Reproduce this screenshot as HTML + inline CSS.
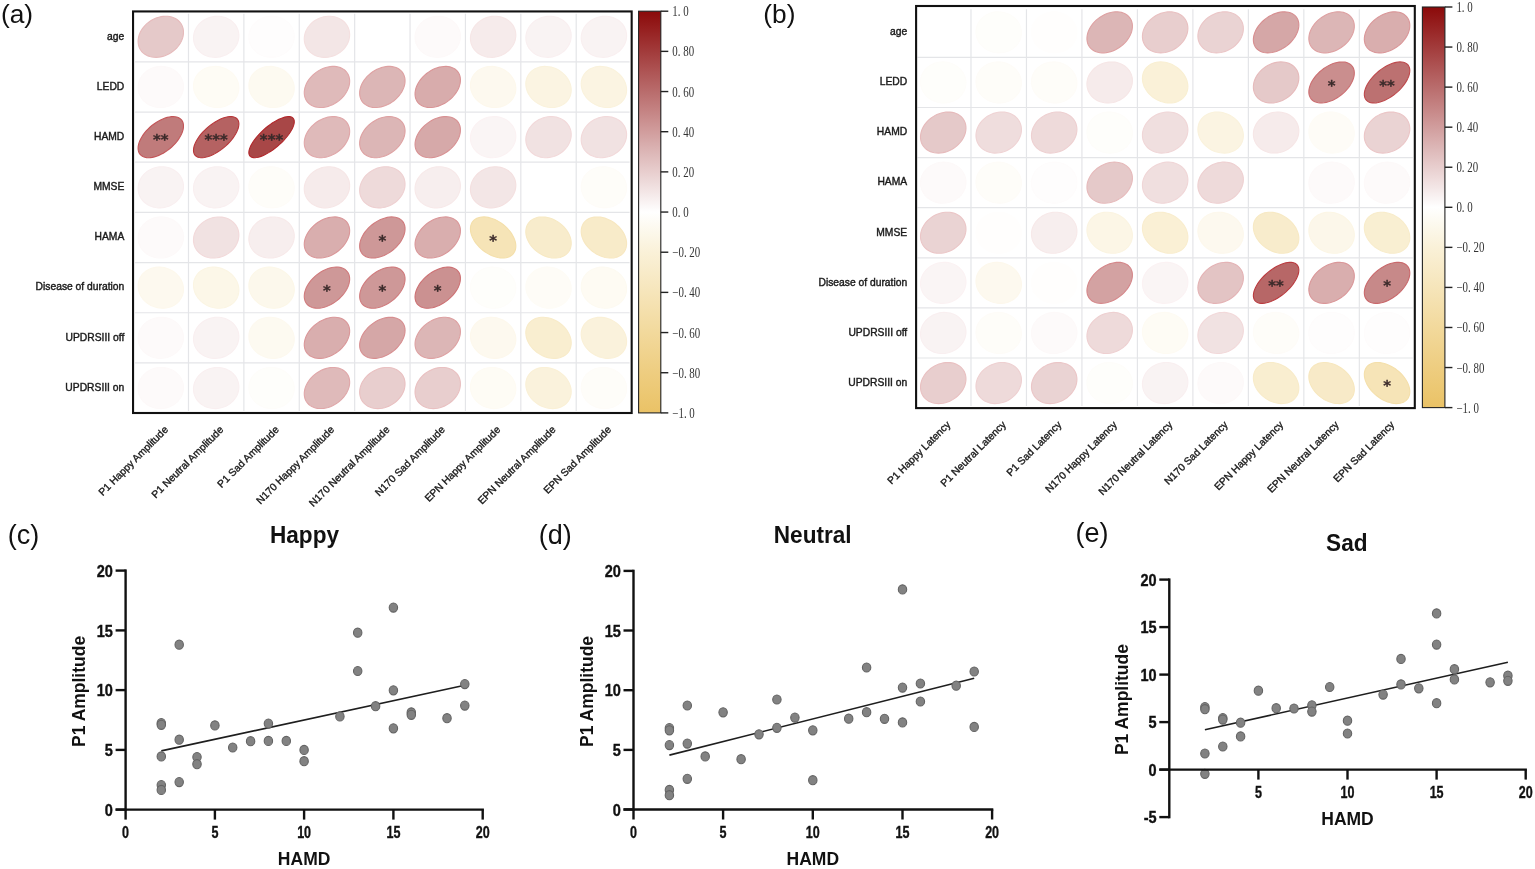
<!DOCTYPE html>
<html><head><meta charset="utf-8"><title>Figure</title>
<style>html,body{margin:0;padding:0;background:#fff;}body{width:1535px;height:869px;overflow:hidden;}svg{display:block;}</style>
</head><body>
<svg width="1535" height="869" viewBox="0 0 1535 869" font-family="'Liberation Sans', Arial, Helvetica, sans-serif">
<rect width="1535" height="869" fill="#fff"/>
<g stroke="#e4e5e8" stroke-width="1.2">
<line x1="188.49" y1="13.7" x2="188.49" y2="411.1"/>
<line x1="243.88" y1="13.7" x2="243.88" y2="411.1"/>
<line x1="299.27" y1="13.7" x2="299.27" y2="411.1"/>
<line x1="354.66" y1="13.7" x2="354.66" y2="411.1"/>
<line x1="410.04" y1="13.7" x2="410.04" y2="411.1"/>
<line x1="465.43" y1="13.7" x2="465.43" y2="411.1"/>
<line x1="520.82" y1="13.7" x2="520.82" y2="411.1"/>
<line x1="576.21" y1="13.7" x2="576.21" y2="411.1"/>
<line x1="135.1" y1="61.88" x2="629.6" y2="61.88"/>
<line x1="135.1" y1="112.05" x2="629.6" y2="112.05"/>
<line x1="135.1" y1="162.22" x2="629.6" y2="162.22"/>
<line x1="135.1" y1="212.40" x2="629.6" y2="212.40"/>
<line x1="135.1" y1="262.58" x2="629.6" y2="262.58"/>
<line x1="135.1" y1="312.75" x2="629.6" y2="312.75"/>
<line x1="135.1" y1="362.93" x2="629.6" y2="362.93"/>
</g>
<path d="M178.53,20.72 L177.06,19.54 L175.42,18.52 L173.65,17.68 L171.75,17.03 L169.75,16.56 L167.66,16.29 L165.51,16.22 L163.31,16.34 L161.08,16.66 L158.86,17.18 L156.65,17.88 L154.48,18.77 L152.37,19.83 L150.35,21.05 L148.42,22.43 L146.61,23.94 L144.94,25.58 L143.42,27.32 L142.07,29.16 L140.90,31.07 L139.93,33.03 L139.15,35.03 L138.58,37.05 L138.22,39.06 L138.09,41.06 L138.17,43.01 L138.47,44.90 L138.98,46.72 L139.70,48.43 L140.63,50.04 L141.75,51.52 L143.06,52.85 L144.53,54.04 L146.17,55.05 L147.94,55.89 L149.84,56.55 L151.84,57.01 L153.93,57.28 L156.08,57.36 L158.28,57.23 L160.51,56.91 L162.73,56.40 L164.94,55.69 L167.11,54.81 L169.22,53.75 L171.24,52.52 L173.17,51.15 L174.98,49.63 L176.65,48.00 L178.16,46.25 L179.51,44.42 L180.68,42.51 L181.66,40.54 L182.44,38.54 L183.01,36.53 L183.36,34.51 L183.50,32.52 L183.42,30.57 L183.12,28.67 L182.61,26.86 L181.88,25.14 L180.96,23.54 L179.84,22.06Z" fill="#e5c9c9" stroke="#e6babb" stroke-width="1.1"/>
<path d="M232.64,21.88 L231.02,20.56 L229.27,19.40 L227.39,18.41 L225.40,17.59 L223.32,16.96 L221.17,16.52 L218.97,16.27 L216.75,16.22 L214.52,16.37 L212.31,16.72 L210.14,17.26 L208.02,17.98 L205.98,18.89 L204.04,19.97 L202.22,21.22 L200.53,22.61 L198.99,24.14 L197.62,25.79 L196.43,27.55 L195.43,29.39 L194.62,31.31 L194.03,33.28 L193.65,35.28 L193.48,37.30 L193.53,39.32 L193.81,41.30 L194.29,43.25 L194.99,45.13 L195.89,46.94 L196.99,48.64 L198.27,50.23 L199.73,51.69 L201.34,53.01 L203.10,54.17 L204.98,55.17 L206.97,55.98 L209.05,56.62 L211.20,57.06 L213.39,57.30 L215.62,57.35 L217.84,57.20 L220.06,56.86 L222.23,56.32 L224.35,55.59 L226.38,54.68 L228.32,53.60 L230.15,52.36 L231.83,50.97 L233.37,49.44 L234.74,47.79 L235.94,46.03 L236.94,44.18 L237.74,42.26 L238.34,40.30 L238.72,38.29 L238.89,36.27 L238.83,34.26 L238.56,32.27 L238.07,30.33 L237.37,28.44 L236.47,26.64 L235.38,24.93 L234.09,23.34Z" fill="#f9f3f3" stroke="#f9eff0" stroke-width="1.1"/>
<path d="M287.71,22.17 L286.07,20.82 L284.28,19.63 L282.38,18.60 L280.37,17.74 L278.27,17.07 L276.11,16.59 L273.91,16.30 L271.69,16.22 L269.46,16.33 L267.25,16.63 L265.09,17.13 L262.99,17.82 L260.97,18.69 L259.05,19.74 L257.25,20.95 L255.59,22.31 L254.09,23.82 L252.75,25.44 L251.60,27.18 L250.64,29.01 L249.87,30.91 L249.32,32.88 L248.98,34.87 L248.86,36.89 L248.96,38.91 L249.28,40.90 L249.81,42.86 L250.55,44.75 L251.49,46.58 L252.63,48.30 L253.95,49.92 L255.43,51.41 L257.08,52.75 L258.86,53.95 L260.77,54.98 L262.78,55.83 L264.87,56.50 L267.03,56.98 L269.23,57.27 L271.46,57.36 L273.69,57.25 L275.89,56.94 L278.06,56.44 L280.16,55.75 L282.18,54.88 L284.09,53.83 L285.89,52.62 L287.55,51.26 L289.05,49.76 L290.39,48.13 L291.55,46.39 L292.51,44.56 L293.27,42.66 L293.82,40.70 L294.16,38.70 L294.28,36.68 L294.18,34.67 L293.87,32.67 L293.34,30.72 L292.60,28.82 L291.65,27.00 L290.52,25.27 L289.20,23.66Z" fill="#fefdfd" stroke="#fefcfc" stroke-width="1.1"/>
<path d="M343.80,21.53 L342.23,20.25 L340.51,19.13 L338.66,18.18 L336.69,17.41 L334.63,16.83 L332.50,16.44 L330.32,16.24 L328.10,16.24 L325.87,16.44 L323.65,16.84 L321.47,17.43 L319.33,18.20 L317.27,19.15 L315.31,20.28 L313.45,21.56 L311.73,22.99 L310.15,24.55 L308.73,26.23 L307.49,28.01 L306.44,29.88 L305.59,31.81 L304.94,33.79 L304.50,35.80 L304.28,37.82 L304.28,39.83 L304.49,41.81 L304.93,43.74 L305.57,45.60 L306.42,47.38 L307.47,49.06 L308.71,50.62 L310.12,52.04 L311.69,53.32 L313.41,54.44 L315.27,55.39 L317.23,56.16 L319.29,56.75 L321.42,57.14 L323.61,57.34 L325.82,57.33 L328.05,57.13 L330.27,56.74 L332.46,56.15 L334.59,55.38 L336.65,54.42 L338.62,53.30 L340.47,52.02 L342.20,50.59 L343.77,49.03 L345.19,47.35 L346.43,45.56 L347.48,43.70 L348.34,41.77 L348.98,39.79 L349.42,37.78 L349.64,35.76 L349.64,33.75 L349.43,31.77 L349.00,29.84 L348.35,27.97 L347.50,26.19 L346.45,24.52 L345.21,22.96Z" fill="#f3e6e6" stroke="#f4e0e0" stroke-width="1.1"/>
<path d="M453.96,22.10 L452.32,20.76 L450.54,19.57 L448.64,18.55 L446.64,17.70 L444.55,17.04 L442.39,16.57 L440.19,16.30 L437.97,16.22 L435.74,16.34 L433.53,16.65 L431.36,17.16 L429.26,17.86 L427.23,18.74 L425.31,19.80 L423.51,21.02 L421.84,22.39 L420.33,23.90 L418.98,25.53 L417.82,27.27 L416.85,29.11 L416.07,31.01 L415.51,32.98 L415.16,34.98 L415.03,36.99 L415.12,39.01 L415.42,41.00 L415.94,42.96 L416.67,44.85 L417.60,46.67 L418.73,48.39 L420.04,50.00 L421.52,51.48 L423.16,52.82 L424.93,54.01 L426.83,55.03 L428.84,55.87 L430.93,56.53 L433.09,57.00 L435.29,57.28 L437.51,57.36 L439.74,57.24 L441.95,56.92 L444.11,56.41 L446.22,55.71 L448.24,54.83 L450.17,53.78 L451.97,52.56 L453.64,51.19 L455.15,49.68 L456.49,48.04 L457.66,46.30 L458.63,44.47 L459.40,42.56 L459.97,40.60 L460.32,38.60 L460.45,36.58 L460.36,34.57 L460.06,32.57 L459.54,30.62 L458.81,28.73 L457.87,26.91 L456.75,25.19 L455.44,23.58Z" fill="#fdfafa" stroke="#fdf9f9" stroke-width="1.1"/>
<path d="M509.82,21.67 L508.23,20.38 L506.49,19.24 L504.63,18.27 L502.65,17.48 L500.58,16.88 L498.45,16.47 L496.26,16.25 L494.04,16.23 L491.81,16.41 L489.59,16.79 L487.41,17.36 L485.28,18.11 L483.23,19.05 L481.28,20.15 L479.44,21.42 L477.73,22.84 L476.16,24.38 L474.77,26.05 L473.54,27.82 L472.51,29.68 L471.68,31.61 L471.05,33.59 L470.63,35.59 L470.44,37.61 L470.46,39.62 L470.70,41.61 L471.15,43.54 L471.82,45.41 L472.69,47.20 L473.76,48.89 L475.01,50.46 L476.44,51.90 L478.03,53.20 L479.77,54.34 L481.63,55.30 L483.60,56.09 L485.67,56.70 L487.81,57.11 L490.00,57.32 L492.22,57.34 L494.45,57.16 L496.66,56.79 L498.84,56.22 L500.97,55.46 L503.02,54.53 L504.98,53.42 L506.82,52.15 L508.53,50.74 L510.09,49.19 L511.49,47.52 L512.71,45.75 L513.74,43.89 L514.58,41.97 L515.21,39.99 L515.62,37.98 L515.82,35.96 L515.80,33.95 L515.56,31.97 L515.11,30.03 L514.44,28.16 L513.57,26.37 L512.50,24.68 L511.25,23.11Z" fill="#f6ebeb" stroke="#f6e6e6" stroke-width="1.1"/>
<path d="M564.97,21.88 L563.36,20.56 L561.60,19.40 L559.72,18.41 L557.73,17.59 L555.65,16.96 L553.50,16.52 L551.31,16.27 L549.08,16.22 L546.86,16.37 L544.64,16.72 L542.47,17.26 L540.35,17.98 L538.32,18.89 L536.38,19.97 L534.55,21.22 L532.87,22.61 L531.33,24.14 L529.96,25.79 L528.76,27.55 L527.76,29.39 L526.96,31.31 L526.36,33.28 L525.98,35.28 L525.81,37.30 L525.87,39.32 L526.14,41.30 L526.63,43.25 L527.33,45.13 L528.23,46.94 L529.32,48.64 L530.61,50.23 L532.06,51.69 L533.68,53.01 L535.43,54.17 L537.31,55.17 L539.30,55.98 L541.38,56.62 L543.53,57.06 L545.73,57.30 L547.95,57.35 L550.18,57.20 L552.39,56.86 L554.56,56.32 L556.68,55.59 L558.72,54.68 L560.66,53.60 L562.48,52.36 L564.17,50.97 L565.71,49.44 L567.08,47.79 L568.27,46.03 L569.27,44.18 L570.08,42.26 L570.67,40.30 L571.05,38.29 L571.22,36.27 L571.17,34.26 L570.89,32.27 L570.41,30.33 L569.71,28.44 L568.81,26.64 L567.71,24.93 L566.43,23.34Z" fill="#f9f3f3" stroke="#f9eff0" stroke-width="1.1"/>
<path d="M620.36,21.88 L618.75,20.56 L616.99,19.40 L615.11,18.41 L613.12,17.59 L611.04,16.96 L608.89,16.52 L606.70,16.27 L604.47,16.22 L602.25,16.37 L600.03,16.72 L597.86,17.26 L595.74,17.98 L593.70,18.89 L591.77,19.97 L589.94,21.22 L588.25,22.61 L586.72,24.14 L585.34,25.79 L584.15,27.55 L583.15,29.39 L582.35,31.31 L581.75,33.28 L581.37,35.28 L581.20,37.30 L581.26,39.32 L581.53,41.30 L582.02,43.25 L582.71,45.13 L583.62,46.94 L584.71,48.64 L586.00,50.23 L587.45,51.69 L589.06,53.01 L590.82,54.17 L592.70,55.17 L594.69,55.98 L596.77,56.62 L598.92,57.06 L601.12,57.30 L603.34,57.35 L605.57,57.20 L607.78,56.86 L609.95,56.32 L612.07,55.59 L614.11,54.68 L616.05,53.60 L617.87,52.36 L619.56,50.97 L621.09,49.44 L622.47,47.79 L623.66,46.03 L624.66,44.18 L625.47,42.26 L626.06,40.30 L626.44,38.29 L626.61,36.27 L626.55,34.26 L626.28,32.27 L625.80,30.33 L625.10,28.44 L624.19,26.64 L623.10,24.93 L621.81,23.34Z" fill="#f9f3f3" stroke="#f9eff0" stroke-width="1.1"/>
<path d="M177.01,72.27 L175.38,70.93 L173.60,69.74 L171.70,68.72 L169.69,67.88 L167.60,67.22 L165.45,66.75 L163.25,66.47 L161.02,66.39 L158.79,66.51 L156.59,66.83 L154.42,67.34 L152.31,68.04 L150.29,68.92 L148.37,69.97 L146.56,71.19 L144.90,72.56 L143.38,74.07 L142.04,75.71 L140.87,77.45 L139.90,79.28 L139.13,81.19 L138.57,83.15 L138.22,85.15 L138.09,87.17 L138.17,89.18 L138.48,91.18 L139.00,93.13 L139.73,95.02 L140.66,96.84 L141.79,98.56 L143.10,100.17 L144.58,101.65 L146.21,102.99 L147.99,104.18 L149.89,105.20 L151.89,106.05 L153.99,106.71 L156.14,107.18 L158.34,107.45 L160.57,107.53 L162.79,107.41 L165.00,107.10 L167.17,106.59 L169.27,105.89 L171.30,105.01 L173.22,103.95 L175.02,102.73 L176.69,101.36 L178.20,99.85 L179.55,98.22 L180.71,96.48 L181.69,94.64 L182.46,92.74 L183.02,90.77 L183.37,88.77 L183.50,86.76 L183.42,84.74 L183.11,82.75 L182.59,80.79 L181.86,78.90 L180.93,77.08 L179.80,75.36 L178.49,73.75Z" fill="#fdfafa" stroke="#fdf9f9" stroke-width="1.1"/>
<path d="M231.83,72.78 L230.15,71.39 L228.32,70.15 L226.38,69.07 L224.35,68.16 L222.23,67.43 L220.06,66.89 L217.84,66.55 L215.62,66.40 L213.39,66.45 L211.20,66.69 L209.05,67.13 L206.97,67.77 L204.98,68.58 L203.10,69.58 L201.34,70.74 L199.73,72.06 L198.27,73.52 L196.99,75.11 L195.89,76.81 L194.99,78.62 L194.29,80.50 L193.81,82.45 L193.53,84.43 L193.48,86.45 L193.65,88.47 L194.03,90.47 L194.62,92.44 L195.43,94.36 L196.43,96.20 L197.62,97.96 L198.99,99.61 L200.53,101.14 L202.22,102.53 L204.04,103.78 L205.98,104.86 L208.02,105.77 L210.14,106.49 L212.31,107.03 L214.52,107.38 L216.75,107.53 L218.97,107.48 L221.17,107.23 L223.32,106.79 L225.40,106.16 L227.39,105.34 L229.27,104.35 L231.02,103.19 L232.64,101.87 L234.09,100.41 L235.38,98.82 L236.47,97.11 L237.37,95.31 L238.07,93.42 L238.56,91.48 L238.83,89.49 L238.89,87.48 L238.72,85.46 L238.34,83.45 L237.74,81.49 L236.94,79.57 L235.94,77.72 L234.74,75.96 L233.37,74.31Z" fill="#fefcf5" stroke="#fefbf3" stroke-width="1.1"/>
<path d="M287.06,72.93 L285.36,71.53 L283.52,70.27 L281.57,69.17 L279.52,68.24 L277.40,67.50 L275.22,66.94 L273.01,66.57 L270.78,66.40 L268.56,66.43 L266.36,66.66 L264.22,67.08 L262.15,67.69 L260.17,68.49 L258.30,69.47 L256.56,70.61 L254.96,71.92 L253.52,73.36 L252.26,74.94 L251.18,76.64 L250.30,78.43 L249.62,80.31 L249.16,82.25 L248.91,84.23 L248.88,86.24 L249.06,88.26 L249.47,90.27 L250.08,92.24 L250.91,94.16 L251.93,96.02 L253.14,97.79 L254.53,99.45 L256.09,100.99 L257.79,102.40 L259.62,103.66 L261.58,104.75 L263.62,105.68 L265.75,106.43 L267.92,106.99 L270.14,107.35 L272.37,107.52 L274.59,107.49 L276.78,107.27 L278.92,106.85 L280.99,106.23 L282.97,105.43 L284.84,104.46 L286.58,103.31 L288.18,102.01 L289.62,100.56 L290.88,98.98 L291.96,97.29 L292.84,95.50 L293.52,93.62 L293.99,91.68 L294.24,89.69 L294.27,87.68 L294.08,85.66 L293.68,83.66 L293.06,81.68 L292.24,79.76 L291.21,77.91 L290.00,76.14 L288.61,74.48Z" fill="#fdfaf1" stroke="#fdf9ef" stroke-width="1.1"/>
<path d="M345.13,70.51 L343.71,69.37 L342.12,68.41 L340.39,67.63 L338.53,67.03 L336.56,66.63 L334.50,66.42 L332.36,66.41 L330.17,66.60 L327.95,66.98 L325.73,67.56 L323.51,68.32 L321.33,69.26 L319.20,70.37 L317.14,71.65 L315.18,73.07 L313.34,74.62 L311.62,76.29 L310.05,78.07 L308.65,79.93 L307.42,81.86 L306.38,83.83 L305.54,85.84 L304.90,87.86 L304.48,89.87 L304.27,91.85 L304.29,93.79 L304.52,95.66 L304.96,97.44 L305.62,99.13 L306.48,100.70 L307.55,102.13 L308.79,103.42 L310.22,104.55 L311.80,105.51 L313.53,106.29 L315.39,106.89 L317.36,107.30 L319.43,107.50 L321.56,107.51 L323.75,107.33 L325.97,106.94 L328.20,106.37 L330.41,105.61 L332.60,104.66 L334.73,103.55 L336.78,102.28 L338.74,100.86 L340.59,99.31 L342.30,97.63 L343.87,95.86 L345.27,94.00 L346.50,92.07 L347.54,90.09 L348.38,88.08 L349.02,86.06 L349.44,84.05 L349.65,82.07 L349.64,80.14 L349.41,78.27 L348.96,76.48 L348.30,74.80 L347.44,73.23 L346.38,71.79Z" fill="#dfbaba" stroke="#e0a7a9" stroke-width="1.1"/>
<path d="M400.66,70.38 L399.25,69.26 L397.69,68.32 L395.97,67.56 L394.12,66.98 L392.16,66.60 L390.11,66.41 L387.98,66.42 L385.80,66.63 L383.58,67.03 L381.35,67.63 L379.13,68.41 L376.94,69.37 L374.81,70.50 L372.74,71.79 L370.77,73.23 L368.91,74.79 L367.19,76.48 L365.60,78.26 L364.18,80.13 L362.93,82.07 L361.87,84.05 L361.01,86.06 L360.35,88.08 L359.90,90.08 L359.67,92.06 L359.66,93.99 L359.87,95.85 L360.29,97.63 L360.93,99.30 L361.77,100.85 L362.81,102.28 L364.04,103.55 L365.45,104.66 L367.01,105.60 L368.73,106.37 L370.58,106.94 L372.54,107.33 L374.59,107.51 L376.72,107.50 L378.90,107.30 L381.12,106.89 L383.35,106.30 L385.57,105.51 L387.76,104.55 L389.89,103.42 L391.96,102.13 L393.93,100.70 L395.79,99.13 L397.51,97.45 L399.10,95.66 L400.52,93.79 L401.77,91.86 L402.83,89.88 L403.69,87.87 L404.35,85.85 L404.80,83.84 L405.03,81.86 L405.04,79.93 L404.83,78.07 L404.41,76.30 L403.77,74.62 L402.93,73.07 L401.89,71.65Z" fill="#dcb6b6" stroke="#dea1a2" stroke-width="1.1"/>
<path d="M456.33,70.12 L454.96,69.05 L453.43,68.14 L451.74,67.42 L449.92,66.88 L447.98,66.54 L445.95,66.40 L443.83,66.45 L441.66,66.70 L439.45,67.15 L437.22,67.78 L435.00,68.60 L432.80,69.60 L430.65,70.77 L428.57,72.09 L426.58,73.55 L424.69,75.14 L422.93,76.85 L421.32,78.66 L419.86,80.54 L418.57,82.49 L417.47,84.48 L416.56,86.49 L415.86,88.51 L415.37,90.51 L415.09,92.48 L415.04,94.40 L415.20,96.24 L415.57,98.00 L416.16,99.65 L416.96,101.17 L417.96,102.56 L419.15,103.80 L420.52,104.88 L422.05,105.78 L423.74,106.51 L425.56,107.04 L427.49,107.38 L429.53,107.53 L431.65,107.48 L433.82,107.23 L436.03,106.78 L438.26,106.14 L440.48,105.32 L442.68,104.32 L444.83,103.16 L446.91,101.84 L448.90,100.37 L450.78,98.78 L452.54,97.07 L454.16,95.27 L455.62,93.38 L456.90,91.44 L458.01,89.45 L458.91,87.43 L459.62,85.42 L460.11,83.41 L460.38,81.44 L460.44,79.53 L460.28,77.68 L459.90,75.93 L459.31,74.28 L458.52,72.75 L457.52,71.36Z" fill="#d8acac" stroke="#d99496" stroke-width="1.1"/>
<path d="M508.53,73.01 L506.82,71.60 L504.98,70.33 L503.02,69.22 L500.97,68.29 L498.84,67.53 L496.66,66.96 L494.45,66.59 L492.22,66.41 L490.00,66.43 L487.81,66.64 L485.67,67.05 L483.60,67.66 L481.63,68.45 L479.77,69.41 L478.03,70.55 L476.44,71.85 L475.01,73.29 L473.76,74.86 L472.69,76.55 L471.82,78.34 L471.15,80.21 L470.70,82.14 L470.46,84.13 L470.44,86.14 L470.63,88.16 L471.05,90.16 L471.68,92.14 L472.51,94.07 L473.54,95.93 L474.77,97.70 L476.16,99.37 L477.73,100.91 L479.44,102.33 L481.28,103.60 L483.23,104.70 L485.28,105.64 L487.41,106.39 L489.59,106.96 L491.81,107.34 L494.04,107.52 L496.26,107.50 L498.45,107.28 L500.58,106.87 L502.65,106.27 L504.63,105.48 L506.49,104.51 L508.23,103.37 L509.82,102.08 L511.25,100.64 L512.50,99.07 L513.57,97.38 L514.44,95.59 L515.11,93.72 L515.56,91.78 L515.80,89.80 L515.82,87.79 L515.62,85.77 L515.21,83.76 L514.58,81.78 L513.74,79.86 L512.71,78.00 L511.49,76.23 L510.09,74.56Z" fill="#fdf9ef" stroke="#fdf8ec" stroke-width="1.1"/>
<path d="M563.32,73.55 L561.56,72.09 L559.68,70.77 L557.69,69.60 L555.60,68.60 L553.46,67.78 L551.26,67.15 L549.04,66.70 L546.81,66.45 L544.60,66.40 L542.42,66.54 L540.31,66.88 L538.27,67.42 L536.34,68.14 L534.52,69.05 L532.83,70.12 L531.30,71.36 L529.93,72.75 L528.74,74.28 L527.74,75.93 L526.94,77.68 L526.35,79.53 L525.97,81.44 L525.81,83.41 L525.87,85.42 L526.15,87.43 L526.64,89.45 L527.34,91.44 L528.25,93.38 L529.35,95.27 L530.64,97.07 L532.10,98.78 L533.71,100.37 L535.47,101.84 L537.36,103.16 L539.35,104.32 L541.43,105.32 L543.58,106.14 L545.77,106.78 L548.00,107.23 L550.22,107.48 L552.44,107.53 L554.61,107.38 L556.72,107.04 L558.76,106.51 L560.70,105.78 L562.52,104.88 L564.20,103.80 L565.74,102.56 L567.11,101.17 L568.29,99.65 L569.29,98.00 L570.09,96.24 L570.68,94.40 L571.06,92.48 L571.22,90.51 L571.16,88.51 L570.89,86.49 L570.39,84.48 L569.69,82.49 L568.78,80.54 L567.68,78.66 L566.40,76.85 L564.94,75.14Z" fill="#fbf4e2" stroke="#faf2dc" stroke-width="1.1"/>
<path d="M618.71,73.55 L616.95,72.09 L615.07,70.77 L613.07,69.60 L610.99,68.60 L608.84,67.78 L606.65,67.15 L604.43,66.70 L602.20,66.45 L599.99,66.40 L597.81,66.54 L595.70,66.88 L593.66,67.42 L591.72,68.14 L589.90,69.05 L588.22,70.12 L586.69,71.36 L585.32,72.75 L584.13,74.28 L583.13,75.93 L582.33,77.68 L581.74,79.53 L581.36,81.44 L581.20,83.41 L581.26,85.42 L581.54,87.43 L582.03,89.45 L582.73,91.44 L583.64,93.38 L584.74,95.27 L586.03,97.07 L587.48,98.78 L589.10,100.37 L590.86,101.84 L592.74,103.16 L594.74,104.32 L596.82,105.32 L598.97,106.14 L601.16,106.78 L603.39,107.23 L605.61,107.48 L607.82,107.53 L610.00,107.38 L612.11,107.04 L614.15,106.51 L616.09,105.78 L617.91,104.88 L619.59,103.80 L621.13,102.56 L622.49,101.17 L623.68,99.65 L624.68,98.00 L625.48,96.24 L626.07,94.40 L626.45,92.48 L626.61,90.51 L626.55,88.51 L626.27,86.49 L625.78,84.48 L625.08,82.49 L624.17,80.54 L623.07,78.66 L621.79,76.85 L620.33,75.14Z" fill="#fbf4e2" stroke="#faf2dc" stroke-width="1.1"/>
<path d="M180.72,119.09 L179.56,118.21 L178.21,117.51 L176.70,117.00 L175.04,116.68 L173.23,116.57 L171.31,116.65 L169.29,116.92 L167.18,117.40 L165.02,118.06 L162.81,118.91 L160.58,119.93 L158.36,121.11 L156.16,122.46 L154.00,123.94 L151.91,125.55 L149.90,127.27 L148.00,129.09 L146.22,130.98 L144.59,132.94 L143.11,134.93 L141.80,136.95 L140.67,138.96 L139.73,140.96 L139.00,142.93 L138.48,144.83 L138.17,146.67 L138.09,148.41 L138.22,150.04 L138.56,151.55 L139.13,152.92 L139.90,154.14 L140.87,155.19 L142.03,156.07 L143.37,156.77 L144.89,157.28 L146.55,157.59 L148.35,157.71 L150.28,157.63 L152.30,157.35 L154.40,156.88 L156.57,156.22 L158.78,155.37 L161.01,154.35 L163.23,153.16 L165.43,151.82 L167.59,150.34 L169.68,148.73 L171.69,147.00 L173.59,145.19 L175.36,143.29 L177.00,141.34 L178.48,139.34 L179.79,137.33 L180.92,135.31 L181.86,133.31 L182.59,131.35 L183.11,129.44 L183.41,127.61 L183.50,125.87 L183.37,124.24 L183.03,122.73 L182.46,121.36 L181.69,120.14Z" fill="#c07b7b" stroke="#c35558" stroke-width="1.1"/>
<path d="M236.75,118.51 L235.70,117.74 L234.47,117.16 L233.07,116.78 L231.50,116.59 L229.78,116.59 L227.93,116.80 L225.97,117.20 L223.91,117.79 L221.78,118.57 L219.60,119.53 L217.38,120.66 L215.15,121.95 L212.93,123.38 L210.75,124.94 L208.61,126.63 L206.55,128.41 L204.58,130.28 L202.72,132.21 L200.99,134.19 L199.41,136.20 L197.99,138.22 L196.75,140.23 L195.69,142.21 L194.83,144.14 L194.17,146.00 L193.73,147.78 L193.51,149.45 L193.50,151.01 L193.71,152.43 L194.13,153.71 L194.77,154.82 L195.62,155.77 L196.66,156.53 L197.89,157.11 L199.30,157.50 L200.87,157.69 L202.59,157.68 L204.44,157.48 L206.40,157.07 L208.46,156.48 L210.59,155.70 L212.77,154.74 L214.99,153.62 L217.22,152.33 L219.43,150.90 L221.62,149.33 L223.76,147.65 L225.82,145.87 L227.79,144.00 L229.64,142.06 L231.37,140.08 L232.95,138.07 L234.37,136.05 L235.62,134.04 L236.68,132.07 L237.54,130.14 L238.19,128.27 L238.63,126.50 L238.86,124.82 L238.87,123.27 L238.66,121.84 L238.23,120.57 L237.59,119.45Z" fill="#b56262" stroke="#b83639" stroke-width="1.1"/>
<path d="M292.81,117.89 L291.93,117.27 L290.84,116.85 L289.57,116.61 L288.13,116.58 L286.52,116.74 L284.77,117.10 L282.90,117.65 L280.92,118.39 L278.84,119.31 L276.70,120.40 L274.51,121.65 L272.28,123.05 L270.06,124.59 L267.84,126.25 L265.66,128.01 L263.54,129.86 L261.50,131.79 L259.55,133.76 L257.72,135.76 L256.03,137.78 L254.48,139.79 L253.09,141.78 L251.89,143.72 L250.87,145.60 L250.06,147.40 L249.45,149.10 L249.05,150.68 L248.87,152.13 L248.91,153.44 L249.17,154.59 L249.64,155.58 L250.33,156.38 L251.22,157.00 L252.30,157.43 L253.57,157.66 L255.02,157.70 L256.62,157.54 L258.37,157.18 L260.24,156.63 L262.23,155.89 L264.30,154.97 L266.45,153.88 L268.64,152.62 L270.86,151.22 L273.09,149.68 L275.30,148.03 L277.48,146.26 L279.60,144.41 L281.64,142.49 L283.59,140.52 L285.42,138.51 L287.12,136.49 L288.67,134.48 L290.05,132.49 L291.25,130.55 L292.27,128.67 L293.09,126.88 L293.70,125.18 L294.09,123.60 L294.27,122.14 L294.23,120.83 L293.97,119.68 L293.50,118.70Z" fill="#a84747" stroke="#b2262a" stroke-width="1.1"/>
<path d="M345.13,120.68 L343.71,119.55 L342.12,118.59 L340.39,117.81 L338.53,117.21 L336.56,116.80 L334.50,116.60 L332.36,116.59 L330.17,116.77 L327.95,117.16 L325.73,117.73 L323.51,118.49 L321.33,119.44 L319.20,120.55 L317.14,121.82 L315.18,123.24 L313.34,124.79 L311.62,126.47 L310.05,128.24 L308.65,130.10 L307.42,132.03 L306.38,134.01 L305.54,136.02 L304.90,138.04 L304.48,140.05 L304.27,142.03 L304.29,143.96 L304.52,145.83 L304.96,147.62 L305.62,149.30 L306.48,150.87 L307.55,152.31 L308.79,153.59 L310.22,154.73 L311.80,155.69 L313.53,156.47 L315.39,157.07 L317.36,157.47 L319.43,157.68 L321.56,157.69 L323.75,157.50 L325.97,157.12 L328.20,156.54 L330.41,155.78 L332.60,154.84 L334.73,153.73 L336.78,152.45 L338.74,151.03 L340.59,149.48 L342.30,147.81 L343.87,146.03 L345.27,144.17 L346.50,142.24 L347.54,140.27 L348.38,138.26 L349.02,136.24 L349.44,134.23 L349.65,132.25 L349.64,130.31 L349.41,128.44 L348.96,126.66 L348.30,124.97 L347.44,123.40 L346.38,121.97Z" fill="#dfbaba" stroke="#e0a7a9" stroke-width="1.1"/>
<path d="M400.66,120.55 L399.25,119.44 L397.69,118.50 L395.97,117.73 L394.12,117.16 L392.16,116.77 L390.11,116.59 L387.98,116.60 L385.80,116.80 L383.58,117.21 L381.35,117.80 L379.13,118.59 L376.94,119.55 L374.81,120.68 L372.74,121.97 L370.77,123.40 L368.91,124.97 L367.19,126.65 L365.60,128.44 L364.18,130.31 L362.93,132.24 L361.87,134.22 L361.01,136.23 L360.35,138.25 L359.90,140.26 L359.67,142.24 L359.66,144.17 L359.87,146.03 L360.29,147.80 L360.93,149.48 L361.77,151.03 L362.81,152.45 L364.04,153.72 L365.45,154.84 L367.01,155.78 L368.73,156.54 L370.58,157.12 L372.54,157.50 L374.59,157.69 L376.72,157.68 L378.90,157.47 L381.12,157.07 L383.35,156.47 L385.57,155.69 L387.76,154.73 L389.89,153.60 L391.96,152.31 L393.93,150.87 L395.79,149.31 L397.51,147.62 L399.10,145.84 L400.52,143.97 L401.77,142.03 L402.83,140.05 L403.69,138.04 L404.35,136.02 L404.80,134.02 L405.03,132.04 L405.04,130.11 L404.83,128.25 L404.41,126.47 L403.77,124.80 L402.93,123.25 L401.89,121.82Z" fill="#dcb6b6" stroke="#dea1a2" stroke-width="1.1"/>
<path d="M456.40,120.24 L455.04,119.17 L453.51,118.27 L451.84,117.56 L450.02,117.03 L448.09,116.70 L446.06,116.57 L443.95,116.63 L441.78,116.89 L439.57,117.35 L437.34,118.00 L435.12,118.83 L432.92,119.83 L430.77,121.01 L428.68,122.34 L426.68,123.81 L424.79,125.41 L423.03,127.12 L421.40,128.93 L419.93,130.82 L418.64,132.77 L417.53,134.76 L416.61,136.78 L415.89,138.79 L415.39,140.80 L415.10,142.76 L415.03,144.67 L415.18,146.51 L415.55,148.26 L416.13,149.91 L416.91,151.43 L417.90,152.81 L419.08,154.04 L420.44,155.11 L421.97,156.00 L423.64,156.72 L425.46,157.24 L427.39,157.57 L429.42,157.71 L431.53,157.64 L433.70,157.38 L435.91,156.93 L438.14,156.28 L440.36,155.45 L442.56,154.44 L444.71,153.27 L446.80,151.94 L448.79,150.47 L450.69,148.87 L452.45,147.15 L454.08,145.34 L455.54,143.45 L456.84,141.50 L457.95,139.51 L458.87,137.50 L459.58,135.48 L460.09,133.48 L460.37,131.51 L460.44,129.60 L460.30,127.76 L459.93,126.01 L459.35,124.37 L458.56,122.85 L457.58,121.47Z" fill="#d6a9a9" stroke="#d89193" stroke-width="1.1"/>
<path d="M509.50,122.30 L507.88,120.98 L506.12,119.81 L504.23,118.80 L502.24,117.98 L500.15,117.34 L498.00,116.88 L495.81,116.63 L493.58,116.57 L491.35,116.71 L489.14,117.05 L486.97,117.57 L484.86,118.29 L482.83,119.19 L480.89,120.26 L479.08,121.50 L477.39,122.88 L475.86,124.41 L474.50,126.05 L473.32,127.80 L472.33,129.65 L471.53,131.56 L470.95,133.53 L470.58,135.53 L470.42,137.55 L470.49,139.56 L470.77,141.55 L471.27,143.50 L471.98,145.39 L472.89,147.20 L474.00,148.91 L475.29,150.50 L476.75,151.97 L478.37,153.30 L480.14,154.47 L482.02,155.47 L484.02,156.30 L486.10,156.94 L488.25,157.39 L490.45,157.65 L492.67,157.71 L494.90,157.57 L497.11,157.23 L499.28,156.70 L501.40,155.98 L503.43,155.08 L505.36,154.01 L507.18,152.78 L508.86,151.39 L510.39,149.87 L511.75,148.22 L512.94,146.47 L513.93,144.63 L514.72,142.71 L515.31,140.75 L515.68,138.74 L515.83,136.73 L515.77,134.71 L515.49,132.72 L514.99,130.77 L514.28,128.89 L513.37,127.08 L512.26,125.37 L510.97,123.77Z" fill="#faf5f5" stroke="#fbf2f3" stroke-width="1.1"/>
<path d="M565.51,121.74 L563.95,120.48 L562.25,119.38 L560.41,118.44 L558.45,117.69 L556.40,117.13 L554.28,116.76 L552.10,116.58 L549.88,116.60 L547.65,116.82 L545.43,117.24 L543.24,117.85 L541.10,118.64 L539.03,119.61 L537.06,120.75 L535.19,122.05 L533.45,123.49 L531.86,125.07 L530.43,126.76 L529.17,128.55 L528.10,130.42 L527.22,132.36 L526.55,134.34 L526.09,136.36 L525.85,138.37 L525.82,140.38 L526.02,142.36 L526.43,144.28 L527.05,146.14 L527.88,147.91 L528.91,149.57 L530.13,151.12 L531.52,152.53 L533.08,153.80 L534.79,154.90 L536.63,155.83 L538.58,156.58 L540.63,157.15 L542.76,157.52 L544.94,157.69 L547.15,157.67 L549.38,157.45 L551.60,157.04 L553.79,156.43 L555.93,155.64 L558.00,154.66 L559.98,153.52 L561.84,152.23 L563.58,150.78 L565.17,149.21 L566.61,147.52 L567.86,145.73 L568.94,143.85 L569.81,141.92 L570.48,139.93 L570.94,137.92 L571.19,135.90 L571.21,133.89 L571.02,131.92 L570.61,129.99 L569.98,128.14 L569.15,126.37 L568.12,124.70 L566.91,123.15Z" fill="#f1e2e2" stroke="#f2d9da" stroke-width="1.1"/>
<path d="M620.90,121.74 L619.34,120.48 L617.63,119.38 L615.80,118.44 L613.84,117.69 L611.79,117.13 L609.67,116.76 L607.49,116.58 L605.27,116.60 L603.04,116.82 L600.82,117.24 L598.63,117.85 L596.49,118.64 L594.42,119.61 L592.45,120.75 L590.58,122.05 L588.84,123.49 L587.25,125.07 L585.82,126.76 L584.56,128.55 L583.49,130.42 L582.61,132.36 L581.94,134.34 L581.48,136.36 L581.24,138.37 L581.21,140.38 L581.41,142.36 L581.82,144.28 L582.44,146.14 L583.27,147.91 L584.30,149.57 L585.52,151.12 L586.91,152.53 L588.47,153.80 L590.18,154.90 L592.02,155.83 L593.97,156.58 L596.02,157.15 L598.14,157.52 L600.33,157.69 L602.54,157.67 L604.77,157.45 L606.99,157.04 L609.18,156.43 L611.32,155.64 L613.39,154.66 L615.36,153.52 L617.23,152.23 L618.97,150.78 L620.56,149.21 L622.00,147.52 L623.25,145.73 L624.33,143.85 L625.20,141.92 L625.87,139.93 L626.33,137.92 L626.57,135.90 L626.60,133.89 L626.40,131.92 L625.99,129.99 L625.37,128.14 L624.54,126.37 L623.51,124.70 L622.29,123.15Z" fill="#f1e2e2" stroke="#f2d9da" stroke-width="1.1"/>
<path d="M177.25,172.41 L175.64,171.09 L173.88,169.93 L172.00,168.93 L170.01,168.12 L167.93,167.48 L165.78,167.04 L163.58,166.80 L161.36,166.75 L159.13,166.90 L156.92,167.24 L154.75,167.78 L152.63,168.51 L150.59,169.42 L148.65,170.50 L146.83,171.74 L145.14,173.13 L143.61,174.66 L142.23,176.31 L141.04,178.07 L140.04,179.92 L139.23,181.84 L138.64,183.80 L138.26,185.81 L138.09,187.83 L138.15,189.84 L138.42,191.83 L138.90,193.77 L139.60,195.66 L140.51,197.46 L141.60,199.17 L142.89,200.76 L144.34,202.22 L145.95,203.54 L147.71,204.70 L149.59,205.69 L151.58,206.51 L153.66,207.14 L155.81,207.58 L158.00,207.83 L160.23,207.88 L162.45,207.73 L164.67,207.38 L166.84,206.84 L168.96,206.12 L171.00,205.21 L172.93,204.13 L174.76,202.88 L176.45,201.49 L177.98,199.96 L179.36,198.31 L180.55,196.55 L181.55,194.71 L182.35,192.79 L182.95,190.82 L183.33,188.82 L183.50,186.80 L183.44,184.78 L183.17,182.80 L182.68,180.85 L181.99,178.97 L181.08,177.16 L179.99,175.46 L178.70,173.87Z" fill="#f9f3f3" stroke="#f9eff0" stroke-width="1.1"/>
<path d="M232.64,172.41 L231.02,171.09 L229.27,169.93 L227.39,168.93 L225.40,168.12 L223.32,167.48 L221.17,167.04 L218.97,166.80 L216.75,166.75 L214.52,166.90 L212.31,167.24 L210.14,167.78 L208.02,168.51 L205.98,169.42 L204.04,170.50 L202.22,171.74 L200.53,173.13 L198.99,174.66 L197.62,176.31 L196.43,178.07 L195.43,179.92 L194.62,181.84 L194.03,183.80 L193.65,185.81 L193.48,187.83 L193.53,189.84 L193.81,191.83 L194.29,193.77 L194.99,195.66 L195.89,197.46 L196.99,199.17 L198.27,200.76 L199.73,202.22 L201.34,203.54 L203.10,204.70 L204.98,205.69 L206.97,206.51 L209.05,207.14 L211.20,207.58 L213.39,207.83 L215.62,207.88 L217.84,207.73 L220.06,207.38 L222.23,206.84 L224.35,206.12 L226.38,205.21 L228.32,204.13 L230.15,202.88 L231.83,201.49 L233.37,199.96 L234.74,198.31 L235.94,196.55 L236.94,194.71 L237.74,192.79 L238.34,190.82 L238.72,188.82 L238.89,186.80 L238.83,184.78 L238.56,182.80 L238.07,180.85 L237.37,178.97 L236.47,177.16 L235.38,175.46 L234.09,173.87Z" fill="#f9f3f3" stroke="#f9eff0" stroke-width="1.1"/>
<path d="M287.39,172.99 L285.71,171.61 L283.90,170.38 L281.98,169.32 L279.95,168.43 L277.84,167.72 L275.67,167.20 L273.46,166.87 L271.23,166.74 L269.01,166.81 L266.81,167.08 L264.65,167.54 L262.57,168.19 L260.57,169.03 L258.67,170.04 L256.90,171.22 L255.28,172.55 L253.80,174.02 L252.50,175.63 L251.39,177.34 L250.46,179.16 L249.74,181.05 L249.24,183.00 L248.94,184.99 L248.87,187.00 L249.01,189.02 L249.37,191.02 L249.94,192.99 L250.72,194.90 L251.71,196.74 L252.88,198.48 L254.24,200.12 L255.76,201.64 L257.43,203.02 L259.24,204.24 L261.17,205.31 L263.20,206.20 L265.31,206.91 L267.48,207.43 L269.69,207.75 L271.91,207.88 L274.14,207.81 L276.34,207.55 L278.49,207.09 L280.58,206.43 L282.58,205.60 L284.47,204.59 L286.24,203.41 L287.87,202.08 L289.34,200.60 L290.64,199.00 L291.76,197.28 L292.68,195.47 L293.40,193.58 L293.91,191.63 L294.20,189.64 L294.28,187.62 L294.14,185.60 L293.78,183.60 L293.20,181.64 L292.42,179.73 L291.44,177.89 L290.26,176.14 L288.91,174.50Z" fill="#fefdf9" stroke="#fefcf8" stroke-width="1.1"/>
<path d="M343.65,172.20 L342.06,170.90 L340.32,169.76 L338.46,168.80 L336.48,168.01 L334.42,167.40 L332.28,166.99 L330.09,166.78 L327.87,166.76 L325.64,166.94 L323.43,167.31 L321.24,167.88 L319.12,168.64 L317.07,169.57 L315.11,170.68 L313.27,171.95 L311.56,173.36 L310.00,174.91 L308.60,176.58 L307.38,178.35 L306.35,180.21 L305.51,182.13 L304.88,184.11 L304.47,186.12 L304.27,188.14 L304.29,190.15 L304.53,192.13 L304.98,194.07 L305.65,195.94 L306.52,197.73 L307.59,199.42 L308.84,200.99 L310.27,202.43 L311.86,203.72 L313.60,204.86 L315.46,205.83 L317.44,206.62 L319.50,207.22 L321.64,207.63 L323.83,207.85 L326.05,207.87 L328.28,207.69 L330.50,207.31 L332.68,206.74 L334.80,205.99 L336.86,205.05 L338.81,203.95 L340.65,202.68 L342.36,201.26 L343.92,199.72 L345.32,198.05 L346.54,196.28 L347.58,194.42 L348.41,192.49 L349.04,190.51 L349.45,188.51 L349.65,186.49 L349.63,184.48 L349.39,182.49 L348.94,180.56 L348.27,178.69 L347.40,176.90 L346.33,175.21 L345.08,173.64Z" fill="#f6ebeb" stroke="#f6e6e6" stroke-width="1.1"/>
<path d="M399.57,171.71 L398.04,170.47 L396.35,169.40 L394.53,168.49 L392.59,167.77 L390.56,167.23 L388.44,166.89 L386.27,166.75 L384.06,166.80 L381.83,167.05 L379.61,167.50 L377.41,168.13 L375.26,168.95 L373.18,169.95 L371.19,171.12 L369.30,172.44 L367.55,173.90 L365.93,175.49 L364.47,177.20 L363.18,179.01 L362.08,180.89 L361.18,182.84 L360.47,184.83 L359.98,186.84 L359.70,188.86 L359.65,190.86 L359.81,192.83 L360.18,194.75 L360.77,196.59 L361.57,198.35 L362.57,200.00 L363.76,201.52 L365.13,202.91 L366.66,204.15 L368.35,205.23 L370.17,206.13 L372.11,206.86 L374.14,207.39 L376.26,207.73 L378.43,207.88 L380.64,207.83 L382.87,207.58 L385.09,207.13 L387.29,206.49 L389.44,205.67 L391.52,204.67 L393.51,203.51 L395.40,202.19 L397.15,200.72 L398.77,199.13 L400.23,197.42 L401.52,195.62 L402.62,193.73 L403.52,191.79 L404.23,189.80 L404.72,187.78 L405.00,185.77 L405.05,183.76 L404.89,181.79 L404.52,179.88 L403.93,178.03 L403.13,176.28 L402.13,174.63 L400.94,173.10Z" fill="#eedada" stroke="#eed0d1" stroke-width="1.1"/>
<path d="M454.35,172.27 L452.75,170.96 L451.01,169.82 L449.14,168.84 L447.16,168.04 L445.09,167.43 L442.95,167.01 L440.75,166.78 L438.53,166.75 L436.31,166.92 L434.09,167.29 L431.91,167.85 L429.79,168.59 L427.74,169.52 L425.79,170.62 L423.96,171.88 L422.25,173.28 L420.70,174.83 L419.31,176.49 L418.10,178.26 L417.08,180.11 L416.25,182.03 L415.63,184.01 L415.23,186.01 L415.04,188.03 L415.07,190.04 L415.32,192.03 L415.79,193.97 L416.47,195.85 L417.35,197.64 L418.43,199.33 L419.69,200.91 L421.13,202.36 L422.73,203.66 L424.47,204.81 L426.34,205.78 L428.32,206.58 L430.39,207.20 L432.53,207.62 L434.72,207.84 L436.94,207.87 L439.17,207.70 L441.39,207.34 L443.57,206.78 L445.69,206.03 L447.74,205.10 L449.69,204.01 L451.52,202.75 L453.22,201.34 L454.78,199.80 L456.17,198.14 L457.38,196.37 L458.40,194.51 L459.23,192.59 L459.84,190.62 L460.25,188.61 L460.43,186.59 L460.40,184.58 L460.15,182.60 L459.69,180.66 L459.01,178.78 L458.13,176.99 L457.05,175.29 L455.79,173.71Z" fill="#f7eeee" stroke="#f7e9e9" stroke-width="1.1"/>
<path d="M509.97,172.06 L508.40,170.78 L506.67,169.66 L504.82,168.71 L502.86,167.94 L500.80,167.35 L498.67,166.96 L496.48,166.76 L494.26,166.77 L492.04,166.97 L489.82,167.36 L487.63,167.95 L485.50,168.72 L483.44,169.68 L481.47,170.80 L479.62,172.08 L477.89,173.51 L476.32,175.07 L474.90,176.75 L473.66,178.54 L472.61,180.40 L471.75,182.33 L471.10,184.31 L470.67,186.32 L470.45,188.34 L470.44,190.35 L470.66,192.33 L471.09,194.26 L471.74,196.13 L472.59,197.91 L473.64,199.58 L474.87,201.14 L476.29,202.57 L477.86,203.85 L479.58,204.97 L481.43,205.92 L483.40,206.69 L485.46,207.27 L487.59,207.66 L489.77,207.86 L491.99,207.86 L494.22,207.66 L496.44,207.26 L498.62,206.67 L500.76,205.90 L502.82,204.95 L504.78,203.82 L506.64,202.54 L508.36,201.11 L509.94,199.55 L511.35,197.87 L512.59,196.09 L513.65,194.22 L514.50,192.29 L515.15,190.31 L515.59,188.30 L515.81,186.28 L515.81,184.27 L515.59,182.29 L515.16,180.36 L514.52,178.50 L513.67,176.72 L512.62,175.04 L511.38,173.48Z" fill="#f3e6e6" stroke="#f4e0e0" stroke-width="1.1"/>
<path d="M619.72,172.99 L618.05,171.61 L616.24,170.38 L614.31,169.32 L612.28,168.43 L610.17,167.72 L608.00,167.20 L605.79,166.87 L603.56,166.74 L601.34,166.81 L599.14,167.08 L596.99,167.54 L594.90,168.19 L592.90,169.03 L591.01,170.04 L589.24,171.22 L587.61,172.55 L586.14,174.02 L584.84,175.63 L583.72,177.34 L582.80,179.16 L582.08,181.05 L581.57,183.00 L581.27,184.99 L581.20,187.00 L581.34,189.02 L581.70,191.02 L582.28,192.99 L583.06,194.90 L584.04,196.74 L585.21,198.48 L586.57,200.12 L588.09,201.64 L589.76,203.02 L591.57,204.24 L593.50,205.31 L595.53,206.20 L597.64,206.91 L599.81,207.43 L602.02,207.75 L604.25,207.88 L606.47,207.81 L608.67,207.55 L610.82,207.09 L612.91,206.43 L614.91,205.60 L616.80,204.59 L618.57,203.41 L620.20,202.08 L621.67,200.60 L622.97,199.00 L624.09,197.28 L625.01,195.47 L625.73,193.58 L626.24,191.63 L626.54,189.64 L626.61,187.62 L626.47,185.60 L626.11,183.60 L625.54,181.64 L624.75,179.73 L623.77,177.89 L622.60,176.14 L621.24,174.50Z" fill="#fefdf9" stroke="#fefcf8" stroke-width="1.1"/>
<path d="M177.01,222.80 L175.38,221.46 L173.60,220.27 L171.70,219.25 L169.69,218.40 L167.60,217.74 L165.45,217.27 L163.25,217.00 L161.02,216.92 L158.79,217.04 L156.59,217.35 L154.42,217.86 L152.31,218.56 L150.29,219.44 L148.37,220.50 L146.56,221.72 L144.90,223.09 L143.38,224.60 L142.04,226.23 L140.87,227.97 L139.90,229.81 L139.13,231.71 L138.57,233.68 L138.22,235.68 L138.09,237.69 L138.17,239.71 L138.48,241.70 L139.00,243.66 L139.73,245.55 L140.66,247.37 L141.79,249.09 L143.10,250.70 L144.58,252.18 L146.21,253.52 L147.99,254.71 L149.89,255.73 L151.89,256.57 L153.99,257.23 L156.14,257.70 L158.34,257.98 L160.57,258.06 L162.79,257.94 L165.00,257.62 L167.17,257.11 L169.27,256.41 L171.30,255.53 L173.22,254.48 L175.02,253.26 L176.69,251.89 L178.20,250.38 L179.55,248.74 L180.71,247.00 L181.69,245.17 L182.46,243.26 L183.02,241.30 L183.37,239.30 L183.50,237.28 L183.42,235.27 L183.11,233.27 L182.59,231.32 L181.86,229.43 L180.93,227.61 L179.80,225.89 L178.49,224.28Z" fill="#fdfafa" stroke="#fdf9f9" stroke-width="1.1"/>
<path d="M233.18,222.09 L231.62,220.83 L229.91,219.73 L228.07,218.79 L226.12,218.04 L224.07,217.48 L221.94,217.11 L219.76,216.93 L217.55,216.95 L215.32,217.17 L213.10,217.59 L210.91,218.20 L208.77,218.99 L206.70,219.96 L204.72,221.10 L202.86,222.40 L201.12,223.84 L199.53,225.42 L198.09,227.11 L196.84,228.90 L195.76,230.77 L194.89,232.71 L194.22,234.69 L193.76,236.71 L193.51,238.72 L193.49,240.73 L193.68,242.71 L194.09,244.63 L194.72,246.49 L195.55,248.26 L196.58,249.92 L197.79,251.47 L199.19,252.88 L200.75,254.15 L202.45,255.25 L204.29,256.18 L206.25,256.93 L208.30,257.50 L210.42,257.87 L212.60,258.04 L214.82,258.02 L217.05,257.80 L219.27,257.39 L221.46,256.78 L223.60,255.99 L225.67,255.01 L227.64,253.87 L229.51,252.58 L231.25,251.13 L232.84,249.56 L234.27,247.87 L235.53,246.08 L236.60,244.20 L237.48,242.27 L238.15,240.28 L238.61,238.27 L238.85,236.25 L238.88,234.24 L238.68,232.27 L238.27,230.34 L237.65,228.49 L236.82,226.72 L235.79,225.05 L234.57,223.50Z" fill="#f1e2e2" stroke="#f2d9da" stroke-width="1.1"/>
<path d="M288.18,222.44 L286.58,221.14 L284.84,219.99 L282.97,219.02 L280.99,218.22 L278.92,217.60 L276.78,217.18 L274.59,216.96 L272.37,216.93 L270.14,217.10 L267.92,217.46 L265.75,218.02 L263.62,218.77 L261.58,219.70 L259.62,220.79 L257.79,222.05 L256.09,223.46 L254.53,225.00 L253.14,226.66 L251.93,228.43 L250.91,230.29 L250.08,232.21 L249.47,234.18 L249.06,236.19 L248.88,238.21 L248.91,240.22 L249.16,242.20 L249.62,244.14 L250.30,246.02 L251.18,247.81 L252.26,249.51 L253.52,251.09 L254.96,252.53 L256.56,253.84 L258.30,254.98 L260.17,255.96 L262.15,256.76 L264.22,257.37 L266.36,257.79 L268.56,258.02 L270.78,258.05 L273.01,257.88 L275.22,257.51 L277.40,256.95 L279.52,256.21 L281.57,255.28 L283.52,254.18 L285.36,252.92 L287.06,251.52 L288.61,249.97 L290.00,248.31 L291.21,246.54 L292.24,244.69 L293.06,242.77 L293.68,240.79 L294.08,238.79 L294.27,236.77 L294.24,234.76 L293.99,232.77 L293.52,230.83 L292.84,228.95 L291.96,227.16 L290.88,225.47 L289.62,223.89Z" fill="#f7eeee" stroke="#f7e9e9" stroke-width="1.1"/>
<path d="M345.48,220.71 L344.10,219.63 L342.56,218.71 L340.87,217.98 L339.04,217.43 L337.10,217.08 L335.06,216.92 L332.94,216.97 L330.76,217.21 L328.55,217.64 L326.32,218.27 L324.10,219.08 L321.90,220.07 L319.76,221.22 L317.68,222.54 L315.70,223.99 L313.82,225.58 L312.07,227.28 L310.46,229.08 L309.01,230.96 L307.73,232.91 L306.64,234.89 L305.74,236.91 L305.05,238.93 L304.57,240.93 L304.31,242.90 L304.26,244.82 L304.43,246.67 L304.82,248.43 L305.42,250.08 L306.23,251.62 L307.24,253.02 L308.44,254.26 L309.82,255.35 L311.36,256.26 L313.06,257.00 L314.88,257.54 L316.82,257.90 L318.87,258.05 L320.98,258.01 L323.16,257.77 L325.37,257.33 L327.60,256.71 L329.82,255.90 L332.02,254.91 L334.16,253.75 L336.24,252.44 L338.23,250.98 L340.11,249.39 L341.86,247.69 L343.47,245.89 L344.91,244.01 L346.19,242.07 L347.28,240.08 L348.18,238.07 L348.87,236.05 L349.35,234.04 L349.61,232.07 L349.66,230.15 L349.49,228.31 L349.10,226.55 L348.50,224.89 L347.69,223.36 L346.68,221.96Z" fill="#d9aeae" stroke="#da9799" stroke-width="1.1"/>
<path d="M401.49,220.15 L400.19,219.15 L398.73,218.33 L397.11,217.68 L395.35,217.23 L393.46,216.98 L391.47,216.92 L389.38,217.06 L387.23,217.40 L385.04,217.93 L382.81,218.65 L380.58,219.55 L378.37,220.62 L376.20,221.85 L374.09,223.24 L372.06,224.76 L370.12,226.41 L368.30,228.16 L366.62,230.00 L365.09,231.92 L363.73,233.89 L362.54,235.89 L361.55,237.91 L360.76,239.92 L360.17,241.91 L359.80,243.86 L359.65,245.75 L359.71,247.55 L359.99,249.26 L360.49,250.86 L361.20,252.33 L362.11,253.65 L363.21,254.82 L364.51,255.82 L365.97,256.65 L367.59,257.29 L369.35,257.74 L371.24,258.00 L373.23,258.05 L375.32,257.91 L377.47,257.58 L379.66,257.05 L381.89,256.33 L384.12,255.43 L386.33,254.36 L388.50,253.12 L390.61,251.73 L392.64,250.21 L394.58,248.57 L396.40,246.81 L398.08,244.97 L399.61,243.06 L400.97,241.09 L402.16,239.09 L403.15,237.07 L403.94,235.05 L404.53,233.06 L404.90,231.12 L405.05,229.23 L404.99,227.42 L404.71,225.71 L404.21,224.12 L403.50,222.65 L402.59,221.32Z" fill="#ce9898" stroke="#d07b7d" stroke-width="1.1"/>
<path d="M456.26,220.71 L454.88,219.63 L453.34,218.71 L451.64,217.98 L449.82,217.43 L447.88,217.08 L445.83,216.92 L443.72,216.97 L441.54,217.21 L439.33,217.64 L437.10,218.27 L434.88,219.08 L432.68,220.07 L430.54,221.22 L428.46,222.54 L426.47,223.99 L424.59,225.58 L422.84,227.28 L421.23,229.08 L419.79,230.96 L418.51,232.91 L417.42,234.89 L416.52,236.91 L415.83,238.93 L415.35,240.93 L415.09,242.90 L415.04,244.82 L415.21,246.67 L415.60,248.43 L416.20,250.08 L417.01,251.62 L418.02,253.02 L419.22,254.26 L420.60,255.35 L422.14,256.26 L423.83,257.00 L425.66,257.54 L427.60,257.90 L429.64,258.05 L431.76,258.01 L433.94,257.77 L436.15,257.33 L438.38,256.71 L440.60,255.90 L442.80,254.91 L444.94,253.75 L447.02,252.44 L449.00,250.98 L450.88,249.39 L452.63,247.69 L454.24,245.89 L455.69,244.01 L456.97,242.07 L458.06,240.08 L458.96,238.07 L459.65,236.05 L460.13,234.04 L460.39,232.07 L460.44,230.15 L460.27,228.31 L459.88,226.55 L459.28,224.89 L458.47,223.36 L457.46,221.96Z" fill="#d9aeae" stroke="#da9799" stroke-width="1.1"/>
<path d="M505.36,226.41 L503.42,224.76 L501.39,223.24 L499.28,221.85 L497.10,220.62 L494.89,219.55 L492.67,218.65 L490.44,217.93 L488.24,217.40 L486.09,217.06 L484.01,216.92 L482.02,216.98 L480.13,217.23 L478.37,217.68 L476.75,218.33 L475.28,219.15 L473.99,220.15 L472.89,221.32 L471.97,222.65 L471.27,224.12 L470.77,225.71 L470.49,227.42 L470.42,229.23 L470.58,231.12 L470.95,233.06 L471.53,235.05 L472.33,237.07 L473.32,239.09 L474.51,241.09 L475.87,243.06 L477.40,244.97 L479.08,246.81 L480.90,248.57 L482.83,250.21 L484.87,251.73 L486.98,253.12 L489.15,254.36 L491.36,255.43 L493.59,256.33 L495.81,257.05 L498.01,257.58 L500.16,257.91 L502.24,258.05 L504.24,258.00 L506.13,257.74 L507.89,257.29 L509.51,256.65 L510.97,255.82 L512.26,254.82 L513.37,253.65 L514.28,252.33 L514.99,250.86 L515.49,249.26 L515.77,247.55 L515.83,245.75 L515.68,243.86 L515.31,241.91 L514.72,239.92 L513.93,237.91 L512.93,235.89 L511.75,233.89 L510.39,231.92 L508.86,230.00 L507.17,228.16Z" fill="#f6e4b7" stroke="#f4dfaa" stroke-width="1.1"/>
<path d="M562.14,225.14 L560.30,223.59 L558.34,222.17 L556.28,220.90 L554.15,219.79 L551.97,218.84 L549.75,218.08 L547.52,217.51 L545.31,217.12 L543.12,216.94 L540.98,216.95 L538.92,217.15 L536.95,217.56 L535.09,218.16 L533.36,218.94 L531.77,219.90 L530.35,221.03 L529.10,222.32 L528.04,223.75 L527.18,225.32 L526.52,227.01 L526.07,228.79 L525.84,230.66 L525.83,232.60 L526.04,234.58 L526.46,236.59 L527.09,238.61 L527.94,240.62 L528.98,242.59 L530.20,244.52 L531.61,246.38 L533.18,248.16 L534.89,249.83 L536.74,251.38 L538.70,252.80 L540.75,254.08 L542.88,255.19 L545.06,256.13 L547.28,256.89 L549.51,257.47 L551.73,257.85 L553.92,258.04 L556.05,258.03 L558.12,257.82 L560.09,257.42 L561.95,256.82 L563.68,256.04 L565.26,255.08 L566.68,253.94 L567.93,252.66 L568.99,251.22 L569.86,249.65 L570.52,247.97 L570.96,246.18 L571.19,244.31 L571.20,242.38 L571.00,240.40 L570.57,238.39 L569.94,236.37 L569.10,234.36 L568.06,232.38 L566.83,230.45 L565.42,228.59 L563.86,226.82Z" fill="#f8eccc" stroke="#f7e9c4" stroke-width="1.1"/>
<path d="M617.34,225.32 L615.48,223.75 L613.51,222.32 L611.45,221.03 L609.31,219.90 L607.12,218.94 L604.90,218.15 L602.68,217.56 L600.46,217.15 L598.28,216.95 L596.15,216.94 L594.09,217.12 L592.13,217.51 L590.28,218.08 L588.57,218.85 L587.00,219.79 L585.60,220.90 L584.37,222.17 L583.33,223.60 L582.48,225.15 L581.85,226.82 L581.43,228.60 L581.22,230.46 L581.23,232.39 L581.46,234.37 L581.91,236.37 L582.56,238.39 L583.43,240.40 L584.49,242.38 L585.73,244.32 L587.16,246.19 L588.74,247.97 L590.47,249.66 L592.33,251.22 L594.30,252.66 L596.36,253.95 L598.50,255.08 L600.69,256.04 L602.91,256.82 L605.14,257.42 L607.35,257.82 L609.54,258.03 L611.66,258.04 L613.72,257.85 L615.68,257.47 L617.53,256.89 L619.24,256.13 L620.81,255.19 L622.21,254.07 L623.44,252.80 L624.48,251.38 L625.33,249.83 L625.96,248.15 L626.39,246.38 L626.59,244.52 L626.58,242.59 L626.35,240.61 L625.91,238.60 L625.25,236.58 L624.39,234.57 L623.32,232.59 L622.08,230.66 L620.65,228.79 L619.07,227.00Z" fill="#f8ebc9" stroke="#f7e7c0" stroke-width="1.1"/>
<path d="M176.20,273.71 L174.49,272.30 L172.65,271.03 L170.69,269.92 L168.64,268.99 L166.51,268.23 L164.33,267.66 L162.11,267.29 L159.89,267.11 L157.67,267.13 L155.48,267.34 L153.34,267.75 L151.27,268.36 L149.30,269.15 L147.43,270.11 L145.70,271.25 L144.11,272.55 L142.68,273.99 L141.42,275.56 L140.35,277.25 L139.48,279.04 L138.82,280.91 L138.36,282.84 L138.12,284.83 L138.10,286.84 L138.30,288.86 L138.72,290.86 L139.34,292.84 L140.18,294.77 L141.21,296.63 L142.43,298.40 L143.83,300.07 L145.39,301.61 L147.10,303.03 L148.94,304.30 L150.90,305.40 L152.95,306.34 L155.08,307.09 L157.26,307.66 L159.48,308.04 L161.70,308.22 L163.92,308.20 L166.11,307.98 L168.25,307.57 L170.32,306.97 L172.29,306.18 L174.16,305.21 L175.89,304.07 L177.48,302.78 L178.91,301.34 L180.17,299.77 L181.23,298.08 L182.11,296.29 L182.77,294.42 L183.23,292.48 L183.47,290.50 L183.49,288.49 L183.29,286.47 L182.87,284.46 L182.24,282.48 L181.41,280.56 L180.38,278.70 L179.16,276.93 L177.76,275.26Z" fill="#fdf9ef" stroke="#fdf8ec" stroke-width="1.1"/>
<path d="M231.25,274.02 L229.51,272.57 L227.64,271.28 L225.67,270.14 L223.60,269.16 L221.46,268.37 L219.27,267.76 L217.05,267.35 L214.82,267.13 L212.60,267.11 L210.42,267.28 L208.30,267.65 L206.25,268.22 L204.29,268.97 L202.45,269.90 L200.75,271.00 L199.19,272.27 L197.79,273.68 L196.58,275.23 L195.55,276.89 L194.72,278.66 L194.09,280.52 L193.68,282.44 L193.49,284.42 L193.51,286.43 L193.76,288.44 L194.22,290.46 L194.89,292.44 L195.76,294.38 L196.84,296.25 L198.09,298.04 L199.53,299.73 L201.12,301.31 L202.86,302.75 L204.72,304.05 L206.70,305.19 L208.77,306.16 L210.91,306.95 L213.10,307.56 L215.32,307.98 L217.55,308.20 L219.76,308.22 L221.94,308.04 L224.07,307.67 L226.12,307.11 L228.07,306.36 L229.91,305.42 L231.62,304.32 L233.18,303.06 L234.57,301.65 L235.79,300.10 L236.82,298.43 L237.65,296.66 L238.27,294.81 L238.68,292.88 L238.88,290.91 L238.85,288.90 L238.61,286.88 L238.15,284.87 L237.48,282.88 L236.60,280.95 L235.53,279.07 L234.27,277.28 L232.84,275.59Z" fill="#fcf7e8" stroke="#fbf5e3" stroke-width="1.1"/>
<path d="M286.81,273.86 L285.08,272.43 L283.23,271.15 L281.26,270.03 L279.20,269.07 L277.07,268.30 L274.88,267.71 L272.66,267.32 L270.44,267.12 L268.22,267.11 L266.03,267.31 L263.90,267.70 L261.84,268.29 L259.88,269.06 L258.03,270.01 L256.30,271.13 L254.73,272.41 L253.32,273.83 L252.08,275.39 L251.03,277.07 L250.18,278.85 L249.54,280.71 L249.11,282.64 L248.89,284.62 L248.89,286.63 L249.11,288.65 L249.55,290.66 L250.20,292.64 L251.05,294.57 L252.11,296.44 L253.35,298.22 L254.76,299.90 L256.34,301.46 L258.06,302.89 L259.92,304.17 L261.88,305.30 L263.94,306.25 L266.08,307.02 L268.26,307.61 L270.48,308.01 L272.71,308.21 L274.93,308.21 L277.11,308.01 L279.24,307.62 L281.30,307.04 L283.27,306.27 L285.12,305.32 L286.84,304.20 L288.41,302.92 L289.83,301.49 L291.06,299.93 L292.11,298.26 L292.96,296.48 L293.61,294.61 L294.04,292.68 L294.26,290.70 L294.25,288.69 L294.03,286.67 L293.60,284.66 L292.95,282.68 L292.09,280.75 L291.04,278.89 L289.80,277.10 L288.38,275.42Z" fill="#fcf8ec" stroke="#fcf7e8" stroke-width="1.1"/>
<path d="M346.10,270.33 L344.81,269.33 L343.34,268.50 L341.72,267.86 L339.96,267.41 L338.07,267.15 L336.08,267.10 L333.99,267.24 L331.84,267.57 L329.65,268.10 L327.42,268.82 L325.20,269.72 L322.99,270.79 L320.81,272.03 L318.70,273.42 L316.67,274.94 L314.73,276.58 L312.91,278.34 L311.23,280.18 L309.70,282.09 L308.34,284.06 L307.16,286.06 L306.16,288.08 L305.37,290.10 L304.78,292.09 L304.41,294.03 L304.26,295.92 L304.32,297.73 L304.60,299.44 L305.10,301.03 L305.81,302.50 L306.72,303.83 L307.83,305.00 L309.12,306.00 L310.58,306.82 L312.20,307.47 L313.96,307.92 L315.85,308.17 L317.84,308.23 L319.93,308.09 L322.08,307.75 L324.28,307.22 L326.50,306.50 L328.73,305.60 L330.94,304.53 L333.11,303.30 L335.22,301.91 L337.26,300.39 L339.19,298.74 L341.01,296.99 L342.69,295.15 L344.22,293.23 L345.58,291.26 L346.77,289.26 L347.76,287.24 L348.55,285.23 L349.14,283.24 L349.51,281.29 L349.67,279.40 L349.60,277.60 L349.32,275.89 L348.82,274.29 L348.11,272.82 L347.20,271.50Z" fill="#ce9898" stroke="#d07b7d" stroke-width="1.1"/>
<path d="M401.49,270.33 L400.19,269.33 L398.73,268.50 L397.11,267.86 L395.35,267.41 L393.46,267.15 L391.47,267.10 L389.38,267.24 L387.23,267.57 L385.04,268.10 L382.81,268.82 L380.58,269.72 L378.37,270.79 L376.20,272.03 L374.09,273.42 L372.06,274.94 L370.12,276.58 L368.30,278.34 L366.62,280.18 L365.09,282.09 L363.73,284.06 L362.54,286.06 L361.55,288.08 L360.76,290.10 L360.17,292.09 L359.80,294.03 L359.65,295.92 L359.71,297.73 L359.99,299.44 L360.49,301.03 L361.20,302.50 L362.11,303.83 L363.21,305.00 L364.51,306.00 L365.97,306.82 L367.59,307.47 L369.35,307.92 L371.24,308.17 L373.23,308.23 L375.32,308.09 L377.47,307.75 L379.66,307.22 L381.89,306.50 L384.12,305.60 L386.33,304.53 L388.50,303.30 L390.61,301.91 L392.64,300.39 L394.58,298.74 L396.40,296.99 L398.08,295.15 L399.61,293.23 L400.97,291.26 L402.16,289.26 L403.15,287.24 L403.94,285.23 L404.53,283.24 L404.90,281.29 L405.05,279.40 L404.99,277.60 L404.71,275.89 L404.21,274.29 L403.50,272.82 L402.59,271.50Z" fill="#ce9898" stroke="#d07b7d" stroke-width="1.1"/>
<path d="M457.08,270.15 L455.81,269.17 L454.38,268.38 L452.79,267.77 L451.05,267.35 L449.18,267.13 L447.20,267.10 L445.13,267.28 L442.99,267.65 L440.80,268.21 L438.58,268.96 L436.35,269.89 L434.14,270.99 L431.96,272.25 L429.83,273.66 L427.78,275.21 L425.83,276.87 L423.99,278.64 L422.29,280.50 L420.73,282.42 L419.34,284.40 L418.12,286.41 L417.09,288.42 L416.27,290.44 L415.65,292.42 L415.24,294.36 L415.05,296.23 L415.07,298.03 L415.32,299.72 L415.78,301.29 L416.45,302.74 L417.33,304.04 L418.40,305.18 L419.66,306.15 L421.10,306.95 L422.69,307.56 L424.43,307.97 L426.30,308.20 L428.28,308.22 L430.35,308.05 L432.49,307.68 L434.68,307.11 L436.90,306.36 L439.13,305.43 L441.34,304.33 L443.52,303.07 L445.65,301.66 L447.70,300.12 L449.65,298.45 L451.49,296.68 L453.19,294.83 L454.75,292.90 L456.14,290.93 L457.36,288.92 L458.38,286.90 L459.21,284.89 L459.83,282.90 L460.24,280.97 L460.43,279.09 L460.41,277.30 L460.16,275.61 L459.70,274.03 L459.03,272.59 L458.15,271.29Z" fill="#cb9191" stroke="#cd7174" stroke-width="1.1"/>
<path d="M509.02,273.26 L507.36,271.89 L505.56,270.67 L503.63,269.62 L501.61,268.74 L499.50,268.04 L497.34,267.53 L495.13,267.21 L492.90,267.09 L490.68,267.17 L488.47,267.45 L486.32,267.92 L484.23,268.58 L482.22,269.42 L480.32,270.44 L478.55,271.63 L476.91,272.97 L475.43,274.45 L474.12,276.06 L472.99,277.78 L472.06,279.60 L471.33,281.49 L470.81,283.45 L470.51,285.44 L470.42,287.46 L470.55,289.47 L470.90,291.47 L471.46,293.44 L472.23,295.34 L473.21,297.18 L474.37,298.92 L475.72,300.55 L477.23,302.06 L478.90,303.43 L480.70,304.65 L482.62,305.71 L484.65,306.59 L486.75,307.29 L488.92,307.80 L491.13,308.11 L493.35,308.23 L495.58,308.15 L497.78,307.88 L499.94,307.41 L502.03,306.75 L504.03,305.90 L505.93,304.88 L507.71,303.69 L509.35,302.35 L510.83,300.87 L512.14,299.26 L513.26,297.54 L514.19,295.72 L514.92,293.83 L515.44,291.88 L515.75,289.88 L515.84,287.87 L515.70,285.85 L515.36,283.85 L514.79,281.89 L514.02,279.98 L513.05,278.15 L511.88,276.41 L510.54,274.77Z" fill="#fefefb" stroke="#fefdfa" stroke-width="1.1"/>
<path d="M564.25,273.41 L562.57,272.02 L560.75,270.79 L558.82,269.72 L556.79,268.82 L554.67,268.10 L552.50,267.57 L550.29,267.23 L548.06,267.09 L545.84,267.15 L543.64,267.41 L541.49,267.86 L539.41,268.50 L537.41,269.33 L535.52,270.33 L533.76,271.50 L532.14,272.83 L530.68,274.30 L529.39,275.89 L528.28,277.60 L527.37,279.41 L526.66,281.30 L526.16,283.25 L525.88,285.24 L525.81,287.25 L525.97,289.27 L526.34,291.27 L526.92,293.24 L527.71,295.15 L528.71,297.00 L529.89,298.75 L531.25,300.39 L532.78,301.92 L534.46,303.30 L536.28,304.54 L538.21,305.61 L540.25,306.51 L542.36,307.23 L544.53,307.75 L546.74,308.09 L548.97,308.23 L551.19,308.17 L553.39,307.92 L555.54,307.46 L557.63,306.82 L559.62,306.00 L561.51,304.99 L563.27,303.82 L564.89,302.50 L566.36,301.03 L567.65,299.43 L568.75,297.72 L569.67,295.91 L570.38,294.03 L570.87,292.08 L571.16,290.09 L571.22,288.07 L571.07,286.06 L570.70,284.05 L570.11,282.09 L569.32,280.17 L568.33,278.33 L567.14,276.58 L565.78,274.93Z" fill="#fefcf7" stroke="#fefcf6" stroke-width="1.1"/>
<path d="M619.47,273.56 L617.78,272.16 L615.95,270.91 L614.00,269.82 L611.96,268.90 L609.84,268.16 L607.67,267.62 L605.45,267.26 L603.22,267.10 L601.00,267.14 L598.81,267.37 L596.66,267.81 L594.59,268.43 L592.60,269.24 L590.73,270.22 L588.98,271.38 L587.37,272.69 L585.93,274.14 L584.65,275.73 L583.57,277.42 L582.67,279.22 L581.99,281.10 L581.51,283.05 L581.25,285.03 L581.21,287.05 L581.38,289.06 L581.78,291.07 L582.38,293.04 L583.20,294.96 L584.21,296.81 L585.41,298.57 L586.79,300.23 L588.34,301.77 L590.03,303.17 L591.86,304.42 L593.81,305.51 L595.85,306.42 L597.97,307.16 L600.15,307.71 L602.36,308.07 L604.59,308.22 L606.81,308.19 L609.00,307.95 L611.15,307.52 L613.22,306.90 L615.21,306.09 L617.08,305.10 L618.83,303.95 L620.44,302.64 L621.88,301.18 L623.16,299.60 L624.25,297.90 L625.14,296.10 L625.83,294.22 L626.30,292.28 L626.56,290.29 L626.60,288.28 L626.43,286.26 L626.04,284.26 L625.43,282.28 L624.62,280.36 L623.60,278.51 L622.40,276.75 L621.02,275.10Z" fill="#fefbf3" stroke="#fdfaf1" stroke-width="1.1"/>
<path d="M177.01,323.15 L175.38,321.81 L173.60,320.62 L171.70,319.60 L169.69,318.75 L167.60,318.09 L165.45,317.62 L163.25,317.35 L161.02,317.27 L158.79,317.39 L156.59,317.70 L154.42,318.21 L152.31,318.91 L150.29,319.79 L148.37,320.85 L146.56,322.07 L144.90,323.44 L143.38,324.95 L142.04,326.58 L140.87,328.32 L139.90,330.16 L139.13,332.06 L138.57,334.03 L138.22,336.03 L138.09,338.04 L138.17,340.06 L138.48,342.05 L139.00,344.01 L139.73,345.90 L140.66,347.72 L141.79,349.44 L143.10,351.05 L144.58,352.53 L146.21,353.87 L147.99,355.06 L149.89,356.08 L151.89,356.92 L153.99,357.58 L156.14,358.05 L158.34,358.33 L160.57,358.41 L162.79,358.29 L165.00,357.97 L167.17,357.46 L169.27,356.76 L171.30,355.88 L173.22,354.83 L175.02,353.61 L176.69,352.24 L178.20,350.73 L179.55,349.09 L180.71,347.35 L181.69,345.52 L182.46,343.61 L183.02,341.65 L183.37,339.65 L183.50,337.63 L183.42,335.62 L183.11,333.62 L182.59,331.67 L181.86,329.78 L180.93,327.96 L179.80,326.24 L178.49,324.63Z" fill="#fdfafa" stroke="#fdf9f9" stroke-width="1.1"/>
<path d="M232.64,322.93 L231.02,321.61 L229.27,320.45 L227.39,319.46 L225.40,318.64 L223.32,318.01 L221.17,317.57 L218.97,317.32 L216.75,317.27 L214.52,317.42 L212.31,317.77 L210.14,318.31 L208.02,319.03 L205.98,319.94 L204.04,321.02 L202.22,322.27 L200.53,323.66 L198.99,325.19 L197.62,326.84 L196.43,328.60 L195.43,330.44 L194.62,332.36 L194.03,334.33 L193.65,336.33 L193.48,338.35 L193.53,340.37 L193.81,342.35 L194.29,344.30 L194.99,346.18 L195.89,347.99 L196.99,349.69 L198.27,351.28 L199.73,352.74 L201.34,354.06 L203.10,355.22 L204.98,356.22 L206.97,357.03 L209.05,357.67 L211.20,358.11 L213.39,358.35 L215.62,358.40 L217.84,358.25 L220.06,357.91 L222.23,357.37 L224.35,356.64 L226.38,355.73 L228.32,354.65 L230.15,353.41 L231.83,352.02 L233.37,350.49 L234.74,348.84 L235.94,347.08 L236.94,345.23 L237.74,343.31 L238.34,341.35 L238.72,339.34 L238.89,337.32 L238.83,335.31 L238.56,333.32 L238.07,331.38 L237.37,329.49 L236.47,327.69 L235.38,325.98 L234.09,324.39Z" fill="#f9f3f3" stroke="#f9eff0" stroke-width="1.1"/>
<path d="M287.06,323.81 L285.36,322.40 L283.52,321.14 L281.57,320.05 L279.52,319.12 L277.40,318.37 L275.22,317.81 L273.01,317.45 L270.78,317.28 L268.56,317.31 L266.36,317.53 L264.22,317.95 L262.15,318.57 L260.17,319.37 L258.30,320.34 L256.56,321.49 L254.96,322.79 L253.52,324.24 L252.26,325.82 L251.18,327.51 L250.30,329.30 L249.62,331.18 L249.16,333.12 L248.91,335.11 L248.88,337.12 L249.06,339.14 L249.47,341.14 L250.08,343.12 L250.91,345.04 L251.93,346.89 L253.14,348.66 L254.53,350.32 L256.09,351.87 L257.79,353.27 L259.62,354.53 L261.58,355.63 L263.62,356.56 L265.75,357.30 L267.92,357.86 L270.14,358.23 L272.37,358.40 L274.59,358.37 L276.78,358.14 L278.92,357.72 L280.99,357.11 L282.97,356.31 L284.84,355.33 L286.58,354.19 L288.18,352.88 L289.62,351.44 L290.88,349.86 L291.96,348.16 L292.84,346.37 L293.52,344.49 L293.99,342.55 L294.24,340.57 L294.27,338.56 L294.08,336.54 L293.68,334.53 L293.06,332.56 L292.24,330.64 L291.21,328.78 L290.00,327.01 L288.61,325.35Z" fill="#fdfaf1" stroke="#fdf9ef" stroke-width="1.1"/>
<path d="M345.48,321.06 L344.10,319.98 L342.56,319.06 L340.87,318.33 L339.04,317.78 L337.10,317.43 L335.06,317.27 L332.94,317.32 L330.76,317.56 L328.55,317.99 L326.32,318.62 L324.10,319.43 L321.90,320.42 L319.76,321.57 L317.68,322.89 L315.70,324.34 L313.82,325.93 L312.07,327.63 L310.46,329.43 L309.01,331.31 L307.73,333.26 L306.64,335.24 L305.74,337.26 L305.05,339.28 L304.57,341.28 L304.31,343.25 L304.26,345.17 L304.43,347.02 L304.82,348.78 L305.42,350.43 L306.23,351.97 L307.24,353.37 L308.44,354.61 L309.82,355.70 L311.36,356.61 L313.06,357.35 L314.88,357.89 L316.82,358.25 L318.87,358.40 L320.98,358.36 L323.16,358.12 L325.37,357.68 L327.60,357.06 L329.82,356.25 L332.02,355.26 L334.16,354.10 L336.24,352.79 L338.23,351.33 L340.11,349.74 L341.86,348.04 L343.47,346.24 L344.91,344.36 L346.19,342.42 L347.28,340.43 L348.18,338.42 L348.87,336.40 L349.35,334.39 L349.61,332.42 L349.66,330.50 L349.49,328.66 L349.10,326.90 L348.50,325.24 L347.69,323.71 L346.68,322.31Z" fill="#d9aeae" stroke="#da9799" stroke-width="1.1"/>
<path d="M401.08,320.87 L399.73,319.81 L398.21,318.93 L396.54,318.23 L394.74,317.71 L392.81,317.39 L390.78,317.27 L388.68,317.34 L386.51,317.61 L384.30,318.08 L382.07,318.74 L379.85,319.58 L377.65,320.59 L375.49,321.78 L373.40,323.11 L371.40,324.59 L369.50,326.20 L367.73,327.92 L366.10,329.73 L364.62,331.63 L363.32,333.58 L362.19,335.57 L361.26,337.59 L360.54,339.60 L360.02,341.60 L359.72,343.57 L359.64,345.48 L359.78,347.31 L360.13,349.06 L360.70,350.69 L361.48,352.21 L362.45,353.58 L363.62,354.80 L364.97,355.86 L366.49,356.75 L368.16,357.45 L369.96,357.96 L371.89,358.28 L373.92,358.41 L376.02,358.33 L378.19,358.06 L380.40,357.59 L382.63,356.94 L384.85,356.10 L387.05,355.08 L389.21,353.90 L391.30,352.56 L393.30,351.08 L395.20,349.47 L396.97,347.76 L398.60,345.94 L400.08,344.05 L401.38,342.10 L402.51,340.10 L403.44,338.09 L404.16,336.07 L404.68,334.07 L404.98,332.11 L405.06,330.20 L404.92,328.36 L404.57,326.62 L404.00,324.98 L403.22,323.47 L402.25,322.10Z" fill="#d5a7a7" stroke="#d78e90" stroke-width="1.1"/>
<path d="M456.05,321.25 L454.64,320.14 L453.07,319.20 L451.36,318.43 L449.51,317.86 L447.55,317.47 L445.50,317.29 L443.37,317.30 L441.19,317.50 L438.97,317.91 L436.74,318.50 L434.52,319.29 L432.33,320.25 L430.20,321.38 L428.13,322.67 L426.16,324.10 L424.30,325.67 L422.57,327.35 L420.99,329.14 L419.57,331.01 L418.32,332.94 L417.26,334.92 L416.40,336.93 L415.74,338.95 L415.29,340.96 L415.06,342.94 L415.05,344.87 L415.26,346.73 L415.68,348.50 L416.32,350.18 L417.16,351.73 L418.20,353.15 L419.43,354.42 L420.83,355.54 L422.40,356.48 L424.12,357.24 L425.97,357.82 L427.93,358.20 L429.98,358.39 L432.11,358.38 L434.29,358.17 L436.51,357.77 L438.74,357.17 L440.96,356.39 L443.14,355.43 L445.28,354.30 L447.34,353.01 L449.31,351.57 L451.17,350.01 L452.90,348.32 L454.49,346.54 L455.91,344.67 L457.16,342.73 L458.22,340.75 L459.08,338.74 L459.74,336.72 L460.19,334.72 L460.42,332.74 L460.43,330.81 L460.22,328.95 L459.80,327.17 L459.16,325.50 L458.32,323.95 L457.28,322.52Z" fill="#dcb6b6" stroke="#dea1a2" stroke-width="1.1"/>
<path d="M508.53,323.89 L506.82,322.47 L504.98,321.20 L503.02,320.10 L500.97,319.16 L498.84,318.41 L496.66,317.84 L494.45,317.46 L492.22,317.28 L490.00,317.30 L487.81,317.52 L485.67,317.93 L483.60,318.53 L481.63,319.32 L479.77,320.29 L478.03,321.43 L476.44,322.72 L475.01,324.16 L473.76,325.73 L472.69,327.42 L471.82,329.21 L471.15,331.08 L470.70,333.02 L470.46,335.00 L470.44,337.01 L470.63,339.03 L471.05,341.04 L471.68,343.02 L472.51,344.94 L473.54,346.80 L474.77,348.57 L476.16,350.24 L477.73,351.79 L479.44,353.20 L481.28,354.47 L483.23,355.58 L485.28,356.51 L487.41,357.27 L489.59,357.84 L491.81,358.21 L494.04,358.39 L496.26,358.37 L498.45,358.16 L500.58,357.75 L502.65,357.14 L504.63,356.35 L506.49,355.39 L508.23,354.25 L509.82,352.95 L511.25,351.51 L512.50,349.94 L513.57,348.25 L514.44,346.46 L515.11,344.59 L515.56,342.66 L515.80,340.67 L515.82,338.66 L515.62,336.64 L515.21,334.64 L514.58,332.66 L513.74,330.73 L512.71,328.87 L511.49,327.10 L510.09,325.43Z" fill="#fdf9ef" stroke="#fdf8ec" stroke-width="1.1"/>
<path d="M562.42,325.24 L560.60,323.71 L558.65,322.31 L556.61,321.06 L554.49,319.98 L552.32,319.06 L550.11,318.33 L547.88,317.78 L545.66,317.43 L543.46,317.27 L541.32,317.32 L539.24,317.56 L537.25,317.99 L535.37,318.62 L533.62,319.43 L532.01,320.42 L530.56,321.57 L529.29,322.89 L528.20,324.34 L527.30,325.93 L526.61,327.63 L526.13,329.43 L525.86,331.31 L525.82,333.26 L525.99,335.25 L526.38,337.26 L526.98,339.28 L527.79,341.28 L528.80,343.25 L530.00,345.17 L531.37,347.02 L532.92,348.78 L534.61,350.44 L536.44,351.97 L538.38,353.37 L540.42,354.61 L542.54,355.70 L544.72,356.61 L546.93,357.35 L549.16,357.89 L551.38,358.25 L553.57,358.40 L555.72,358.36 L557.79,358.12 L559.78,357.68 L561.66,357.06 L563.41,356.25 L565.02,355.26 L566.47,354.10 L567.75,352.79 L568.84,351.33 L569.73,349.74 L570.43,348.04 L570.91,346.24 L571.17,344.36 L571.22,342.42 L571.05,340.43 L570.66,338.42 L570.05,336.40 L569.24,334.39 L568.24,332.42 L567.04,330.50 L565.66,328.65 L564.12,326.89Z" fill="#f9eed0" stroke="#f8ebc9" stroke-width="1.1"/>
<path d="M618.45,324.67 L616.67,323.18 L614.76,321.84 L612.76,320.65 L610.66,319.62 L608.51,318.77 L606.31,318.11 L604.08,317.63 L601.85,317.35 L599.65,317.27 L597.48,317.38 L595.38,317.69 L593.35,318.20 L591.43,318.89 L589.63,319.77 L587.97,320.82 L586.46,322.04 L585.12,323.40 L583.96,324.91 L582.99,326.54 L582.23,328.28 L581.67,330.11 L581.32,332.02 L581.20,333.98 L581.29,335.98 L581.60,338.00 L582.12,340.01 L582.86,342.01 L583.80,343.96 L584.93,345.86 L586.24,347.67 L587.72,349.40 L589.36,351.01 L591.14,352.50 L593.05,353.84 L595.05,355.03 L597.15,356.05 L599.30,356.90 L601.51,357.57 L603.73,358.04 L605.96,358.33 L608.16,358.41 L610.33,358.29 L612.43,357.98 L614.46,357.48 L616.38,356.78 L618.18,355.91 L619.84,354.85 L621.35,353.64 L622.69,352.27 L623.85,350.77 L624.82,349.13 L625.59,347.40 L626.14,345.56 L626.49,343.66 L626.61,341.70 L626.52,339.70 L626.21,337.68 L625.69,335.66 L624.95,333.67 L624.02,331.71 L622.88,329.82 L621.57,328.00 L620.09,326.28Z" fill="#faf2dc" stroke="#faf0d6" stroke-width="1.1"/>
<path d="M177.01,373.32 L175.38,371.98 L173.60,370.79 L171.70,369.77 L169.69,368.93 L167.60,368.27 L165.45,367.80 L163.25,367.52 L161.02,367.44 L158.79,367.56 L156.59,367.88 L154.42,368.39 L152.31,369.09 L150.29,369.97 L148.37,371.02 L146.56,372.24 L144.90,373.61 L143.38,375.12 L142.04,376.76 L140.87,378.50 L139.90,380.33 L139.13,382.24 L138.57,384.20 L138.22,386.20 L138.09,388.22 L138.17,390.23 L138.48,392.23 L139.00,394.18 L139.73,396.07 L140.66,397.89 L141.79,399.61 L143.10,401.22 L144.58,402.70 L146.21,404.04 L147.99,405.23 L149.89,406.25 L151.89,407.10 L153.99,407.76 L156.14,408.23 L158.34,408.50 L160.57,408.58 L162.79,408.46 L165.00,408.15 L167.17,407.64 L169.27,406.94 L171.30,406.06 L173.22,405.00 L175.02,403.78 L176.69,402.41 L178.20,400.90 L179.55,399.27 L180.71,397.53 L181.69,395.69 L182.46,393.79 L183.02,391.82 L183.37,389.82 L183.50,387.81 L183.42,385.79 L183.11,383.80 L182.59,381.84 L181.86,379.95 L180.93,378.13 L179.80,376.41 L178.49,374.80Z" fill="#fdfafa" stroke="#fdf9f9" stroke-width="1.1"/>
<path d="M232.64,373.11 L231.02,371.79 L229.27,370.63 L227.39,369.63 L225.40,368.82 L223.32,368.18 L221.17,367.74 L218.97,367.50 L216.75,367.45 L214.52,367.60 L212.31,367.94 L210.14,368.48 L208.02,369.21 L205.98,370.12 L204.04,371.20 L202.22,372.44 L200.53,373.83 L198.99,375.36 L197.62,377.01 L196.43,378.77 L195.43,380.62 L194.62,382.54 L194.03,384.50 L193.65,386.51 L193.48,388.53 L193.53,390.54 L193.81,392.53 L194.29,394.47 L194.99,396.36 L195.89,398.16 L196.99,399.87 L198.27,401.46 L199.73,402.92 L201.34,404.24 L203.10,405.40 L204.98,406.39 L206.97,407.21 L209.05,407.84 L211.20,408.28 L213.39,408.53 L215.62,408.58 L217.84,408.43 L220.06,408.08 L222.23,407.54 L224.35,406.82 L226.38,405.91 L228.32,404.83 L230.15,403.58 L231.83,402.19 L233.37,400.66 L234.74,399.01 L235.94,397.25 L236.94,395.41 L237.74,393.49 L238.34,391.52 L238.72,389.52 L238.89,387.50 L238.83,385.48 L238.56,383.50 L238.07,381.55 L237.37,379.67 L236.47,377.86 L235.38,376.16 L234.09,374.57Z" fill="#f9f3f3" stroke="#f9eff0" stroke-width="1.1"/>
<path d="M287.47,373.61 L285.80,372.24 L284.00,371.02 L282.08,369.97 L280.05,369.09 L277.95,368.39 L275.78,367.88 L273.57,367.56 L271.35,367.44 L269.12,367.52 L266.92,367.80 L264.76,368.27 L262.67,368.93 L260.67,369.77 L258.77,370.79 L256.99,371.98 L255.35,373.32 L253.87,374.80 L252.56,376.41 L251.44,378.13 L250.51,379.95 L249.78,381.84 L249.26,383.80 L248.95,385.79 L248.86,387.81 L249.00,389.82 L249.34,391.82 L249.91,393.79 L250.68,395.69 L251.65,397.53 L252.82,399.27 L254.16,400.90 L255.68,402.41 L257.34,403.78 L259.14,405.00 L261.07,406.06 L263.09,406.94 L265.20,407.64 L267.36,408.15 L269.57,408.46 L271.80,408.58 L274.02,408.50 L276.23,408.23 L278.38,407.76 L280.47,407.10 L282.48,406.25 L284.38,405.23 L286.15,404.04 L287.79,402.70 L289.27,401.22 L290.58,399.61 L291.71,397.89 L292.64,396.07 L293.37,394.18 L293.89,392.23 L294.19,390.23 L294.28,388.22 L294.15,386.20 L293.80,384.20 L293.24,382.24 L292.47,380.33 L291.49,378.50 L290.33,376.76 L288.98,375.12Z" fill="#fefefb" stroke="#fefdfa" stroke-width="1.1"/>
<path d="M345.13,371.56 L343.71,370.42 L342.12,369.46 L340.39,368.68 L338.53,368.08 L336.56,367.68 L334.50,367.47 L332.36,367.46 L330.17,367.65 L327.95,368.03 L325.73,368.61 L323.51,369.37 L321.33,370.31 L319.20,371.42 L317.14,372.70 L315.18,374.12 L313.34,375.67 L311.62,377.34 L310.05,379.12 L308.65,380.98 L307.42,382.91 L306.38,384.88 L305.54,386.89 L304.90,388.91 L304.48,390.92 L304.27,392.90 L304.29,394.84 L304.52,396.71 L304.96,398.49 L305.62,400.18 L306.48,401.75 L307.55,403.18 L308.79,404.47 L310.22,405.60 L311.80,406.56 L313.53,407.34 L315.39,407.94 L317.36,408.35 L319.43,408.55 L321.56,408.56 L323.75,408.38 L325.97,407.99 L328.20,407.42 L330.41,406.66 L332.60,405.71 L334.73,404.60 L336.78,403.33 L338.74,401.91 L340.59,400.36 L342.30,398.68 L343.87,396.91 L345.27,395.05 L346.50,393.12 L347.54,391.14 L348.38,389.13 L349.02,387.11 L349.44,385.10 L349.65,383.12 L349.64,381.19 L349.41,379.32 L348.96,377.53 L348.30,375.85 L347.44,374.28 L346.38,372.84Z" fill="#dfbaba" stroke="#e0a7a9" stroke-width="1.1"/>
<path d="M399.94,372.08 L398.45,370.88 L396.80,369.85 L395.01,368.99 L393.11,368.31 L391.09,367.83 L389.00,367.53 L386.84,367.44 L384.63,367.54 L382.41,367.85 L380.18,368.34 L377.98,369.03 L375.81,369.89 L373.71,370.94 L371.70,372.14 L369.78,373.50 L367.99,375.00 L366.33,376.63 L364.83,378.36 L363.50,380.19 L362.35,382.09 L361.39,384.05 L360.63,386.05 L360.09,388.06 L359.76,390.08 L359.64,392.08 L359.74,394.03 L360.07,395.93 L360.60,397.76 L361.35,399.48 L362.30,401.10 L363.44,402.60 L364.76,403.95 L366.25,405.15 L367.90,406.18 L369.69,407.04 L371.59,407.71 L373.61,408.20 L375.70,408.49 L377.86,408.58 L380.07,408.48 L382.29,408.18 L384.52,407.68 L386.72,407.00 L388.89,406.13 L390.99,405.09 L393.00,403.88 L394.92,402.52 L396.71,401.02 L398.37,399.40 L399.87,397.66 L401.20,395.84 L402.35,393.93 L403.31,391.98 L404.07,389.98 L404.61,387.96 L404.94,385.94 L405.06,383.95 L404.96,381.99 L404.63,380.09 L404.10,378.27 L403.35,376.54 L402.40,374.92 L401.26,373.43Z" fill="#e8cece" stroke="#e9c0c1" stroke-width="1.1"/>
<path d="M455.33,372.08 L453.84,370.88 L452.19,369.85 L450.40,368.99 L448.49,368.31 L446.48,367.83 L444.39,367.53 L442.23,367.44 L440.02,367.54 L437.80,367.85 L435.57,368.34 L433.36,369.03 L431.20,369.89 L429.10,370.94 L427.08,372.14 L425.17,373.50 L423.38,375.00 L421.72,376.63 L420.22,378.36 L418.89,380.19 L417.74,382.09 L416.78,384.05 L416.02,386.05 L415.48,388.06 L415.14,390.08 L415.03,392.08 L415.13,394.03 L415.45,395.93 L415.99,397.76 L416.74,399.48 L417.68,401.10 L418.83,402.60 L420.15,403.95 L421.64,405.15 L423.29,406.18 L425.07,407.04 L426.98,407.71 L429.00,408.20 L431.09,408.49 L433.25,408.58 L435.46,408.48 L437.68,408.18 L439.91,407.68 L442.11,407.00 L444.28,406.13 L446.38,405.09 L448.39,403.88 L450.31,402.52 L452.10,401.02 L453.76,399.40 L455.26,397.66 L456.59,395.84 L457.74,393.93 L458.70,391.98 L459.45,389.98 L460.00,387.96 L460.33,385.94 L460.45,383.95 L460.34,381.99 L460.02,380.09 L459.49,378.27 L458.74,376.54 L457.79,374.92 L456.65,373.43Z" fill="#e8cece" stroke="#e9c0c1" stroke-width="1.1"/>
<path d="M508.78,373.83 L507.09,372.44 L505.27,371.20 L503.33,370.12 L501.29,369.21 L499.17,368.48 L497.00,367.94 L494.79,367.60 L492.56,367.45 L490.34,367.50 L488.14,367.74 L485.99,368.18 L483.92,368.82 L481.93,369.63 L480.04,370.63 L478.29,371.79 L476.67,373.11 L475.22,374.57 L473.94,376.16 L472.84,377.86 L471.94,379.67 L471.24,381.55 L470.75,383.50 L470.48,385.48 L470.43,387.50 L470.59,389.52 L470.97,391.52 L471.57,393.49 L472.37,395.41 L473.37,397.25 L474.57,399.01 L475.94,400.66 L477.48,402.19 L479.16,403.58 L480.99,404.83 L482.93,405.91 L484.96,406.82 L487.08,407.54 L489.26,408.08 L491.47,408.43 L493.70,408.58 L495.92,408.53 L498.11,408.28 L500.26,407.84 L502.34,407.21 L504.33,406.39 L506.21,405.40 L507.97,404.24 L509.58,402.92 L511.04,401.46 L512.32,399.87 L513.42,398.16 L514.32,396.36 L515.02,394.47 L515.50,392.53 L515.78,390.54 L515.83,388.53 L515.67,386.51 L515.28,384.50 L514.69,382.54 L513.88,380.62 L512.88,378.77 L511.69,377.01 L510.32,375.36Z" fill="#fefcf5" stroke="#fefbf3" stroke-width="1.1"/>
<path d="M563.06,374.84 L561.28,373.35 L559.38,372.01 L557.37,370.82 L555.28,369.80 L553.12,368.95 L550.92,368.28 L548.69,367.81 L546.46,367.52 L544.26,367.44 L542.09,367.56 L539.99,367.87 L537.97,368.37 L536.05,369.07 L534.25,369.94 L532.58,371.00 L531.07,372.21 L529.73,373.58 L528.57,375.08 L527.60,376.72 L526.84,378.45 L526.28,380.29 L525.93,382.19 L525.81,384.15 L525.90,386.15 L526.21,388.17 L526.74,390.19 L527.47,392.18 L528.41,394.14 L529.54,396.03 L530.85,397.85 L532.34,399.57 L533.98,401.18 L535.76,402.67 L537.66,404.01 L539.67,405.20 L541.76,406.23 L543.92,407.08 L546.12,407.74 L548.34,408.22 L550.57,408.50 L552.78,408.58 L554.94,408.47 L557.05,408.16 L559.07,407.65 L560.99,406.96 L562.79,406.08 L564.45,405.03 L565.96,403.81 L567.30,402.45 L568.46,400.94 L569.43,399.31 L570.20,397.57 L570.76,395.74 L571.10,393.83 L571.23,391.87 L571.13,389.87 L570.82,387.85 L570.30,385.84 L569.56,383.84 L568.63,381.89 L567.50,379.99 L566.18,378.18 L564.70,376.45Z" fill="#faf2dc" stroke="#faf0d6" stroke-width="1.1"/>
<path d="M619.72,373.69 L618.05,372.31 L616.24,371.08 L614.31,370.02 L612.28,369.13 L610.17,368.42 L608.00,367.90 L605.79,367.57 L603.56,367.44 L601.34,367.51 L599.14,367.78 L596.99,368.24 L594.90,368.89 L592.90,369.73 L591.01,370.74 L589.24,371.92 L587.61,373.25 L586.14,374.72 L584.84,376.33 L583.72,378.04 L582.80,379.86 L582.08,381.75 L581.57,383.70 L581.27,385.69 L581.20,387.70 L581.34,389.72 L581.70,391.72 L582.28,393.69 L583.06,395.60 L584.04,397.44 L585.21,399.18 L586.57,400.82 L588.09,402.34 L589.76,403.72 L591.57,404.94 L593.50,406.01 L595.53,406.90 L597.64,407.61 L599.81,408.13 L602.02,408.45 L604.25,408.58 L606.47,408.51 L608.67,408.25 L610.82,407.79 L612.91,407.13 L614.91,406.30 L616.80,405.29 L618.57,404.11 L620.20,402.78 L621.67,401.30 L622.97,399.70 L624.09,397.98 L625.01,396.17 L625.73,394.28 L626.24,392.33 L626.54,390.34 L626.61,388.32 L626.47,386.30 L626.11,384.30 L625.54,382.34 L624.75,380.43 L623.77,378.59 L622.60,376.84 L621.24,375.20Z" fill="#fefdf9" stroke="#fefcf8" stroke-width="1.1"/>
<text x="160.8" y="144.3" text-anchor="middle" font-family="'DejaVu Sans', 'Liberation Sans', sans-serif" font-size="14.8" font-weight="bold" fill="#3b2a2a" stroke="#3b2a2a" stroke-width="0.35" letter-spacing="0.1">**</text>
<text x="216.2" y="144.3" text-anchor="middle" font-family="'DejaVu Sans', 'Liberation Sans', sans-serif" font-size="14.8" font-weight="bold" fill="#3b2a2a" stroke="#3b2a2a" stroke-width="0.35" letter-spacing="0.1">***</text>
<text x="271.6" y="144.3" text-anchor="middle" font-family="'DejaVu Sans', 'Liberation Sans', sans-serif" font-size="14.8" font-weight="bold" fill="#3b2a2a" stroke="#3b2a2a" stroke-width="0.35" letter-spacing="0.1">***</text>
<text x="382.4" y="244.7" text-anchor="middle" font-family="'DejaVu Sans', 'Liberation Sans', sans-serif" font-size="14.8" font-weight="bold" fill="#3b2a2a" stroke="#3b2a2a" stroke-width="0.35" letter-spacing="0.1">*</text>
<text x="493.1" y="244.7" text-anchor="middle" font-family="'DejaVu Sans', 'Liberation Sans', sans-serif" font-size="14.8" font-weight="bold" fill="#3b2a2a" stroke="#3b2a2a" stroke-width="0.35" letter-spacing="0.1">*</text>
<text x="327.0" y="294.9" text-anchor="middle" font-family="'DejaVu Sans', 'Liberation Sans', sans-serif" font-size="14.8" font-weight="bold" fill="#3b2a2a" stroke="#3b2a2a" stroke-width="0.35" letter-spacing="0.1">*</text>
<text x="382.4" y="294.9" text-anchor="middle" font-family="'DejaVu Sans', 'Liberation Sans', sans-serif" font-size="14.8" font-weight="bold" fill="#3b2a2a" stroke="#3b2a2a" stroke-width="0.35" letter-spacing="0.1">*</text>
<text x="437.7" y="294.9" text-anchor="middle" font-family="'DejaVu Sans', 'Liberation Sans', sans-serif" font-size="14.8" font-weight="bold" fill="#3b2a2a" stroke="#3b2a2a" stroke-width="0.35" letter-spacing="0.1">*</text>
<rect x="133.05" y="11.44" width="498.62" height="401.56" fill="none" stroke="#111" stroke-width="2.1"/>
<g font-size="10.3" fill="#1a1a1a" stroke="#1a1a1a" stroke-width="0.4" text-anchor="end">
<text x="124.3" y="39.5">age</text>
<text x="124.3" y="89.7">LEDD</text>
<text x="124.3" y="139.8">HAMD</text>
<text x="124.3" y="190.0">MMSE</text>
<text x="124.3" y="240.2">HAMA</text>
<text x="124.3" y="290.4">Disease of duration</text>
<text x="124.3" y="340.5">UPDRSIII off</text>
<text x="124.3" y="390.7">UPDRSIII on</text>
</g>
<g font-size="10.3" fill="#1a1a1a" stroke="#1a1a1a" stroke-width="0.35" text-anchor="end">
<text transform="translate(168.7,430.3) rotate(-45)">P1 Happy Amplitude</text>
<text transform="translate(224.1,430.3) rotate(-45)">P1 Neutral Amplitude</text>
<text transform="translate(279.5,430.3) rotate(-45)">P1 Sad Amplitude</text>
<text transform="translate(334.9,430.3) rotate(-45)">N170 Happy Amplitude</text>
<text transform="translate(390.2,430.3) rotate(-45)">N170 Neutral Amplitude</text>
<text transform="translate(445.6,430.3) rotate(-45)">N170 Sad Amplitude</text>
<text transform="translate(501.0,430.3) rotate(-45)">EPN Happy Amplitude</text>
<text transform="translate(556.4,430.3) rotate(-45)">EPN Neutral Amplitude</text>
<text transform="translate(611.8,430.3) rotate(-45)">EPN Sad Amplitude</text>
</g>
<defs><linearGradient id="cba" x1="0" y1="0" x2="0" y2="1">
<stop offset="0.000" stop-color="#8b0a0a"/>
<stop offset="0.050" stop-color="#972222"/>
<stop offset="0.100" stop-color="#a23b3b"/>
<stop offset="0.150" stop-color="#ae5454"/>
<stop offset="0.200" stop-color="#b96c6c"/>
<stop offset="0.250" stop-color="#c58484"/>
<stop offset="0.300" stop-color="#d19d9d"/>
<stop offset="0.350" stop-color="#dcb6b6"/>
<stop offset="0.400" stop-color="#e8cece"/>
<stop offset="0.450" stop-color="#f3e6e6"/>
<stop offset="0.500" stop-color="#ffffff"/>
<stop offset="0.550" stop-color="#fcf8eb"/>
<stop offset="0.600" stop-color="#faf1d8"/>
<stop offset="0.650" stop-color="#f8ebc9"/>
<stop offset="0.700" stop-color="#f6e5ba"/>
<stop offset="0.750" stop-color="#f4dfab"/>
<stop offset="0.800" stop-color="#f2d99c"/>
<stop offset="0.850" stop-color="#f0d38e"/>
<stop offset="0.900" stop-color="#eecd80"/>
<stop offset="0.950" stop-color="#ecc873"/>
<stop offset="1.000" stop-color="#eac266"/>
</linearGradient></defs>
<rect x="638.6" y="11.2" width="22.2" height="401.7" fill="url(#cba)" stroke="#222" stroke-width="1.1"/>
<line x1="660.8" y1="11.20" x2="668.3" y2="11.20" stroke="#222" stroke-width="1.4"/>
<text transform="translate(672.3,16.20) scale(0.95,1.18)" font-family="'Liberation Serif', 'Times New Roman', serif" font-size="11.5" fill="#333">1. 0</text>
<line x1="660.8" y1="51.37" x2="668.3" y2="51.37" stroke="#222" stroke-width="1.4"/>
<text transform="translate(672.3,56.37) scale(0.95,1.18)" font-family="'Liberation Serif', 'Times New Roman', serif" font-size="11.5" fill="#333">0. 80</text>
<line x1="660.8" y1="91.54" x2="668.3" y2="91.54" stroke="#222" stroke-width="1.4"/>
<text transform="translate(672.3,96.54) scale(0.95,1.18)" font-family="'Liberation Serif', 'Times New Roman', serif" font-size="11.5" fill="#333">0. 60</text>
<line x1="660.8" y1="131.71" x2="668.3" y2="131.71" stroke="#222" stroke-width="1.4"/>
<text transform="translate(672.3,136.71) scale(0.95,1.18)" font-family="'Liberation Serif', 'Times New Roman', serif" font-size="11.5" fill="#333">0. 40</text>
<line x1="660.8" y1="171.88" x2="668.3" y2="171.88" stroke="#222" stroke-width="1.4"/>
<text transform="translate(672.3,176.88) scale(0.95,1.18)" font-family="'Liberation Serif', 'Times New Roman', serif" font-size="11.5" fill="#333">0. 20</text>
<line x1="660.8" y1="212.05" x2="668.3" y2="212.05" stroke="#222" stroke-width="1.4"/>
<text transform="translate(672.3,217.05) scale(0.95,1.18)" font-family="'Liberation Serif', 'Times New Roman', serif" font-size="11.5" fill="#333">0. 0</text>
<line x1="660.8" y1="252.22" x2="668.3" y2="252.22" stroke="#222" stroke-width="1.4"/>
<text transform="translate(672.3,257.22) scale(0.95,1.18)" font-family="'Liberation Serif', 'Times New Roman', serif" font-size="11.5" fill="#333">−0. 20</text>
<line x1="660.8" y1="292.39" x2="668.3" y2="292.39" stroke="#222" stroke-width="1.4"/>
<text transform="translate(672.3,297.39) scale(0.95,1.18)" font-family="'Liberation Serif', 'Times New Roman', serif" font-size="11.5" fill="#333">−0. 40</text>
<line x1="660.8" y1="332.56" x2="668.3" y2="332.56" stroke="#222" stroke-width="1.4"/>
<text transform="translate(672.3,337.56) scale(0.95,1.18)" font-family="'Liberation Serif', 'Times New Roman', serif" font-size="11.5" fill="#333">−0. 60</text>
<line x1="660.8" y1="372.73" x2="668.3" y2="372.73" stroke="#222" stroke-width="1.4"/>
<text transform="translate(672.3,377.73) scale(0.95,1.18)" font-family="'Liberation Serif', 'Times New Roman', serif" font-size="11.5" fill="#333">−0. 80</text>
<line x1="660.8" y1="412.90" x2="668.3" y2="412.90" stroke="#222" stroke-width="1.4"/>
<text transform="translate(672.3,417.90) scale(0.95,1.18)" font-family="'Liberation Serif', 'Times New Roman', serif" font-size="11.5" fill="#333">−1. 0</text>
<text x="0.9" y="22.8" font-size="26.3" fill="#111">(a)</text>
<g stroke="#e4e5e8" stroke-width="1.2">
<line x1="970.98" y1="9.3" x2="970.98" y2="406.1"/>
<line x1="1026.46" y1="9.3" x2="1026.46" y2="406.1"/>
<line x1="1081.93" y1="9.3" x2="1081.93" y2="406.1"/>
<line x1="1137.41" y1="9.3" x2="1137.41" y2="406.1"/>
<line x1="1192.89" y1="9.3" x2="1192.89" y2="406.1"/>
<line x1="1248.37" y1="9.3" x2="1248.37" y2="406.1"/>
<line x1="1303.84" y1="9.3" x2="1303.84" y2="406.1"/>
<line x1="1359.32" y1="9.3" x2="1359.32" y2="406.1"/>
<line x1="917.5" y1="57.40" x2="1412.8" y2="57.40"/>
<line x1="917.5" y1="107.50" x2="1412.8" y2="107.50"/>
<line x1="917.5" y1="157.60" x2="1412.8" y2="157.60"/>
<line x1="917.5" y1="207.70" x2="1412.8" y2="207.70"/>
<line x1="917.5" y1="257.80" x2="1412.8" y2="257.80"/>
<line x1="917.5" y1="307.90" x2="1412.8" y2="307.90"/>
<line x1="917.5" y1="358.00" x2="1412.8" y2="358.00"/>
</g>
<path d="M1014.64,17.97 L1012.97,16.60 L1011.16,15.39 L1009.24,14.33 L1007.21,13.45 L1005.10,12.75 L1002.93,12.24 L1000.72,11.93 L998.49,11.81 L996.26,11.89 L994.06,12.16 L991.90,12.63 L989.80,13.29 L987.79,14.14 L985.89,15.16 L984.11,16.34 L982.47,17.68 L980.99,19.16 L979.68,20.77 L978.55,22.49 L977.62,24.30 L976.89,26.19 L976.36,28.14 L976.06,30.13 L975.97,32.14 L976.10,34.16 L976.45,36.16 L977.02,38.12 L977.79,40.02 L978.76,41.85 L979.93,43.59 L981.28,45.22 L982.79,46.73 L984.46,48.10 L986.27,49.31 L988.20,50.37 L990.22,51.25 L992.33,51.95 L994.50,52.46 L996.71,52.77 L998.94,52.89 L1001.17,52.81 L1003.38,52.54 L1005.54,52.07 L1007.63,51.41 L1009.64,50.56 L1011.54,49.54 L1013.32,48.36 L1014.96,47.02 L1016.44,45.54 L1017.75,43.93 L1018.88,42.21 L1019.82,40.40 L1020.55,38.51 L1021.07,36.56 L1021.37,34.57 L1021.46,32.56 L1021.33,30.54 L1020.98,28.54 L1020.42,26.58 L1019.64,24.68 L1018.67,22.85 L1017.50,21.11 L1016.15,19.48Z" fill="#fefefb" stroke="#fefdfa" stroke-width="1.1"/>
<path d="M1070.20,17.90 L1068.54,16.54 L1066.74,15.33 L1064.82,14.28 L1062.79,13.41 L1060.69,12.72 L1058.52,12.22 L1056.31,11.92 L1054.08,11.81 L1051.85,11.90 L1049.65,12.18 L1047.48,12.66 L1045.39,13.33 L1043.37,14.19 L1041.46,15.21 L1039.68,16.41 L1038.03,17.75 L1036.54,19.24 L1035.22,20.85 L1034.08,22.58 L1033.14,24.39 L1032.40,26.29 L1031.86,28.24 L1031.55,30.23 L1031.45,32.25 L1031.57,34.26 L1031.91,36.26 L1032.46,38.21 L1033.22,40.12 L1034.19,41.94 L1035.35,43.68 L1036.68,45.30 L1038.19,46.80 L1039.85,48.16 L1041.65,49.37 L1043.57,50.42 L1045.60,51.29 L1047.70,51.98 L1049.87,52.48 L1052.08,52.78 L1054.31,52.89 L1056.54,52.80 L1058.74,52.52 L1060.91,52.04 L1063.00,51.37 L1065.02,50.51 L1066.93,49.49 L1068.71,48.29 L1070.36,46.95 L1071.85,45.46 L1073.17,43.85 L1074.31,42.12 L1075.25,40.31 L1075.99,38.41 L1076.53,36.46 L1076.84,34.47 L1076.94,32.45 L1076.82,30.44 L1076.48,28.44 L1075.93,26.49 L1075.17,24.58 L1074.20,22.76 L1073.04,21.02 L1071.70,19.40Z" fill="#fffefd" stroke="#fffefd" stroke-width="1.1"/>
<path d="M1128.01,15.79 L1126.60,14.68 L1125.03,13.74 L1123.31,12.97 L1121.46,12.40 L1119.50,12.02 L1117.44,11.83 L1115.31,11.84 L1113.12,12.05 L1110.90,12.45 L1108.67,13.05 L1106.45,13.83 L1104.26,14.79 L1102.12,15.91 L1100.05,17.20 L1098.08,18.63 L1096.22,20.20 L1094.48,21.88 L1092.90,23.66 L1091.47,25.53 L1090.22,27.46 L1089.16,29.44 L1088.30,31.45 L1087.64,33.46 L1087.19,35.47 L1086.96,37.44 L1086.95,39.37 L1087.16,41.23 L1087.58,43.00 L1088.22,44.67 L1089.06,46.22 L1090.10,47.64 L1091.33,48.91 L1092.74,50.02 L1094.31,50.96 L1096.03,51.73 L1097.88,52.30 L1099.84,52.68 L1101.90,52.87 L1104.03,52.86 L1106.22,52.65 L1108.44,52.25 L1110.67,51.65 L1112.90,50.87 L1115.09,49.91 L1117.23,48.79 L1119.29,47.50 L1121.27,46.07 L1123.13,44.50 L1124.86,42.82 L1126.45,41.04 L1127.87,39.17 L1129.12,37.24 L1130.18,35.26 L1131.05,33.25 L1131.71,31.24 L1132.15,29.23 L1132.38,27.26 L1132.40,25.33 L1132.19,23.47 L1131.76,21.70 L1131.13,20.03 L1130.28,18.48 L1129.24,17.06Z" fill="#dcb6b6" stroke="#dea1a2" stroke-width="1.1"/>
<path d="M1182.77,16.44 L1181.27,15.24 L1179.62,14.21 L1177.83,13.35 L1175.92,12.68 L1173.91,12.19 L1171.81,11.90 L1169.64,11.81 L1167.44,11.91 L1165.21,12.21 L1162.98,12.71 L1160.77,13.39 L1158.60,14.26 L1156.50,15.30 L1154.48,16.50 L1152.56,17.86 L1150.76,19.36 L1149.11,20.98 L1147.60,22.71 L1146.27,24.54 L1145.12,26.44 L1144.16,28.39 L1143.40,30.39 L1142.85,32.40 L1142.52,34.41 L1142.40,36.41 L1142.51,38.36 L1142.83,40.26 L1143.37,42.08 L1144.11,43.80 L1145.06,45.42 L1146.21,46.91 L1147.53,48.26 L1149.03,49.46 L1150.68,50.49 L1152.47,51.35 L1154.38,52.02 L1156.39,52.51 L1158.49,52.80 L1160.66,52.89 L1162.86,52.79 L1165.09,52.49 L1167.32,51.99 L1169.53,51.31 L1171.70,50.44 L1173.80,49.40 L1175.82,48.20 L1177.74,46.84 L1179.54,45.34 L1181.19,43.72 L1182.70,41.99 L1184.03,40.16 L1185.18,38.26 L1186.14,36.31 L1186.90,34.31 L1187.45,32.30 L1187.78,30.29 L1187.90,28.29 L1187.79,26.34 L1187.47,24.44 L1186.93,22.62 L1186.19,20.90 L1185.24,19.28 L1184.09,17.79Z" fill="#e8cece" stroke="#e9c0c1" stroke-width="1.1"/>
<path d="M1238.10,16.57 L1236.59,15.36 L1234.92,14.31 L1233.12,13.43 L1231.20,12.74 L1229.17,12.24 L1227.06,11.92 L1224.89,11.81 L1222.68,11.89 L1220.45,12.17 L1218.22,12.65 L1216.02,13.31 L1213.86,14.16 L1211.76,15.18 L1209.75,16.37 L1207.85,17.71 L1206.06,19.20 L1204.42,20.81 L1202.93,22.53 L1201.62,24.34 L1200.49,26.24 L1199.55,28.19 L1198.81,30.18 L1198.29,32.19 L1197.97,34.21 L1197.88,36.20 L1198.01,38.16 L1198.35,40.06 L1198.91,41.89 L1199.68,43.63 L1200.65,45.26 L1201.81,46.76 L1203.16,48.13 L1204.67,49.34 L1206.33,50.39 L1208.14,51.27 L1210.06,51.96 L1212.08,52.46 L1214.19,52.78 L1216.36,52.89 L1218.57,52.81 L1220.80,52.53 L1223.03,52.05 L1225.24,51.39 L1227.40,50.54 L1229.49,49.52 L1231.50,48.33 L1233.41,46.99 L1235.19,45.50 L1236.83,43.89 L1238.32,42.17 L1239.64,40.36 L1240.77,38.46 L1241.71,36.51 L1242.44,34.52 L1242.97,32.51 L1243.28,30.49 L1243.37,28.50 L1243.25,26.54 L1242.90,24.64 L1242.34,22.81 L1241.57,21.07 L1240.60,19.44 L1239.44,17.94Z" fill="#ead3d3" stroke="#ebc6c7" stroke-width="1.1"/>
<path d="M1294.86,15.41 L1293.51,14.35 L1291.99,13.47 L1290.32,12.77 L1288.51,12.25 L1286.58,11.93 L1284.55,11.81 L1282.44,11.88 L1280.27,12.16 L1278.06,12.62 L1275.83,13.28 L1273.60,14.12 L1271.40,15.13 L1269.24,16.31 L1267.15,17.65 L1265.14,19.13 L1263.24,20.73 L1261.46,22.45 L1259.83,24.26 L1258.35,26.15 L1257.04,28.10 L1255.92,30.09 L1254.99,32.10 L1254.26,34.11 L1253.74,36.11 L1253.44,38.07 L1253.36,39.98 L1253.50,41.81 L1253.85,43.55 L1254.42,45.19 L1255.20,46.70 L1256.18,48.07 L1257.35,49.29 L1258.70,50.35 L1260.22,51.23 L1261.89,51.93 L1263.70,52.45 L1265.63,52.77 L1267.66,52.89 L1269.77,52.82 L1271.94,52.54 L1274.15,52.08 L1276.38,51.42 L1278.61,50.58 L1280.82,49.57 L1282.97,48.39 L1285.07,47.05 L1287.07,45.57 L1288.97,43.97 L1290.75,42.25 L1292.38,40.44 L1293.86,38.55 L1295.17,36.60 L1296.30,34.61 L1297.22,32.60 L1297.95,30.59 L1298.47,28.59 L1298.77,26.63 L1298.85,24.72 L1298.71,22.89 L1298.36,21.15 L1297.79,19.51 L1297.01,18.00 L1296.03,16.63Z" fill="#d5a7a7" stroke="#d78e90" stroke-width="1.1"/>
<path d="M1349.92,15.79 L1348.51,14.68 L1346.94,13.74 L1345.23,12.97 L1343.38,12.40 L1341.41,12.02 L1339.35,11.83 L1337.22,11.84 L1335.04,12.05 L1332.81,12.45 L1330.58,13.05 L1328.36,13.83 L1326.17,14.79 L1324.03,15.91 L1321.96,17.20 L1319.99,18.63 L1318.13,20.20 L1316.39,21.88 L1314.81,23.66 L1313.38,25.53 L1312.13,27.46 L1311.07,29.44 L1310.21,31.45 L1309.55,33.46 L1309.10,35.47 L1308.87,37.44 L1308.86,39.37 L1309.07,41.23 L1309.49,43.00 L1310.13,44.67 L1310.97,46.22 L1312.01,47.64 L1313.25,48.91 L1314.65,50.02 L1316.22,50.96 L1317.94,51.73 L1319.79,52.30 L1321.75,52.68 L1323.81,52.87 L1325.94,52.86 L1328.13,52.65 L1330.35,52.25 L1332.58,51.65 L1334.81,50.87 L1337.00,49.91 L1339.14,48.79 L1341.20,47.50 L1343.18,46.07 L1345.04,44.50 L1346.77,42.82 L1348.36,41.04 L1349.78,39.17 L1351.03,37.24 L1352.10,35.26 L1352.96,33.25 L1353.62,31.24 L1354.07,29.23 L1354.30,27.26 L1354.31,25.33 L1354.10,23.47 L1353.68,21.70 L1353.04,20.03 L1352.19,18.48 L1351.15,17.06Z" fill="#dcb6b6" stroke="#dea1a2" stroke-width="1.1"/>
<path d="M1405.61,15.60 L1404.23,14.51 L1402.69,13.60 L1400.99,12.87 L1399.16,12.32 L1397.21,11.97 L1395.17,11.82 L1393.05,11.86 L1390.87,12.10 L1388.65,12.53 L1386.42,13.16 L1384.19,13.97 L1382.00,14.96 L1379.85,16.11 L1377.77,17.42 L1375.78,18.88 L1373.90,20.46 L1372.14,22.16 L1370.53,23.96 L1369.08,25.84 L1367.80,27.78 L1366.71,29.76 L1365.81,31.77 L1365.12,33.79 L1364.64,35.79 L1364.37,37.76 L1364.32,39.67 L1364.50,41.52 L1364.89,43.28 L1365.49,44.93 L1366.30,46.46 L1367.31,47.85 L1368.51,49.10 L1369.89,50.19 L1371.44,51.10 L1373.13,51.83 L1374.96,52.38 L1376.91,52.73 L1378.95,52.88 L1381.07,52.84 L1383.25,52.60 L1385.47,52.17 L1387.70,51.54 L1389.93,50.73 L1392.13,49.74 L1394.27,48.59 L1396.35,47.28 L1398.34,45.82 L1400.23,44.24 L1401.98,42.54 L1403.59,40.74 L1405.04,38.86 L1406.32,36.92 L1407.42,34.94 L1408.31,32.93 L1409.01,30.91 L1409.49,28.91 L1409.75,26.94 L1409.80,25.03 L1409.63,23.18 L1409.24,21.42 L1408.63,19.77 L1407.82,18.24 L1406.81,16.85Z" fill="#d9aeae" stroke="#da9799" stroke-width="1.1"/>
<path d="M959.16,68.07 L957.49,66.70 L955.69,65.49 L953.76,64.43 L951.73,63.55 L949.62,62.85 L947.45,62.34 L945.24,62.03 L943.01,61.91 L940.78,61.99 L938.58,62.26 L936.42,62.73 L934.32,63.39 L932.32,64.24 L930.41,65.26 L928.63,66.44 L927.00,67.78 L925.51,69.26 L924.20,70.87 L923.07,72.59 L922.14,74.40 L921.41,76.29 L920.89,78.24 L920.58,80.23 L920.49,82.24 L920.63,84.26 L920.98,86.26 L921.54,88.22 L922.31,90.12 L923.29,91.95 L924.45,93.69 L925.80,95.32 L927.32,96.83 L928.99,98.20 L930.79,99.41 L932.72,100.47 L934.75,101.35 L936.85,102.05 L939.02,102.56 L941.24,102.87 L943.47,102.99 L945.69,102.91 L947.90,102.64 L950.06,102.17 L952.15,101.51 L954.16,100.66 L956.06,99.64 L957.84,98.46 L959.48,97.12 L960.97,95.64 L962.28,94.03 L963.41,92.31 L964.34,90.50 L965.07,88.61 L965.59,86.66 L965.90,84.67 L965.98,82.66 L965.85,80.64 L965.50,78.64 L964.94,76.68 L964.17,74.78 L963.19,72.95 L962.02,71.21 L960.68,69.58Z" fill="#fefefb" stroke="#fefdfa" stroke-width="1.1"/>
<path d="M1014.56,68.14 L1012.88,66.77 L1011.07,65.54 L1009.14,64.48 L1007.10,63.59 L1004.99,62.89 L1002.82,62.37 L1000.61,62.04 L998.38,61.91 L996.15,61.98 L993.94,62.25 L991.79,62.71 L989.70,63.36 L987.69,64.19 L985.80,65.20 L984.02,66.38 L982.39,67.71 L980.92,69.18 L979.62,70.78 L978.50,72.50 L977.57,74.31 L976.85,76.19 L976.34,78.14 L976.05,80.13 L975.97,82.14 L976.12,84.16 L976.48,86.15 L977.05,88.12 L977.84,90.03 L978.82,91.86 L980.00,93.60 L981.35,95.24 L982.88,96.76 L984.55,98.13 L986.36,99.36 L988.30,100.42 L990.33,101.31 L992.44,102.01 L994.61,102.53 L996.83,102.86 L999.06,102.99 L1001.29,102.92 L1003.49,102.65 L1005.65,102.19 L1007.74,101.54 L1009.74,100.71 L1011.64,99.70 L1013.41,98.52 L1015.04,97.19 L1016.51,95.72 L1017.82,94.12 L1018.94,92.40 L1019.86,90.59 L1020.58,88.71 L1021.09,86.76 L1021.38,84.77 L1021.46,82.76 L1021.32,80.74 L1020.96,78.75 L1020.38,76.78 L1019.60,74.87 L1018.61,73.04 L1017.44,71.30 L1016.08,69.66Z" fill="#fefdf9" stroke="#fefcf8" stroke-width="1.1"/>
<path d="M1070.04,68.14 L1068.36,66.77 L1066.55,65.54 L1064.61,64.48 L1062.58,63.59 L1060.47,62.89 L1058.30,62.37 L1056.08,62.04 L1053.85,61.91 L1051.63,61.98 L1049.42,62.25 L1047.27,62.71 L1045.18,63.36 L1043.17,64.19 L1041.28,65.20 L1039.50,66.38 L1037.87,67.71 L1036.40,69.18 L1035.09,70.78 L1033.98,72.50 L1033.05,74.31 L1032.33,76.19 L1031.82,78.14 L1031.53,80.13 L1031.45,82.14 L1031.59,84.16 L1031.95,86.15 L1032.53,88.12 L1033.31,90.03 L1034.30,91.86 L1035.47,93.60 L1036.83,95.24 L1038.35,96.76 L1040.03,98.13 L1041.84,99.36 L1043.77,100.42 L1045.81,101.31 L1047.92,102.01 L1050.09,102.53 L1052.30,102.86 L1054.54,102.99 L1056.76,102.92 L1058.97,102.65 L1061.12,102.19 L1063.21,101.54 L1065.22,100.71 L1067.11,99.70 L1068.89,98.52 L1070.52,97.19 L1071.99,95.72 L1073.29,94.12 L1074.41,92.40 L1075.34,90.59 L1076.06,88.71 L1076.57,86.76 L1076.86,84.77 L1076.94,82.76 L1076.79,80.74 L1076.43,78.75 L1075.86,76.78 L1075.08,74.87 L1074.09,73.04 L1072.92,71.30 L1071.56,69.66Z" fill="#fefdf9" stroke="#fefcf8" stroke-width="1.1"/>
<path d="M1126.39,67.36 L1124.79,66.06 L1123.06,64.93 L1121.19,63.96 L1119.21,63.17 L1117.14,62.57 L1115.00,62.16 L1112.81,61.94 L1110.58,61.93 L1108.35,62.10 L1106.13,62.48 L1103.95,63.05 L1101.82,63.80 L1099.76,64.74 L1097.80,65.84 L1095.96,67.11 L1094.25,68.52 L1092.68,70.07 L1091.28,71.73 L1090.06,73.50 L1089.02,75.36 L1088.19,77.28 L1087.56,79.25 L1087.14,81.26 L1086.94,83.27 L1086.96,85.28 L1087.20,87.26 L1087.66,89.19 L1088.33,91.06 L1089.20,92.85 L1090.27,94.54 L1091.53,96.11 L1092.96,97.54 L1094.55,98.84 L1096.29,99.97 L1098.16,100.94 L1100.13,101.73 L1102.20,102.33 L1104.35,102.74 L1106.54,102.96 L1108.76,102.97 L1110.99,102.80 L1113.21,102.42 L1115.40,101.85 L1117.53,101.10 L1119.58,100.16 L1121.54,99.06 L1123.39,97.79 L1125.10,96.38 L1126.66,94.83 L1128.06,93.17 L1129.29,91.40 L1130.32,89.54 L1131.16,87.62 L1131.79,85.65 L1132.20,83.64 L1132.40,81.63 L1132.38,79.62 L1132.14,77.64 L1131.69,75.71 L1131.02,73.84 L1130.15,72.05 L1129.08,70.36 L1127.82,68.79Z" fill="#f6ebeb" stroke="#f6e6e6" stroke-width="1.1"/>
<path d="M1179.54,69.46 L1177.74,67.96 L1175.82,66.60 L1173.80,65.40 L1171.70,64.36 L1169.53,63.49 L1167.32,62.81 L1165.09,62.31 L1162.86,62.01 L1160.66,61.91 L1158.49,62.00 L1156.39,62.29 L1154.38,62.78 L1152.47,63.45 L1150.68,64.31 L1149.03,65.34 L1147.53,66.54 L1146.21,67.89 L1145.06,69.38 L1144.11,71.00 L1143.37,72.72 L1142.83,74.54 L1142.51,76.44 L1142.40,78.39 L1142.52,80.39 L1142.85,82.40 L1143.40,84.41 L1144.16,86.41 L1145.12,88.36 L1146.27,90.26 L1147.60,92.09 L1149.11,93.82 L1150.76,95.44 L1152.56,96.94 L1154.48,98.30 L1156.50,99.50 L1158.60,100.54 L1160.77,101.41 L1162.98,102.09 L1165.21,102.59 L1167.44,102.89 L1169.64,102.99 L1171.81,102.90 L1173.91,102.61 L1175.92,102.12 L1177.83,101.45 L1179.62,100.59 L1181.27,99.56 L1182.77,98.36 L1184.09,97.01 L1185.24,95.52 L1186.19,93.90 L1186.93,92.18 L1187.47,90.36 L1187.79,88.46 L1187.90,86.51 L1187.78,84.51 L1187.45,82.50 L1186.90,80.49 L1186.14,78.49 L1185.18,76.54 L1184.03,74.64 L1182.70,72.81 L1181.19,71.08Z" fill="#faf1d8" stroke="#f9efd2" stroke-width="1.1"/>
<path d="M1293.87,66.41 L1292.39,65.23 L1290.76,64.21 L1288.98,63.37 L1287.08,62.72 L1285.08,62.25 L1282.98,61.98 L1280.83,61.91 L1278.62,62.04 L1276.40,62.36 L1274.16,62.87 L1271.95,63.57 L1269.78,64.46 L1267.67,65.52 L1265.64,66.74 L1263.71,68.11 L1261.90,69.62 L1260.23,71.26 L1258.71,73.00 L1257.36,74.83 L1256.18,76.74 L1255.20,78.70 L1254.42,80.70 L1253.86,82.71 L1253.50,84.72 L1253.36,86.71 L1253.44,88.66 L1253.74,90.55 L1254.26,92.36 L1254.98,94.08 L1255.91,95.68 L1257.03,97.16 L1258.34,98.49 L1259.82,99.67 L1261.45,100.69 L1263.23,101.53 L1265.13,102.18 L1267.13,102.65 L1269.23,102.92 L1271.38,102.99 L1273.59,102.86 L1275.82,102.54 L1278.05,102.03 L1280.26,101.33 L1282.43,100.44 L1284.54,99.38 L1286.57,98.16 L1288.50,96.79 L1290.31,95.28 L1291.98,93.64 L1293.50,91.90 L1294.86,90.07 L1296.03,88.16 L1297.01,86.20 L1297.79,84.20 L1298.36,82.19 L1298.71,80.18 L1298.85,78.19 L1298.77,76.24 L1298.47,74.35 L1297.95,72.54 L1297.23,70.82 L1296.30,69.22 L1295.18,67.74Z" fill="#e5c9c9" stroke="#e6babb" stroke-width="1.1"/>
<path d="M1351.02,64.90 L1349.77,63.94 L1348.34,63.15 L1346.75,62.56 L1345.02,62.15 L1343.15,61.94 L1341.18,61.93 L1339.11,62.11 L1336.97,62.49 L1334.78,63.07 L1332.55,63.82 L1330.32,64.76 L1328.10,65.87 L1325.91,67.14 L1323.78,68.56 L1321.73,70.11 L1319.76,71.78 L1317.92,73.55 L1316.20,75.41 L1314.63,77.33 L1313.23,79.31 L1312.00,81.31 L1310.96,83.33 L1310.12,85.33 L1309.48,87.31 L1309.06,89.25 L1308.86,91.11 L1308.87,92.90 L1309.11,94.58 L1309.56,96.15 L1310.22,97.58 L1311.08,98.87 L1312.15,100.00 L1313.40,100.96 L1314.83,101.75 L1316.42,102.34 L1318.15,102.75 L1320.02,102.96 L1321.99,102.97 L1324.06,102.79 L1326.20,102.41 L1328.39,101.83 L1330.61,101.08 L1332.85,100.14 L1335.07,99.03 L1337.25,97.76 L1339.38,96.34 L1341.44,94.79 L1343.40,93.12 L1345.25,91.35 L1346.97,89.49 L1348.53,87.57 L1349.94,85.59 L1351.17,83.59 L1352.21,81.57 L1353.05,79.57 L1353.68,77.59 L1354.10,75.65 L1354.31,73.79 L1354.29,72.00 L1354.06,70.32 L1353.61,68.75 L1352.95,67.32 L1352.08,66.03Z" fill="#ca8e8e" stroke="#cc6e71" stroke-width="1.1"/>
<path d="M1407.28,64.19 L1406.16,63.36 L1404.86,62.71 L1403.38,62.25 L1401.75,61.98 L1399.98,61.91 L1398.08,62.04 L1396.08,62.37 L1393.99,62.88 L1391.83,63.59 L1389.63,64.48 L1387.40,65.54 L1385.17,66.77 L1382.96,68.14 L1380.78,69.66 L1378.67,71.29 L1376.64,73.04 L1374.71,74.87 L1372.89,76.78 L1371.22,78.74 L1369.69,80.74 L1368.34,82.75 L1367.16,84.77 L1366.18,86.76 L1365.40,88.70 L1364.82,90.59 L1364.46,92.40 L1364.32,94.11 L1364.39,95.72 L1364.69,97.19 L1365.20,98.52 L1365.92,99.70 L1366.84,100.71 L1367.96,101.54 L1369.27,102.19 L1370.74,102.65 L1372.37,102.92 L1374.14,102.99 L1376.04,102.86 L1378.05,102.53 L1380.14,102.02 L1382.29,101.31 L1384.50,100.42 L1386.72,99.36 L1388.95,98.13 L1391.17,96.76 L1393.34,95.24 L1395.45,93.61 L1397.48,91.86 L1399.42,90.03 L1401.23,88.12 L1402.90,86.16 L1404.43,84.16 L1405.78,82.15 L1406.96,80.13 L1407.94,78.14 L1408.73,76.20 L1409.30,74.31 L1409.66,72.50 L1409.80,70.79 L1409.73,69.18 L1409.43,67.71 L1408.92,66.38 L1408.20,65.20Z" fill="#bc7171" stroke="#be494c" stroke-width="1.1"/>
<path d="M961.00,116.51 L959.53,115.33 L957.89,114.31 L956.12,113.47 L954.22,112.82 L952.21,112.35 L950.12,112.08 L947.96,112.01 L945.76,112.14 L943.53,112.46 L941.30,112.97 L939.09,113.67 L936.91,114.56 L934.80,115.62 L932.77,116.84 L930.84,118.21 L929.03,119.72 L927.36,121.36 L925.84,123.10 L924.49,124.93 L923.32,126.84 L922.34,128.80 L921.56,130.80 L920.99,132.81 L920.63,134.82 L920.49,136.81 L920.58,138.76 L920.88,140.65 L921.39,142.46 L922.12,144.18 L923.04,145.78 L924.17,147.26 L925.47,148.59 L926.95,149.77 L928.59,150.79 L930.36,151.63 L932.26,152.28 L934.27,152.75 L936.36,153.02 L938.52,153.09 L940.72,152.96 L942.95,152.64 L945.18,152.13 L947.39,151.43 L949.56,150.54 L951.68,149.48 L953.70,148.26 L955.63,146.89 L957.44,145.38 L959.12,143.74 L960.64,142.00 L961.99,140.17 L963.16,138.26 L964.14,136.30 L964.92,134.30 L965.49,132.29 L965.85,130.28 L965.98,128.29 L965.90,126.34 L965.60,124.45 L965.09,122.64 L964.36,120.92 L963.43,119.32 L962.31,117.84Z" fill="#e5c9c9" stroke="#e6babb" stroke-width="1.1"/>
<path d="M1015.89,117.04 L1014.34,115.80 L1012.65,114.71 L1010.82,113.80 L1008.87,113.07 L1006.83,112.52 L1004.71,112.17 L1002.53,112.02 L1000.31,112.06 L998.08,112.30 L995.86,112.73 L993.66,113.36 L991.51,114.17 L989.43,115.16 L987.44,116.31 L985.56,117.63 L983.80,119.08 L982.19,120.67 L980.74,122.36 L979.46,124.16 L978.36,126.04 L977.47,127.98 L976.77,129.97 L976.29,131.98 L976.03,133.99 L975.98,135.99 L976.15,137.96 L976.54,139.88 L977.14,141.72 L977.95,143.48 L978.96,145.13 L980.16,146.66 L981.54,148.06 L983.09,149.30 L984.78,150.39 L986.61,151.30 L988.56,152.03 L990.60,152.58 L992.72,152.93 L994.90,153.08 L997.12,153.04 L999.35,152.80 L1001.58,152.37 L1003.78,151.74 L1005.93,150.93 L1008.00,149.94 L1010.00,148.79 L1011.88,147.47 L1013.63,146.02 L1015.24,144.43 L1016.70,142.74 L1017.97,140.94 L1019.07,139.06 L1019.97,137.12 L1020.66,135.13 L1021.14,133.12 L1021.41,131.11 L1021.45,129.11 L1021.28,127.14 L1020.89,125.22 L1020.29,123.38 L1019.48,121.62 L1018.47,119.97 L1017.27,118.44Z" fill="#efdddd" stroke="#efd3d4" stroke-width="1.1"/>
<path d="M1071.44,116.97 L1069.91,115.74 L1068.22,114.66 L1066.40,113.76 L1064.45,113.04 L1062.42,112.50 L1060.30,112.16 L1058.12,112.01 L1055.91,112.07 L1053.67,112.32 L1051.45,112.76 L1049.25,113.40 L1047.10,114.22 L1045.01,115.21 L1043.02,116.38 L1041.13,117.70 L1039.37,119.16 L1037.75,120.75 L1036.29,122.45 L1035.00,124.26 L1033.89,126.14 L1032.99,128.08 L1032.28,130.07 L1031.79,132.08 L1031.51,134.09 L1031.45,136.10 L1031.62,138.06 L1031.99,139.97 L1032.58,141.82 L1033.38,143.57 L1034.39,145.21 L1035.58,146.74 L1036.95,148.13 L1038.48,149.36 L1040.17,150.44 L1041.99,151.34 L1043.93,152.06 L1045.97,152.60 L1048.09,152.94 L1050.27,153.09 L1052.48,153.03 L1054.72,152.78 L1056.94,152.34 L1059.14,151.70 L1061.29,150.88 L1063.38,149.89 L1065.37,148.72 L1067.26,147.40 L1069.02,145.94 L1070.64,144.35 L1072.10,142.65 L1073.39,140.84 L1074.49,138.96 L1075.40,137.02 L1076.11,135.03 L1076.60,133.02 L1076.88,131.01 L1076.93,129.00 L1076.77,127.04 L1076.40,125.13 L1075.80,123.28 L1075.00,121.53 L1074.00,119.89 L1072.81,118.36Z" fill="#eedada" stroke="#eed0d1" stroke-width="1.1"/>
<path d="M1125.59,118.17 L1123.93,116.80 L1122.12,115.59 L1120.19,114.53 L1118.17,113.65 L1116.06,112.95 L1113.89,112.44 L1111.68,112.13 L1109.44,112.01 L1107.22,112.09 L1105.01,112.36 L1102.85,112.83 L1100.76,113.49 L1098.75,114.34 L1096.85,115.36 L1095.07,116.54 L1093.43,117.88 L1091.95,119.36 L1090.63,120.97 L1089.51,122.69 L1088.57,124.50 L1087.84,126.39 L1087.32,128.34 L1087.01,130.33 L1086.93,132.34 L1087.06,134.36 L1087.41,136.36 L1087.97,138.32 L1088.75,140.22 L1089.72,142.05 L1090.89,143.79 L1092.23,145.42 L1093.75,146.93 L1095.42,148.30 L1097.23,149.51 L1099.15,150.57 L1101.18,151.45 L1103.29,152.15 L1105.46,152.66 L1107.67,152.97 L1109.90,153.09 L1112.13,153.01 L1114.33,152.74 L1116.49,152.27 L1118.59,151.61 L1120.59,150.76 L1122.50,149.74 L1124.28,148.56 L1125.92,147.22 L1127.40,145.74 L1128.71,144.13 L1129.84,142.41 L1130.77,140.60 L1131.50,138.71 L1132.02,136.76 L1132.33,134.77 L1132.42,132.76 L1132.29,130.74 L1131.94,128.74 L1131.37,126.78 L1130.60,124.88 L1129.62,123.05 L1128.46,121.31 L1127.11,119.68Z" fill="#fefefb" stroke="#fefdfa" stroke-width="1.1"/>
<path d="M1182.25,117.11 L1180.69,115.86 L1178.99,114.76 L1177.16,113.84 L1175.20,113.10 L1173.16,112.55 L1171.03,112.19 L1168.85,112.02 L1166.63,112.05 L1164.40,112.28 L1162.18,112.71 L1159.98,113.32 L1157.83,114.12 L1155.76,115.10 L1153.77,116.25 L1151.90,117.55 L1150.15,119.00 L1148.54,120.58 L1147.10,122.27 L1145.83,124.07 L1144.75,125.94 L1143.86,127.88 L1143.18,129.86 L1142.71,131.87 L1142.45,133.89 L1142.42,135.89 L1142.60,137.86 L1143.00,139.78 L1143.61,141.63 L1144.43,143.39 L1145.45,145.05 L1146.66,146.59 L1148.05,147.99 L1149.61,149.24 L1151.31,150.34 L1153.14,151.26 L1155.10,152.00 L1157.14,152.55 L1159.27,152.91 L1161.45,153.08 L1163.67,153.05 L1165.90,152.82 L1168.12,152.39 L1170.32,151.78 L1172.47,150.98 L1174.54,150.00 L1176.53,148.85 L1178.40,147.55 L1180.15,146.10 L1181.76,144.52 L1183.20,142.83 L1184.47,141.03 L1185.55,139.16 L1186.44,137.22 L1187.12,135.24 L1187.59,133.23 L1187.85,131.21 L1187.88,129.21 L1187.70,127.24 L1187.30,125.32 L1186.69,123.47 L1185.87,121.71 L1184.85,120.05 L1183.64,118.51Z" fill="#f0dfdf" stroke="#f0d6d7" stroke-width="1.1"/>
<path d="M1235.46,119.16 L1233.69,117.70 L1231.81,116.38 L1229.81,115.21 L1227.73,114.22 L1225.57,113.40 L1223.37,112.76 L1221.15,112.32 L1218.92,112.07 L1216.70,112.01 L1214.52,112.16 L1212.41,112.50 L1210.37,113.04 L1208.43,113.76 L1206.60,114.66 L1204.92,115.74 L1203.38,116.97 L1202.01,118.36 L1200.82,119.89 L1199.82,121.53 L1199.02,123.28 L1198.43,125.13 L1198.05,127.04 L1197.89,129.00 L1197.95,131.01 L1198.22,133.02 L1198.72,135.03 L1199.42,137.02 L1200.33,138.96 L1201.43,140.84 L1202.72,142.65 L1204.18,144.35 L1205.80,145.94 L1207.56,147.40 L1209.45,148.72 L1211.44,149.89 L1213.53,150.88 L1215.68,151.70 L1217.88,152.34 L1220.11,152.78 L1222.34,153.03 L1224.55,153.09 L1226.73,152.94 L1228.85,152.60 L1230.89,152.06 L1232.83,151.34 L1234.65,150.44 L1236.34,149.36 L1237.88,148.13 L1239.25,146.74 L1240.44,145.21 L1241.44,143.57 L1242.24,141.82 L1242.83,139.97 L1243.21,138.06 L1243.37,136.10 L1243.31,134.09 L1243.03,132.08 L1242.54,130.07 L1241.84,128.08 L1240.93,126.14 L1239.82,124.26 L1238.54,122.45 L1237.08,120.75Z" fill="#fbf4e2" stroke="#faf2dc" stroke-width="1.1"/>
<path d="M1292.82,117.46 L1291.23,116.16 L1289.49,115.03 L1287.62,114.06 L1285.64,113.27 L1283.57,112.67 L1281.43,112.26 L1279.24,112.04 L1277.02,112.03 L1274.78,112.20 L1272.56,112.58 L1270.38,113.15 L1268.25,113.90 L1266.19,114.84 L1264.24,115.94 L1262.39,117.21 L1260.68,118.62 L1259.11,120.17 L1257.71,121.83 L1256.49,123.60 L1255.46,125.46 L1254.62,127.38 L1253.99,129.35 L1253.58,131.36 L1253.38,133.37 L1253.40,135.38 L1253.64,137.36 L1254.09,139.29 L1254.76,141.16 L1255.63,142.95 L1256.70,144.64 L1257.96,146.21 L1259.39,147.64 L1260.98,148.94 L1262.72,150.07 L1264.59,151.04 L1266.57,151.83 L1268.64,152.43 L1270.78,152.84 L1272.97,153.06 L1275.19,153.07 L1277.43,152.90 L1279.65,152.52 L1281.83,151.95 L1283.96,151.20 L1286.02,150.26 L1287.98,149.16 L1289.82,147.89 L1291.53,146.48 L1293.10,144.93 L1294.50,143.27 L1295.72,141.50 L1296.75,139.64 L1297.59,137.72 L1298.22,135.75 L1298.63,133.74 L1298.83,131.73 L1298.81,129.72 L1298.57,127.74 L1298.12,125.81 L1297.45,123.94 L1296.58,122.15 L1295.51,120.46 L1294.25,118.89Z" fill="#f6ebeb" stroke="#f6e6e6" stroke-width="1.1"/>
<path d="M1347.34,118.32 L1345.66,116.94 L1343.84,115.70 L1341.90,114.63 L1339.87,113.73 L1337.75,113.02 L1335.57,112.49 L1333.36,112.15 L1331.13,112.01 L1328.90,112.07 L1326.70,112.33 L1324.55,112.78 L1322.46,113.42 L1320.46,114.24 L1318.57,115.25 L1316.80,116.41 L1315.18,117.74 L1313.72,119.20 L1312.42,120.80 L1311.31,122.51 L1310.40,124.31 L1309.69,126.20 L1309.19,128.14 L1308.91,130.13 L1308.84,132.14 L1309.00,134.15 L1309.37,136.15 L1309.95,138.12 L1310.75,140.03 L1311.74,141.87 L1312.93,143.62 L1314.29,145.26 L1315.82,146.78 L1317.51,148.16 L1319.33,149.40 L1321.26,150.47 L1323.30,151.37 L1325.42,152.08 L1327.59,152.61 L1329.81,152.95 L1332.04,153.09 L1334.27,153.03 L1336.47,152.77 L1338.62,152.32 L1340.71,151.68 L1342.70,150.86 L1344.60,149.85 L1346.36,148.69 L1347.99,147.36 L1349.45,145.90 L1350.74,144.30 L1351.85,142.59 L1352.77,140.79 L1353.48,138.90 L1353.98,136.96 L1354.26,134.97 L1354.32,132.96 L1354.17,130.95 L1353.80,128.95 L1353.21,126.98 L1352.42,125.07 L1351.42,123.23 L1350.24,121.48 L1348.87,119.84Z" fill="#fefcf7" stroke="#fefcf6" stroke-width="1.1"/>
<path d="M1404.53,116.77 L1403.02,115.56 L1401.36,114.51 L1399.55,113.63 L1397.63,112.94 L1395.60,112.44 L1393.50,112.12 L1391.33,112.01 L1389.12,112.09 L1386.89,112.37 L1384.66,112.85 L1382.45,113.51 L1380.29,114.36 L1378.20,115.38 L1376.18,116.57 L1374.28,117.91 L1372.50,119.40 L1370.85,121.01 L1369.37,122.73 L1368.05,124.54 L1366.92,126.44 L1365.98,128.39 L1365.24,130.38 L1364.72,132.39 L1364.41,134.41 L1364.32,136.40 L1364.44,138.36 L1364.79,140.26 L1365.35,142.09 L1366.11,143.83 L1367.08,145.46 L1368.25,146.96 L1369.59,148.33 L1371.10,149.54 L1372.77,150.59 L1374.57,151.47 L1376.49,152.16 L1378.52,152.66 L1380.63,152.98 L1382.80,153.09 L1385.01,153.01 L1387.24,152.73 L1389.46,152.25 L1391.67,151.59 L1393.83,150.74 L1395.93,149.72 L1397.94,148.53 L1399.84,147.19 L1401.63,145.70 L1403.27,144.09 L1404.75,142.37 L1406.07,140.56 L1407.20,138.66 L1408.14,136.71 L1408.88,134.72 L1409.40,132.71 L1409.71,130.69 L1409.81,128.70 L1409.68,126.74 L1409.34,124.84 L1408.78,123.01 L1408.01,121.27 L1407.04,119.64 L1405.88,118.14Z" fill="#ead3d3" stroke="#ebc6c7" stroke-width="1.1"/>
<path d="M959.48,167.98 L957.84,166.64 L956.06,165.46 L954.16,164.44 L952.15,163.59 L950.06,162.93 L947.90,162.46 L945.69,162.19 L943.47,162.11 L941.24,162.23 L939.02,162.54 L936.85,163.05 L934.75,163.75 L932.72,164.63 L930.79,165.69 L928.99,166.90 L927.32,168.27 L925.80,169.78 L924.45,171.41 L923.29,173.15 L922.31,174.98 L921.54,176.88 L920.98,178.84 L920.63,180.84 L920.49,182.86 L920.58,184.87 L920.89,186.86 L921.41,188.81 L922.14,190.70 L923.07,192.51 L924.20,194.23 L925.51,195.84 L927.00,197.32 L928.63,198.66 L930.41,199.84 L932.32,200.86 L934.32,201.71 L936.42,202.37 L938.58,202.84 L940.78,203.11 L943.01,203.19 L945.24,203.07 L947.45,202.76 L949.62,202.25 L951.73,201.55 L953.76,200.67 L955.69,199.61 L957.49,198.40 L959.16,197.03 L960.68,195.52 L962.02,193.89 L963.19,192.15 L964.17,190.32 L964.94,188.42 L965.50,186.46 L965.85,184.46 L965.98,182.44 L965.90,180.43 L965.59,178.44 L965.07,176.49 L964.34,174.60 L963.41,172.79 L962.28,171.07 L960.97,169.46Z" fill="#fdfafa" stroke="#fdf9f9" stroke-width="1.1"/>
<path d="M1014.56,168.34 L1012.88,166.97 L1011.07,165.74 L1009.14,164.68 L1007.10,163.79 L1004.99,163.09 L1002.82,162.57 L1000.61,162.24 L998.38,162.11 L996.15,162.18 L993.94,162.45 L991.79,162.91 L989.70,163.56 L987.69,164.39 L985.80,165.40 L984.02,166.58 L982.39,167.91 L980.92,169.38 L979.62,170.98 L978.50,172.70 L977.57,174.51 L976.85,176.39 L976.34,178.34 L976.05,180.33 L975.97,182.34 L976.12,184.36 L976.48,186.35 L977.05,188.32 L977.84,190.23 L978.82,192.06 L980.00,193.80 L981.35,195.44 L982.88,196.96 L984.55,198.33 L986.36,199.56 L988.30,200.62 L990.33,201.51 L992.44,202.21 L994.61,202.73 L996.83,203.06 L999.06,203.19 L1001.29,203.12 L1003.49,202.85 L1005.65,202.39 L1007.74,201.74 L1009.74,200.91 L1011.64,199.90 L1013.41,198.72 L1015.04,197.39 L1016.51,195.92 L1017.82,194.32 L1018.94,192.60 L1019.86,190.79 L1020.58,188.91 L1021.09,186.96 L1021.38,184.97 L1021.46,182.96 L1021.32,180.94 L1020.96,178.95 L1020.38,176.98 L1019.60,175.07 L1018.61,173.24 L1017.44,171.50 L1016.08,169.86Z" fill="#fefdf9" stroke="#fefcf8" stroke-width="1.1"/>
<path d="M1070.36,168.05 L1068.71,166.71 L1066.93,165.51 L1065.02,164.49 L1063.00,163.63 L1060.91,162.96 L1058.74,162.48 L1056.54,162.20 L1054.31,162.11 L1052.08,162.22 L1049.87,162.52 L1047.70,163.02 L1045.60,163.71 L1043.57,164.58 L1041.65,165.63 L1039.85,166.84 L1038.19,168.20 L1036.68,169.70 L1035.35,171.32 L1034.19,173.06 L1033.22,174.88 L1032.46,176.79 L1031.91,178.74 L1031.57,180.74 L1031.45,182.75 L1031.55,184.77 L1031.86,186.76 L1032.40,188.71 L1033.14,190.61 L1034.08,192.42 L1035.22,194.15 L1036.54,195.76 L1038.03,197.25 L1039.68,198.59 L1041.46,199.79 L1043.37,200.81 L1045.39,201.67 L1047.48,202.34 L1049.65,202.82 L1051.85,203.10 L1054.08,203.19 L1056.31,203.08 L1058.52,202.78 L1060.69,202.28 L1062.79,201.59 L1064.82,200.72 L1066.74,199.67 L1068.54,198.46 L1070.20,197.10 L1071.70,195.60 L1073.04,193.98 L1074.20,192.24 L1075.17,190.42 L1075.93,188.51 L1076.48,186.56 L1076.82,184.56 L1076.94,182.55 L1076.84,180.53 L1076.53,178.54 L1075.99,176.59 L1075.25,174.69 L1074.31,172.88 L1073.17,171.15 L1071.85,169.54Z" fill="#fefdfd" stroke="#fefcfc" stroke-width="1.1"/>
<path d="M1127.44,166.61 L1125.96,165.43 L1124.32,164.41 L1122.55,163.57 L1120.65,162.92 L1118.64,162.45 L1116.55,162.18 L1114.39,162.11 L1112.19,162.24 L1109.96,162.56 L1107.73,163.07 L1105.52,163.77 L1103.35,164.66 L1101.24,165.72 L1099.21,166.94 L1097.28,168.31 L1095.47,169.82 L1093.79,171.46 L1092.27,173.20 L1090.92,175.03 L1089.75,176.94 L1088.77,178.90 L1087.99,180.90 L1087.42,182.91 L1087.07,184.92 L1086.93,186.91 L1087.01,188.86 L1087.31,190.75 L1087.82,192.56 L1088.55,194.28 L1089.48,195.88 L1090.60,197.36 L1091.91,198.69 L1093.38,199.87 L1095.02,200.89 L1096.80,201.73 L1098.70,202.38 L1100.70,202.85 L1102.79,203.12 L1104.95,203.19 L1107.15,203.06 L1109.38,202.74 L1111.61,202.23 L1113.83,201.53 L1116.00,200.64 L1118.11,199.58 L1120.14,198.36 L1122.07,196.99 L1123.88,195.48 L1125.55,193.84 L1127.07,192.10 L1128.42,190.27 L1129.59,188.36 L1130.57,186.40 L1131.35,184.40 L1131.92,182.39 L1132.28,180.38 L1132.42,178.39 L1132.34,176.44 L1132.04,174.55 L1131.52,172.74 L1130.80,171.02 L1129.87,169.42 L1128.74,167.94Z" fill="#e5c9c9" stroke="#e6babb" stroke-width="1.1"/>
<path d="M1182.25,167.21 L1180.69,165.96 L1178.99,164.86 L1177.16,163.94 L1175.20,163.20 L1173.16,162.65 L1171.03,162.29 L1168.85,162.12 L1166.63,162.15 L1164.40,162.38 L1162.18,162.81 L1159.98,163.42 L1157.83,164.22 L1155.76,165.20 L1153.77,166.35 L1151.90,167.65 L1150.15,169.10 L1148.54,170.68 L1147.10,172.37 L1145.83,174.17 L1144.75,176.04 L1143.86,177.98 L1143.18,179.96 L1142.71,181.97 L1142.45,183.99 L1142.42,185.99 L1142.60,187.96 L1143.00,189.88 L1143.61,191.73 L1144.43,193.49 L1145.45,195.15 L1146.66,196.69 L1148.05,198.09 L1149.61,199.34 L1151.31,200.44 L1153.14,201.36 L1155.10,202.10 L1157.14,202.65 L1159.27,203.01 L1161.45,203.18 L1163.67,203.15 L1165.90,202.92 L1168.12,202.49 L1170.32,201.88 L1172.47,201.08 L1174.54,200.10 L1176.53,198.95 L1178.40,197.65 L1180.15,196.20 L1181.76,194.62 L1183.20,192.93 L1184.47,191.13 L1185.55,189.26 L1186.44,187.32 L1187.12,185.34 L1187.59,183.33 L1187.85,181.31 L1187.88,179.31 L1187.70,177.34 L1187.30,175.42 L1186.69,173.57 L1185.87,171.81 L1184.85,170.15 L1183.64,168.61Z" fill="#f0dfdf" stroke="#f0d6d7" stroke-width="1.1"/>
<path d="M1237.88,167.07 L1236.34,165.84 L1234.65,164.76 L1232.83,163.86 L1230.89,163.14 L1228.85,162.60 L1226.73,162.26 L1224.55,162.11 L1222.34,162.17 L1220.11,162.42 L1217.88,162.86 L1215.68,163.50 L1213.53,164.32 L1211.44,165.31 L1209.45,166.48 L1207.56,167.80 L1205.80,169.26 L1204.18,170.85 L1202.72,172.55 L1201.43,174.36 L1200.33,176.24 L1199.42,178.18 L1198.72,180.17 L1198.22,182.18 L1197.95,184.19 L1197.89,186.20 L1198.05,188.16 L1198.43,190.07 L1199.02,191.92 L1199.82,193.67 L1200.82,195.31 L1202.01,196.84 L1203.38,198.23 L1204.92,199.46 L1206.60,200.54 L1208.43,201.44 L1210.37,202.16 L1212.41,202.70 L1214.52,203.04 L1216.70,203.19 L1218.92,203.13 L1221.15,202.88 L1223.37,202.44 L1225.57,201.80 L1227.73,200.98 L1229.81,199.99 L1231.81,198.82 L1233.69,197.50 L1235.46,196.04 L1237.08,194.45 L1238.54,192.75 L1239.82,190.94 L1240.93,189.06 L1241.84,187.12 L1242.54,185.13 L1243.03,183.12 L1243.31,181.11 L1243.37,179.10 L1243.21,177.14 L1242.83,175.23 L1242.24,173.38 L1241.44,171.63 L1240.44,169.99 L1239.25,168.46Z" fill="#eedada" stroke="#eed0d1" stroke-width="1.1"/>
<path d="M1347.83,167.98 L1346.19,166.64 L1344.41,165.46 L1342.51,164.44 L1340.50,163.59 L1338.40,162.93 L1336.24,162.46 L1334.04,162.19 L1331.81,162.11 L1329.58,162.23 L1327.37,162.54 L1325.20,163.05 L1323.09,163.75 L1321.06,164.63 L1319.14,165.69 L1317.33,166.90 L1315.66,168.27 L1314.15,169.78 L1312.80,171.41 L1311.63,173.15 L1310.66,174.98 L1309.88,176.88 L1309.32,178.84 L1308.97,180.84 L1308.84,182.86 L1308.93,184.87 L1309.23,186.86 L1309.75,188.81 L1310.48,190.70 L1311.42,192.51 L1312.55,194.23 L1313.86,195.84 L1315.34,197.32 L1316.98,198.66 L1318.76,199.84 L1320.66,200.86 L1322.67,201.71 L1324.76,202.37 L1326.92,202.84 L1329.13,203.11 L1331.36,203.19 L1333.59,203.07 L1335.80,202.76 L1337.97,202.25 L1340.08,201.55 L1342.10,200.67 L1344.03,199.61 L1345.84,198.40 L1347.51,197.03 L1349.02,195.52 L1350.37,193.89 L1351.54,192.15 L1352.51,190.32 L1353.28,188.42 L1353.85,186.46 L1354.20,184.46 L1354.33,182.44 L1354.24,180.43 L1353.94,178.44 L1353.41,176.49 L1352.68,174.60 L1351.75,172.79 L1350.62,171.07 L1349.31,169.46Z" fill="#fdfafa" stroke="#fdf9f9" stroke-width="1.1"/>
<path d="M1403.30,167.98 L1401.67,166.64 L1399.89,165.46 L1397.98,164.44 L1395.98,163.59 L1393.88,162.93 L1391.72,162.46 L1389.52,162.19 L1387.29,162.11 L1385.06,162.23 L1382.85,162.54 L1380.68,163.05 L1378.57,163.75 L1376.54,164.63 L1374.61,165.69 L1372.81,166.90 L1371.14,168.27 L1369.62,169.78 L1368.28,171.41 L1367.11,173.15 L1366.13,174.98 L1365.36,176.88 L1364.80,178.84 L1364.45,180.84 L1364.32,182.86 L1364.40,184.87 L1364.71,186.86 L1365.23,188.81 L1365.96,190.70 L1366.89,192.51 L1368.02,194.23 L1369.33,195.84 L1370.82,197.32 L1372.46,198.66 L1374.24,199.84 L1376.14,200.86 L1378.15,201.71 L1380.24,202.37 L1382.40,202.84 L1384.61,203.11 L1386.83,203.19 L1389.06,203.07 L1391.28,202.76 L1393.45,202.25 L1395.55,201.55 L1397.58,200.67 L1399.51,199.61 L1401.31,198.40 L1402.98,197.03 L1404.50,195.52 L1405.85,193.89 L1407.01,192.15 L1407.99,190.32 L1408.76,188.42 L1409.32,186.46 L1409.67,184.46 L1409.81,182.44 L1409.72,180.43 L1409.41,178.44 L1408.89,176.49 L1408.16,174.60 L1407.23,172.79 L1406.10,171.07 L1404.79,169.46Z" fill="#fdfafa" stroke="#fdf9f9" stroke-width="1.1"/>
<path d="M960.71,216.97 L959.20,215.76 L957.53,214.71 L955.73,213.83 L953.81,213.14 L951.78,212.64 L949.67,212.32 L947.50,212.21 L945.29,212.29 L943.06,212.57 L940.84,213.05 L938.63,213.71 L936.47,214.56 L934.37,215.58 L932.36,216.77 L930.46,218.11 L928.67,219.60 L927.03,221.21 L925.55,222.93 L924.23,224.74 L923.10,226.64 L922.16,228.59 L921.42,230.58 L920.90,232.59 L920.59,234.61 L920.49,236.60 L920.62,238.56 L920.96,240.46 L921.52,242.29 L922.29,244.03 L923.26,245.66 L924.42,247.16 L925.77,248.53 L927.28,249.74 L928.94,250.79 L930.75,251.67 L932.67,252.36 L934.70,252.86 L936.80,253.18 L938.97,253.29 L941.18,253.21 L943.41,252.93 L945.64,252.45 L947.85,251.79 L950.01,250.94 L952.10,249.92 L954.12,248.73 L956.02,247.39 L957.80,245.90 L959.45,244.29 L960.93,242.57 L962.25,240.76 L963.38,238.86 L964.32,236.91 L965.06,234.92 L965.58,232.91 L965.89,230.89 L965.98,228.90 L965.86,226.94 L965.51,225.04 L964.95,223.21 L964.19,221.47 L963.22,219.84 L962.05,218.34Z" fill="#ead3d3" stroke="#ebc6c7" stroke-width="1.1"/>
<path d="M1014.72,218.30 L1013.06,216.94 L1011.26,215.73 L1009.34,214.68 L1007.32,213.81 L1005.21,213.12 L1003.04,212.62 L1000.83,212.32 L998.60,212.21 L996.37,212.30 L994.17,212.58 L992.01,213.06 L989.91,213.73 L987.89,214.59 L985.99,215.61 L984.20,216.81 L982.55,218.15 L981.06,219.64 L979.74,221.25 L978.60,222.98 L977.66,224.79 L976.92,226.69 L976.39,228.64 L976.07,230.63 L975.97,232.65 L976.09,234.66 L976.43,236.66 L976.98,238.61 L977.75,240.52 L978.71,242.34 L979.87,244.08 L981.21,245.70 L982.71,247.20 L984.37,248.56 L986.17,249.77 L988.09,250.82 L990.12,251.69 L992.22,252.38 L994.39,252.88 L996.60,253.18 L998.83,253.29 L1001.06,253.20 L1003.27,252.92 L1005.43,252.44 L1007.53,251.77 L1009.54,250.91 L1011.45,249.89 L1013.23,248.69 L1014.88,247.35 L1016.37,245.86 L1017.69,244.25 L1018.83,242.52 L1019.77,240.71 L1020.52,238.81 L1021.05,236.86 L1021.36,234.87 L1021.46,232.85 L1021.34,230.84 L1021.00,228.84 L1020.45,226.89 L1019.69,224.98 L1018.72,223.16 L1017.57,221.42 L1016.23,219.80Z" fill="#fffefd" stroke="#fffefd" stroke-width="1.1"/>
<path d="M1070.83,217.73 L1069.23,216.42 L1067.49,215.28 L1065.61,214.31 L1063.63,213.51 L1061.56,212.90 L1059.41,212.48 L1057.22,212.25 L1054.99,212.22 L1052.76,212.39 L1050.54,212.76 L1048.36,213.31 L1046.23,214.06 L1044.18,214.98 L1042.23,216.08 L1040.39,217.34 L1038.68,218.74 L1037.13,220.28 L1035.74,221.94 L1034.52,223.71 L1033.50,225.56 L1032.67,227.48 L1032.05,229.45 L1031.65,231.45 L1031.46,233.47 L1031.49,235.48 L1031.74,237.46 L1032.21,239.40 L1032.89,241.27 L1033.77,243.06 L1034.85,244.75 L1036.12,246.33 L1037.56,247.77 L1039.16,249.08 L1040.90,250.22 L1042.78,251.19 L1044.76,251.99 L1046.83,252.60 L1048.98,253.02 L1051.17,253.25 L1053.40,253.28 L1055.63,253.11 L1057.85,252.74 L1060.03,252.19 L1062.16,251.44 L1064.21,250.52 L1066.16,249.42 L1068.00,248.16 L1069.71,246.76 L1071.26,245.22 L1072.65,243.56 L1073.87,241.79 L1074.89,239.94 L1075.72,238.02 L1076.33,236.05 L1076.74,234.05 L1076.93,232.03 L1076.89,230.02 L1076.65,228.04 L1076.18,226.10 L1075.50,224.23 L1074.62,222.44 L1073.54,220.75 L1072.27,219.17Z" fill="#f7eeee" stroke="#f7e9e9" stroke-width="1.1"/>
<path d="M1124.67,219.20 L1122.93,217.75 L1121.05,216.45 L1119.07,215.30 L1116.99,214.32 L1114.84,213.52 L1112.65,212.91 L1110.42,212.48 L1108.19,212.25 L1105.97,212.22 L1103.79,212.39 L1101.67,212.75 L1099.62,213.30 L1097.67,214.04 L1095.83,214.96 L1094.13,216.06 L1092.57,217.31 L1091.19,218.71 L1089.98,220.25 L1088.96,221.91 L1088.14,223.67 L1087.52,225.52 L1087.12,227.44 L1086.94,229.41 L1086.97,231.41 L1087.23,233.43 L1087.70,235.44 L1088.38,237.42 L1089.27,239.36 L1090.35,241.23 L1091.62,243.03 L1093.07,244.72 L1094.67,246.30 L1096.42,247.75 L1098.29,249.05 L1100.28,250.20 L1102.36,251.18 L1104.50,251.98 L1106.70,252.59 L1108.92,253.02 L1111.15,253.25 L1113.37,253.28 L1115.55,253.11 L1117.68,252.75 L1119.73,252.20 L1121.68,251.46 L1123.51,250.54 L1125.22,249.44 L1126.77,248.19 L1128.16,246.79 L1129.37,245.25 L1130.39,243.59 L1131.21,241.83 L1131.82,239.98 L1132.22,238.06 L1132.41,236.09 L1132.37,234.09 L1132.12,232.07 L1131.64,230.06 L1130.96,228.08 L1130.08,226.14 L1128.99,224.27 L1127.72,222.47 L1126.28,220.78Z" fill="#fcf6e6" stroke="#fbf4e1" stroke-width="1.1"/>
<path d="M1179.35,219.92 L1177.55,218.41 L1175.62,217.04 L1173.59,215.82 L1171.48,214.76 L1169.30,213.87 L1167.09,213.17 L1164.86,212.66 L1162.63,212.34 L1160.43,212.21 L1158.27,212.28 L1156.18,212.55 L1154.17,213.02 L1152.27,213.67 L1150.50,214.51 L1148.86,215.53 L1147.38,216.71 L1146.08,218.04 L1144.96,219.52 L1144.03,221.12 L1143.30,222.84 L1142.79,224.65 L1142.49,226.54 L1142.41,228.49 L1142.54,230.48 L1142.90,232.49 L1143.47,234.50 L1144.25,236.50 L1145.23,238.46 L1146.40,240.37 L1147.75,242.20 L1149.27,243.94 L1150.95,245.58 L1152.75,247.09 L1154.68,248.46 L1156.71,249.68 L1158.82,250.74 L1161.00,251.63 L1163.21,252.33 L1165.44,252.84 L1167.67,253.16 L1169.87,253.29 L1172.03,253.22 L1174.12,252.95 L1176.13,252.48 L1178.03,251.83 L1179.80,250.99 L1181.44,249.97 L1182.92,248.79 L1184.22,247.46 L1185.34,245.98 L1186.27,244.38 L1187.00,242.66 L1187.51,240.85 L1187.81,238.96 L1187.89,237.01 L1187.76,235.02 L1187.40,233.01 L1186.83,231.00 L1186.05,229.00 L1185.07,227.04 L1183.90,225.13 L1182.55,223.30 L1181.03,221.56Z" fill="#faf0d5" stroke="#f9edce" stroke-width="1.1"/>
<path d="M1236.05,218.82 L1234.34,217.41 L1232.50,216.14 L1230.54,215.04 L1228.48,214.10 L1226.35,213.35 L1224.17,212.78 L1221.95,212.40 L1219.72,212.23 L1217.49,212.24 L1215.30,212.46 L1213.16,212.87 L1211.09,213.47 L1209.11,214.26 L1207.24,215.23 L1205.51,216.36 L1203.91,217.66 L1202.48,219.09 L1201.22,220.66 L1200.15,222.35 L1199.28,224.14 L1198.61,226.01 L1198.16,227.94 L1197.92,229.92 L1197.90,231.93 L1198.10,233.94 L1198.51,235.95 L1199.14,237.92 L1199.98,239.84 L1201.01,241.70 L1202.24,243.47 L1203.64,245.13 L1205.20,246.68 L1206.91,248.09 L1208.76,249.36 L1210.72,250.46 L1212.77,251.40 L1214.90,252.15 L1217.09,252.72 L1219.31,253.10 L1221.54,253.27 L1223.76,253.26 L1225.95,253.04 L1228.10,252.63 L1230.17,252.03 L1232.14,251.24 L1234.01,250.27 L1235.75,249.14 L1237.34,247.84 L1238.77,246.41 L1240.03,244.84 L1241.10,243.15 L1241.97,241.36 L1242.64,239.49 L1243.10,237.56 L1243.34,235.58 L1243.36,233.57 L1243.16,231.56 L1242.74,229.55 L1242.11,227.58 L1241.28,225.66 L1240.24,223.80 L1239.02,222.03 L1237.62,220.37Z" fill="#fdf9ef" stroke="#fdf8ec" stroke-width="1.1"/>
<path d="M1289.75,220.43 L1287.90,218.87 L1285.94,217.46 L1283.88,216.19 L1281.75,215.07 L1279.56,214.13 L1277.34,213.37 L1275.11,212.80 L1272.89,212.42 L1270.70,212.23 L1268.56,212.24 L1266.49,212.45 L1264.52,212.85 L1262.65,213.45 L1260.92,214.23 L1259.33,215.19 L1257.91,216.32 L1256.66,217.60 L1255.60,219.04 L1254.73,220.60 L1254.07,222.28 L1253.62,224.07 L1253.39,225.93 L1253.38,227.87 L1253.59,229.85 L1254.01,231.85 L1254.65,233.87 L1255.49,235.87 L1256.53,237.85 L1257.76,239.77 L1259.17,241.63 L1260.74,243.40 L1262.46,245.07 L1264.31,246.63 L1266.27,248.04 L1268.33,249.31 L1270.46,250.43 L1272.65,251.37 L1274.87,252.13 L1277.10,252.70 L1279.32,253.08 L1281.51,253.27 L1283.65,253.26 L1285.72,253.05 L1287.69,252.65 L1289.56,252.05 L1291.29,251.27 L1292.88,250.31 L1294.30,249.18 L1295.55,247.90 L1296.62,246.46 L1297.48,244.90 L1298.14,243.22 L1298.59,241.43 L1298.82,239.57 L1298.83,237.63 L1298.62,235.65 L1298.20,233.65 L1297.56,231.63 L1296.72,229.63 L1295.68,227.65 L1294.45,225.73 L1293.04,223.87 L1291.47,222.10Z" fill="#f8eccc" stroke="#f7e9c4" stroke-width="1.1"/>
<path d="M1346.76,219.05 L1345.02,217.61 L1343.16,216.33 L1341.18,215.20 L1339.12,214.23 L1336.98,213.45 L1334.79,212.86 L1332.56,212.45 L1330.33,212.24 L1328.11,212.23 L1325.92,212.41 L1323.79,212.79 L1321.73,213.37 L1319.77,214.13 L1317.92,215.07 L1316.21,216.18 L1314.64,217.45 L1313.23,218.86 L1312.00,220.41 L1310.96,222.08 L1310.12,223.86 L1309.49,225.71 L1309.06,227.64 L1308.86,229.61 L1308.87,231.62 L1309.10,233.63 L1309.55,235.64 L1310.21,237.62 L1311.08,239.55 L1312.14,241.42 L1313.40,243.20 L1314.82,244.89 L1316.41,246.45 L1318.14,247.89 L1320.01,249.17 L1321.98,250.30 L1324.05,251.27 L1326.19,252.05 L1328.38,252.64 L1330.60,253.05 L1332.84,253.26 L1335.06,253.27 L1337.24,253.09 L1339.38,252.71 L1341.43,252.13 L1343.39,251.37 L1345.24,250.43 L1346.96,249.32 L1348.53,248.05 L1349.93,246.64 L1351.16,245.09 L1352.20,243.42 L1353.05,241.64 L1353.68,239.79 L1354.10,237.86 L1354.31,235.89 L1354.29,233.88 L1354.06,231.87 L1353.61,229.86 L1352.95,227.88 L1352.09,225.95 L1351.02,224.08 L1349.77,222.30 L1348.34,220.61Z" fill="#fcf7ea" stroke="#fcf6e5" stroke-width="1.1"/>
<path d="M1401.08,220.09 L1399.26,218.56 L1397.32,217.18 L1395.28,215.94 L1393.16,214.86 L1390.98,213.96 L1388.77,213.24 L1386.54,212.70 L1384.31,212.36 L1382.11,212.21 L1379.96,212.27 L1377.88,212.52 L1375.88,212.96 L1373.99,213.60 L1372.23,214.42 L1370.61,215.41 L1369.15,216.58 L1367.86,217.90 L1366.76,219.36 L1365.85,220.95 L1365.15,222.65 L1364.66,224.45 L1364.38,226.34 L1364.32,228.28 L1364.48,230.27 L1364.86,232.28 L1365.45,234.29 L1366.25,236.29 L1367.25,238.26 L1368.44,240.17 L1369.81,242.01 L1371.35,243.77 L1373.04,245.41 L1374.86,246.94 L1376.80,248.32 L1378.84,249.56 L1380.96,250.64 L1383.14,251.54 L1385.35,252.26 L1387.58,252.80 L1389.81,253.14 L1392.01,253.29 L1394.16,253.23 L1396.25,252.98 L1398.24,252.54 L1400.13,251.90 L1401.89,251.08 L1403.51,250.09 L1404.97,248.92 L1406.26,247.60 L1407.36,246.14 L1408.27,244.55 L1408.97,242.85 L1409.47,241.05 L1409.74,239.16 L1409.80,237.22 L1409.64,235.23 L1409.26,233.22 L1408.67,231.21 L1407.87,229.21 L1406.87,227.24 L1405.68,225.33 L1404.31,223.49 L1402.77,221.73Z" fill="#f9efd2" stroke="#f8eccb" stroke-width="1.1"/>
<path d="M959.64,268.04 L958.02,266.71 L956.25,265.55 L954.36,264.54 L952.36,263.72 L950.28,263.08 L948.12,262.63 L945.92,262.37 L943.69,262.31 L941.46,262.45 L939.25,262.79 L937.07,263.32 L934.96,264.03 L932.92,264.93 L930.98,266.00 L929.16,267.24 L927.48,268.62 L925.95,270.14 L924.58,271.78 L923.40,273.53 L922.40,275.37 L921.61,277.28 L921.02,279.25 L920.65,281.25 L920.50,283.26 L920.56,285.27 L920.85,287.26 L921.34,289.20 L922.05,291.09 L922.97,292.89 L924.08,294.60 L925.37,296.20 L926.84,297.66 L928.46,298.99 L930.23,300.15 L932.12,301.16 L934.12,301.98 L936.20,302.62 L938.36,303.07 L940.56,303.33 L942.78,303.39 L945.02,303.25 L947.23,302.91 L949.40,302.38 L951.52,301.67 L953.56,300.77 L955.49,299.70 L957.31,298.46 L959.00,297.08 L960.53,295.56 L961.89,293.92 L963.08,292.17 L964.08,290.33 L964.87,288.42 L965.45,286.45 L965.83,284.45 L965.98,282.44 L965.92,280.43 L965.63,278.44 L965.13,276.50 L964.42,274.61 L963.51,272.81 L962.40,271.10 L961.11,269.50Z" fill="#faf5f5" stroke="#fbf2f3" stroke-width="1.1"/>
<path d="M1014.14,268.92 L1012.43,267.51 L1010.59,266.24 L1008.63,265.14 L1006.57,264.20 L1004.44,263.45 L1002.26,262.88 L1000.04,262.50 L997.81,262.33 L995.58,262.34 L993.39,262.56 L991.25,262.97 L989.18,263.57 L987.20,264.36 L985.33,265.33 L983.59,266.46 L982.00,267.76 L980.57,269.19 L979.31,270.76 L978.24,272.45 L977.37,274.24 L976.70,276.11 L976.25,278.04 L976.01,280.02 L975.99,282.03 L976.19,284.04 L976.60,286.05 L977.23,288.02 L978.07,289.94 L979.10,291.80 L980.33,293.57 L981.73,295.23 L983.29,296.78 L985.00,298.19 L986.85,299.46 L988.81,300.56 L990.86,301.50 L992.99,302.25 L995.18,302.82 L997.40,303.20 L999.63,303.37 L1001.85,303.36 L1004.04,303.14 L1006.19,302.73 L1008.26,302.13 L1010.23,301.34 L1012.10,300.37 L1013.84,299.24 L1015.43,297.94 L1016.86,296.51 L1018.12,294.94 L1019.19,293.25 L1020.06,291.46 L1020.73,289.59 L1021.19,287.66 L1021.42,285.68 L1021.44,283.67 L1021.25,281.66 L1020.83,279.65 L1020.20,277.68 L1019.37,275.76 L1018.33,273.90 L1017.11,272.13 L1015.71,270.47Z" fill="#fdf9ef" stroke="#fdf8ec" stroke-width="1.1"/>
<path d="M1070.20,268.40 L1068.54,267.04 L1066.74,265.83 L1064.82,264.78 L1062.79,263.91 L1060.69,263.22 L1058.52,262.72 L1056.31,262.42 L1054.08,262.31 L1051.85,262.40 L1049.65,262.68 L1047.48,263.16 L1045.39,263.83 L1043.37,264.69 L1041.46,265.71 L1039.68,266.91 L1038.03,268.25 L1036.54,269.74 L1035.22,271.35 L1034.08,273.08 L1033.14,274.89 L1032.40,276.79 L1031.86,278.74 L1031.55,280.73 L1031.45,282.75 L1031.57,284.76 L1031.91,286.76 L1032.46,288.71 L1033.22,290.62 L1034.19,292.44 L1035.35,294.18 L1036.68,295.80 L1038.19,297.30 L1039.85,298.66 L1041.65,299.87 L1043.57,300.92 L1045.60,301.79 L1047.70,302.48 L1049.87,302.98 L1052.08,303.28 L1054.31,303.39 L1056.54,303.30 L1058.74,303.02 L1060.91,302.54 L1063.00,301.87 L1065.02,301.01 L1066.93,299.99 L1068.71,298.79 L1070.36,297.45 L1071.85,295.96 L1073.17,294.35 L1074.31,292.62 L1075.25,290.81 L1075.99,288.91 L1076.53,286.96 L1076.84,284.97 L1076.94,282.95 L1076.82,280.94 L1076.48,278.94 L1075.93,276.99 L1075.17,275.08 L1074.20,273.26 L1073.04,271.52 L1071.70,269.90Z" fill="#fffefd" stroke="#fffefd" stroke-width="1.1"/>
<path d="M1128.57,265.79 L1127.23,264.75 L1125.73,263.88 L1124.08,263.20 L1122.28,262.71 L1120.37,262.41 L1118.35,262.31 L1116.24,262.41 L1114.08,262.70 L1111.87,263.18 L1109.64,263.86 L1107.41,264.72 L1105.20,265.75 L1103.04,266.95 L1100.94,268.30 L1098.92,269.80 L1097.01,271.41 L1095.22,273.14 L1093.57,274.96 L1092.07,276.86 L1090.74,278.81 L1089.60,280.81 L1088.65,282.82 L1087.90,284.83 L1087.36,286.83 L1087.03,288.78 L1086.93,290.68 L1087.04,292.51 L1087.37,294.24 L1087.92,295.86 L1088.67,297.35 L1089.63,298.71 L1090.78,299.91 L1092.11,300.95 L1093.61,301.82 L1095.27,302.50 L1097.06,302.99 L1098.98,303.29 L1101.00,303.39 L1103.10,303.29 L1105.27,303.00 L1107.48,302.52 L1109.71,301.84 L1111.93,300.98 L1114.14,299.95 L1116.31,298.75 L1118.41,297.40 L1120.42,295.90 L1122.34,294.29 L1124.13,292.56 L1125.78,290.74 L1127.28,288.84 L1128.60,286.89 L1129.75,284.89 L1130.70,282.88 L1131.45,280.87 L1131.99,278.87 L1132.31,276.92 L1132.42,275.02 L1132.31,273.19 L1131.97,271.46 L1131.43,269.84 L1130.67,268.35 L1129.72,266.99Z" fill="#d3a2a2" stroke="#d5878a" stroke-width="1.1"/>
<path d="M1181.55,268.04 L1179.93,266.71 L1178.16,265.55 L1176.27,264.54 L1174.27,263.72 L1172.19,263.08 L1170.03,262.63 L1167.83,262.37 L1165.61,262.31 L1163.37,262.45 L1161.16,262.79 L1158.98,263.32 L1156.87,264.03 L1154.83,264.93 L1152.89,266.00 L1151.07,267.24 L1149.39,268.62 L1147.86,270.14 L1146.49,271.78 L1145.31,273.53 L1144.31,275.37 L1143.52,277.28 L1142.93,279.25 L1142.56,281.25 L1142.41,283.26 L1142.47,285.27 L1142.76,287.26 L1143.26,289.20 L1143.97,291.09 L1144.88,292.89 L1145.99,294.60 L1147.28,296.20 L1148.75,297.66 L1150.37,298.99 L1152.14,300.15 L1154.03,301.16 L1156.03,301.98 L1158.11,302.62 L1160.27,303.07 L1162.47,303.33 L1164.69,303.39 L1166.93,303.25 L1169.14,302.91 L1171.32,302.38 L1173.43,301.67 L1175.47,300.77 L1177.41,299.70 L1179.23,298.46 L1180.91,297.08 L1182.44,295.56 L1183.81,293.92 L1184.99,292.17 L1185.99,290.33 L1186.78,288.42 L1187.37,286.45 L1187.74,284.45 L1187.89,282.44 L1187.83,280.43 L1187.54,278.44 L1187.04,276.50 L1186.33,274.61 L1185.42,272.81 L1184.31,271.10 L1183.02,269.50Z" fill="#faf5f5" stroke="#fbf2f3" stroke-width="1.1"/>
<path d="M1238.54,266.68 L1237.08,265.51 L1235.46,264.52 L1233.70,263.70 L1231.81,263.06 L1229.81,262.62 L1227.73,262.37 L1225.58,262.31 L1223.38,262.46 L1221.15,262.80 L1218.92,263.34 L1216.70,264.06 L1214.53,264.96 L1212.41,266.04 L1210.37,267.28 L1208.43,268.66 L1206.61,270.19 L1204.92,271.83 L1203.38,273.59 L1202.01,275.43 L1200.82,277.34 L1199.82,279.31 L1199.02,281.31 L1198.43,283.32 L1198.05,285.33 L1197.89,287.32 L1197.95,289.26 L1198.22,291.15 L1198.72,292.95 L1199.42,294.65 L1200.33,296.24 L1201.43,297.70 L1202.72,299.02 L1204.18,300.19 L1205.80,301.18 L1207.56,302.00 L1209.45,302.64 L1211.44,303.08 L1213.53,303.33 L1215.68,303.39 L1217.88,303.24 L1220.10,302.90 L1222.34,302.36 L1224.55,301.64 L1226.73,300.74 L1228.85,299.66 L1230.89,298.42 L1232.83,297.04 L1234.65,295.51 L1236.34,293.87 L1237.87,292.11 L1239.24,290.27 L1240.44,288.36 L1241.44,286.39 L1242.24,284.39 L1242.83,282.38 L1243.21,280.37 L1243.37,278.38 L1243.31,276.44 L1243.03,274.55 L1242.54,272.75 L1241.84,271.05 L1240.93,269.46 L1239.83,268.00Z" fill="#e3c4c4" stroke="#e4b3b5" stroke-width="1.1"/>
<path d="M1296.58,264.36 L1295.51,263.57 L1294.25,262.97 L1292.82,262.56 L1291.22,262.34 L1289.49,262.33 L1287.62,262.50 L1285.64,262.88 L1283.57,263.45 L1281.43,264.20 L1279.24,265.13 L1277.01,266.24 L1274.78,267.50 L1272.56,268.92 L1270.38,270.46 L1268.25,272.13 L1266.19,273.90 L1264.23,275.75 L1262.39,277.68 L1260.68,279.65 L1259.11,281.65 L1257.71,283.67 L1256.49,285.68 L1255.45,287.66 L1254.62,289.59 L1253.99,291.46 L1253.58,293.25 L1253.38,294.93 L1253.40,296.50 L1253.64,297.94 L1254.09,299.23 L1254.76,300.37 L1255.63,301.34 L1256.70,302.13 L1257.96,302.73 L1259.39,303.14 L1260.99,303.36 L1262.73,303.37 L1264.59,303.20 L1266.57,302.82 L1268.64,302.25 L1270.78,301.50 L1272.98,300.57 L1275.20,299.46 L1277.43,298.20 L1279.65,296.78 L1281.84,295.24 L1283.97,293.57 L1286.02,291.80 L1287.98,289.95 L1289.82,288.02 L1291.54,286.05 L1293.10,284.05 L1294.50,282.03 L1295.72,280.02 L1296.76,278.04 L1297.59,276.11 L1298.22,274.24 L1298.64,272.45 L1298.83,270.77 L1298.81,269.20 L1298.57,267.76 L1298.12,266.47 L1297.45,265.33Z" fill="#b76767" stroke="#ba3c40" stroke-width="1.1"/>
<path d="M1350.13,266.10 L1348.75,265.01 L1347.21,264.10 L1345.51,263.37 L1343.68,262.82 L1341.74,262.47 L1339.69,262.32 L1337.57,262.36 L1335.39,262.60 L1333.17,263.03 L1330.94,263.66 L1328.72,264.47 L1326.52,265.46 L1324.37,266.61 L1322.29,267.92 L1320.30,269.38 L1318.42,270.96 L1316.66,272.66 L1315.05,274.46 L1313.60,276.34 L1312.32,278.28 L1311.23,280.26 L1310.33,282.27 L1309.64,284.29 L1309.16,286.29 L1308.89,288.26 L1308.85,290.17 L1309.02,292.02 L1309.41,293.78 L1310.01,295.43 L1310.82,296.96 L1311.83,298.35 L1313.03,299.60 L1314.41,300.69 L1315.96,301.60 L1317.65,302.33 L1319.48,302.88 L1321.43,303.23 L1323.47,303.38 L1325.60,303.34 L1327.78,303.10 L1329.99,302.67 L1332.22,302.04 L1334.45,301.23 L1336.65,300.24 L1338.80,299.09 L1340.88,297.78 L1342.87,296.32 L1344.75,294.74 L1346.50,293.04 L1348.11,291.24 L1349.57,289.36 L1350.84,287.42 L1351.94,285.44 L1352.83,283.43 L1353.53,281.41 L1354.01,279.41 L1354.27,277.44 L1354.32,275.53 L1354.15,273.68 L1353.76,271.92 L1353.15,270.27 L1352.34,268.74 L1351.33,267.35Z" fill="#d9aeae" stroke="#da9799" stroke-width="1.1"/>
<path d="M1406.63,265.18 L1405.40,264.24 L1403.99,263.48 L1402.42,262.90 L1400.70,262.52 L1398.85,262.33 L1396.89,262.34 L1394.83,262.55 L1392.70,262.95 L1390.51,263.54 L1388.29,264.32 L1386.06,265.28 L1383.83,266.41 L1381.64,267.70 L1379.50,269.13 L1377.44,270.69 L1375.46,272.38 L1373.60,274.16 L1371.87,276.02 L1370.28,277.96 L1368.86,279.94 L1367.61,281.94 L1366.55,283.96 L1365.68,285.96 L1365.02,287.94 L1364.58,289.86 L1364.35,291.72 L1364.34,293.50 L1364.55,295.17 L1364.97,296.72 L1365.61,298.14 L1366.45,299.41 L1367.49,300.52 L1368.73,301.46 L1370.13,302.22 L1371.70,302.80 L1373.42,303.18 L1375.27,303.37 L1377.24,303.36 L1379.29,303.15 L1381.43,302.75 L1383.61,302.16 L1385.83,301.38 L1388.07,300.42 L1390.29,299.29 L1392.48,298.00 L1394.62,296.57 L1396.69,295.01 L1398.66,293.32 L1400.52,291.54 L1402.25,289.68 L1403.84,287.74 L1405.26,285.76 L1406.51,283.76 L1407.58,281.74 L1408.44,279.74 L1409.10,277.76 L1409.54,275.84 L1409.77,273.98 L1409.78,272.20 L1409.58,270.53 L1409.15,268.98 L1408.51,267.56 L1407.67,266.29Z" fill="#c78989" stroke="#c9686b" stroke-width="1.1"/>
<path d="M959.72,318.07 L958.10,316.75 L956.34,315.59 L954.46,314.60 L952.47,313.78 L950.38,313.15 L948.23,312.71 L946.03,312.46 L943.81,312.42 L941.58,312.56 L939.36,312.91 L937.18,313.45 L935.06,314.18 L933.02,315.08 L931.08,316.16 L929.25,317.40 L927.56,318.79 L926.02,320.32 L924.65,321.97 L923.45,323.72 L922.45,325.57 L921.64,327.48 L921.05,329.45 L920.67,331.45 L920.50,333.46 L920.55,335.47 L920.83,337.46 L921.31,339.40 L922.01,341.28 L922.92,343.08 L924.02,344.79 L925.30,346.37 L926.76,347.83 L928.37,349.15 L930.13,350.31 L932.02,351.30 L934.01,352.12 L936.09,352.75 L938.24,353.19 L940.44,353.44 L942.67,353.48 L944.90,353.34 L947.12,352.99 L949.30,352.45 L951.42,351.72 L953.46,350.82 L955.40,349.74 L957.22,348.50 L958.92,347.11 L960.46,345.58 L961.83,343.93 L963.02,342.18 L964.03,340.33 L964.83,338.42 L965.43,336.45 L965.81,334.45 L965.98,332.44 L965.92,330.43 L965.65,328.44 L965.16,326.50 L964.46,324.62 L963.56,322.82 L962.46,321.11 L961.18,319.53Z" fill="#f9f3f3" stroke="#f9eff0" stroke-width="1.1"/>
<path d="M1014.56,318.64 L1012.88,317.27 L1011.07,316.04 L1009.14,314.98 L1007.10,314.09 L1004.99,313.39 L1002.82,312.87 L1000.61,312.54 L998.38,312.41 L996.15,312.48 L993.94,312.75 L991.79,313.21 L989.70,313.86 L987.69,314.69 L985.80,315.70 L984.02,316.88 L982.39,318.21 L980.92,319.68 L979.62,321.28 L978.50,323.00 L977.57,324.81 L976.85,326.69 L976.34,328.64 L976.05,330.63 L975.97,332.64 L976.12,334.66 L976.48,336.65 L977.05,338.62 L977.84,340.53 L978.82,342.36 L980.00,344.10 L981.35,345.74 L982.88,347.26 L984.55,348.63 L986.36,349.86 L988.30,350.92 L990.33,351.81 L992.44,352.51 L994.61,353.03 L996.83,353.36 L999.06,353.49 L1001.29,353.42 L1003.49,353.15 L1005.65,352.69 L1007.74,352.04 L1009.74,351.21 L1011.64,350.20 L1013.41,349.02 L1015.04,347.69 L1016.51,346.22 L1017.82,344.62 L1018.94,342.90 L1019.86,341.09 L1020.58,339.21 L1021.09,337.26 L1021.38,335.27 L1021.46,333.26 L1021.32,331.24 L1020.96,329.25 L1020.38,327.28 L1019.60,325.37 L1018.61,323.54 L1017.44,321.80 L1016.08,320.16Z" fill="#fefdf9" stroke="#fefcf8" stroke-width="1.1"/>
<path d="M1070.44,318.28 L1068.80,316.94 L1067.02,315.76 L1065.12,314.74 L1063.11,313.89 L1061.01,313.23 L1058.85,312.76 L1056.65,312.49 L1054.42,312.41 L1052.19,312.53 L1049.98,312.84 L1047.81,313.35 L1045.70,314.05 L1043.67,314.93 L1041.75,315.99 L1039.94,317.20 L1038.27,318.57 L1036.76,320.08 L1035.41,321.71 L1034.24,323.45 L1033.27,325.28 L1032.50,327.18 L1031.93,329.14 L1031.58,331.14 L1031.45,333.16 L1031.54,335.17 L1031.84,337.16 L1032.36,339.11 L1033.09,341.00 L1034.03,342.81 L1035.16,344.53 L1036.47,346.14 L1037.95,347.62 L1039.59,348.96 L1041.37,350.14 L1043.27,351.16 L1045.28,352.01 L1047.37,352.67 L1049.53,353.14 L1051.74,353.41 L1053.97,353.49 L1056.20,353.37 L1058.41,353.06 L1060.58,352.55 L1062.69,351.85 L1064.72,350.97 L1066.64,349.91 L1068.45,348.70 L1070.12,347.33 L1071.63,345.82 L1072.98,344.19 L1074.15,342.45 L1075.12,340.62 L1075.89,338.72 L1076.46,336.76 L1076.81,334.76 L1076.94,332.74 L1076.85,330.73 L1076.55,328.74 L1076.03,326.79 L1075.29,324.90 L1074.36,323.09 L1073.23,321.37 L1071.92,319.76Z" fill="#fdfafa" stroke="#fdf9f9" stroke-width="1.1"/>
<path d="M1126.92,317.37 L1125.38,316.14 L1123.70,315.06 L1121.87,314.16 L1119.93,313.44 L1117.89,312.90 L1115.78,312.56 L1113.60,312.41 L1111.38,312.47 L1109.15,312.72 L1106.93,313.16 L1104.73,313.80 L1102.57,314.62 L1100.49,315.61 L1098.49,316.78 L1096.61,318.10 L1094.84,319.56 L1093.22,321.15 L1091.76,322.85 L1090.48,324.66 L1089.37,326.54 L1088.46,328.48 L1087.76,330.47 L1087.27,332.48 L1086.99,334.49 L1086.93,336.50 L1087.09,338.46 L1087.47,340.37 L1088.06,342.22 L1088.86,343.97 L1089.86,345.61 L1091.05,347.14 L1092.42,348.53 L1093.96,349.76 L1095.65,350.84 L1097.47,351.74 L1099.41,352.46 L1101.45,353.00 L1103.57,353.34 L1105.75,353.49 L1107.96,353.43 L1110.19,353.18 L1112.42,352.74 L1114.62,352.10 L1116.77,351.28 L1118.86,350.29 L1120.85,349.12 L1122.74,347.80 L1124.50,346.34 L1126.12,344.75 L1127.58,343.05 L1128.87,341.24 L1129.97,339.36 L1130.88,337.42 L1131.58,335.43 L1132.08,333.42 L1132.35,331.41 L1132.41,329.40 L1132.25,327.44 L1131.87,325.53 L1131.28,323.68 L1130.48,321.93 L1129.48,320.29 L1128.29,318.76Z" fill="#eedada" stroke="#eed0d1" stroke-width="1.1"/>
<path d="M1180.83,318.79 L1179.14,317.40 L1177.31,316.16 L1175.37,315.08 L1173.33,314.18 L1171.21,313.45 L1169.03,312.91 L1166.81,312.56 L1164.58,312.42 L1162.36,312.46 L1160.16,312.71 L1158.00,313.15 L1155.92,313.78 L1153.93,314.60 L1152.04,315.59 L1150.28,316.75 L1148.67,318.07 L1147.21,319.53 L1145.93,321.11 L1144.83,322.82 L1143.92,324.62 L1143.23,326.50 L1142.74,328.44 L1142.46,330.43 L1142.41,332.44 L1142.58,334.45 L1142.96,336.45 L1143.56,338.42 L1144.36,340.33 L1145.36,342.18 L1146.56,343.93 L1147.93,345.58 L1149.47,347.11 L1151.16,348.50 L1152.99,349.74 L1154.93,350.82 L1156.97,351.72 L1159.09,352.45 L1161.27,352.99 L1163.49,353.34 L1165.72,353.48 L1167.94,353.44 L1170.14,353.19 L1172.30,352.75 L1174.38,352.12 L1176.37,351.30 L1178.26,350.31 L1180.02,349.15 L1181.63,347.83 L1183.09,346.37 L1184.37,344.79 L1185.47,343.08 L1186.38,341.28 L1187.07,339.40 L1187.56,337.46 L1187.84,335.47 L1187.89,333.46 L1187.72,331.45 L1187.34,329.45 L1186.74,327.48 L1185.94,325.57 L1184.94,323.72 L1183.74,321.97 L1182.37,320.32Z" fill="#fefcf5" stroke="#fefbf3" stroke-width="1.1"/>
<path d="M1237.65,317.58 L1236.09,316.32 L1234.38,315.22 L1232.54,314.29 L1230.58,313.53 L1228.53,312.97 L1226.40,312.60 L1224.21,312.42 L1222.00,312.45 L1219.76,312.67 L1217.54,313.08 L1215.35,313.69 L1213.20,314.48 L1211.13,315.45 L1209.15,316.59 L1207.28,317.88 L1205.54,319.32 L1203.94,320.90 L1202.51,322.59 L1201.25,324.37 L1200.17,326.24 L1199.30,328.18 L1198.63,330.16 L1198.17,332.17 L1197.92,334.18 L1197.90,336.19 L1198.09,338.16 L1198.50,340.08 L1199.13,341.94 L1199.96,343.70 L1200.99,345.37 L1202.21,346.91 L1203.61,348.32 L1205.17,349.58 L1206.88,350.68 L1208.72,351.61 L1210.68,352.37 L1212.73,352.93 L1214.86,353.30 L1217.04,353.48 L1219.26,353.45 L1221.49,353.23 L1223.72,352.82 L1225.91,352.21 L1228.05,351.42 L1230.12,350.45 L1232.11,349.31 L1233.97,348.02 L1235.72,346.58 L1237.31,345.00 L1238.75,343.31 L1240.01,341.53 L1241.08,339.66 L1241.96,337.72 L1242.63,335.74 L1243.09,333.73 L1243.33,331.72 L1243.36,329.71 L1243.16,327.74 L1242.75,325.82 L1242.13,323.96 L1241.30,322.20 L1240.27,320.53 L1239.05,318.99Z" fill="#f1e2e2" stroke="#f2d9da" stroke-width="1.1"/>
<path d="M1291.95,318.64 L1290.27,317.27 L1288.46,316.04 L1286.53,314.98 L1284.49,314.09 L1282.38,313.39 L1280.21,312.87 L1278.00,312.54 L1275.76,312.41 L1273.54,312.48 L1271.33,312.75 L1269.18,313.21 L1267.09,313.86 L1265.08,314.69 L1263.19,315.70 L1261.41,316.88 L1259.78,318.21 L1258.31,319.68 L1257.01,321.28 L1255.89,323.00 L1254.96,324.81 L1254.24,326.69 L1253.73,328.64 L1253.44,330.63 L1253.36,332.64 L1253.51,334.66 L1253.87,336.65 L1254.44,338.62 L1255.22,340.53 L1256.21,342.36 L1257.38,344.10 L1258.74,345.74 L1260.26,347.26 L1261.94,348.63 L1263.75,349.86 L1265.69,350.92 L1267.72,351.81 L1269.83,352.51 L1272.00,353.03 L1274.22,353.36 L1276.45,353.49 L1278.67,353.42 L1280.88,353.15 L1283.03,352.69 L1285.12,352.04 L1287.13,351.21 L1289.02,350.20 L1290.80,349.02 L1292.43,347.69 L1293.90,346.22 L1295.21,344.62 L1296.32,342.90 L1297.25,341.09 L1297.97,339.21 L1298.48,337.26 L1298.77,335.27 L1298.85,333.26 L1298.71,331.24 L1298.35,329.25 L1297.77,327.28 L1296.99,325.37 L1296.00,323.54 L1294.83,321.80 L1293.47,320.16Z" fill="#fefdf9" stroke="#fefcf8" stroke-width="1.1"/>
<path d="M1347.75,318.35 L1346.10,317.01 L1344.31,315.81 L1342.41,314.79 L1340.39,313.93 L1338.29,313.26 L1336.13,312.78 L1333.93,312.50 L1331.70,312.41 L1329.47,312.52 L1327.26,312.82 L1325.09,313.32 L1322.98,314.01 L1320.96,314.88 L1319.04,315.93 L1317.24,317.14 L1315.58,318.50 L1314.07,320.00 L1312.73,321.62 L1311.58,323.36 L1310.61,325.18 L1309.85,327.09 L1309.30,329.04 L1308.96,331.04 L1308.84,333.05 L1308.94,335.07 L1309.25,337.06 L1309.78,339.01 L1310.53,340.91 L1311.47,342.72 L1312.61,344.45 L1313.93,346.06 L1315.42,347.55 L1317.07,348.89 L1318.85,350.09 L1320.76,351.11 L1322.77,351.97 L1324.87,352.64 L1327.03,353.12 L1329.24,353.40 L1331.47,353.49 L1333.70,353.38 L1335.91,353.08 L1338.08,352.58 L1340.18,351.89 L1342.21,351.02 L1344.13,349.97 L1345.93,348.76 L1347.59,347.40 L1349.09,345.90 L1350.43,344.28 L1351.59,342.54 L1352.55,340.72 L1353.32,338.81 L1353.87,336.86 L1354.21,334.86 L1354.33,332.85 L1354.23,330.83 L1353.91,328.84 L1353.38,326.89 L1352.64,324.99 L1351.70,323.18 L1350.56,321.45 L1349.24,319.84Z" fill="#fefdfd" stroke="#fefcfc" stroke-width="1.1"/>
<path d="M1403.23,318.35 L1401.58,317.01 L1399.79,315.81 L1397.88,314.79 L1395.87,313.93 L1393.77,313.26 L1391.61,312.78 L1389.40,312.50 L1387.17,312.41 L1384.94,312.52 L1382.74,312.82 L1380.57,313.32 L1378.46,314.01 L1376.44,314.88 L1374.52,315.93 L1372.72,317.14 L1371.06,318.50 L1369.55,320.00 L1368.21,321.62 L1367.05,323.36 L1366.09,325.18 L1365.33,327.09 L1364.77,329.04 L1364.44,331.04 L1364.32,333.05 L1364.41,335.07 L1364.73,337.06 L1365.26,339.01 L1366.00,340.91 L1366.95,342.72 L1368.09,344.45 L1369.41,346.06 L1370.90,347.55 L1372.54,348.89 L1374.33,350.09 L1376.24,351.11 L1378.25,351.97 L1380.35,352.64 L1382.51,353.12 L1384.72,353.40 L1386.95,353.49 L1389.18,353.38 L1391.39,353.08 L1393.55,352.58 L1395.66,351.89 L1397.68,351.02 L1399.60,349.97 L1401.40,348.76 L1403.06,347.40 L1404.57,345.90 L1405.91,344.28 L1407.07,342.54 L1408.03,340.72 L1408.79,338.81 L1409.35,336.86 L1409.69,334.86 L1409.81,332.85 L1409.71,330.83 L1409.39,328.84 L1408.86,326.89 L1408.12,324.99 L1407.17,323.18 L1406.04,321.45 L1404.72,319.84Z" fill="#fefdfd" stroke="#fefcfc" stroke-width="1.1"/>
<path d="M960.86,367.14 L959.36,365.94 L957.71,364.91 L955.92,364.05 L954.01,363.38 L952.00,362.89 L949.90,362.60 L947.73,362.51 L945.53,362.61 L943.30,362.91 L941.07,363.41 L938.86,364.09 L936.69,364.96 L934.59,366.00 L932.57,367.20 L930.65,368.56 L928.85,370.06 L927.20,371.68 L925.69,373.41 L924.36,375.24 L923.21,377.14 L922.25,379.09 L921.49,381.09 L920.94,383.10 L920.61,385.11 L920.49,387.11 L920.60,389.06 L920.92,390.96 L921.46,392.78 L922.20,394.50 L923.15,396.12 L924.29,397.61 L925.62,398.96 L927.11,400.16 L928.77,401.19 L930.55,402.05 L932.47,402.72 L934.48,403.21 L936.58,403.50 L938.75,403.59 L940.95,403.49 L943.18,403.19 L945.41,402.69 L947.62,402.01 L949.79,401.14 L951.89,400.10 L953.91,398.90 L955.83,397.54 L957.62,396.04 L959.28,394.42 L960.79,392.69 L962.12,390.86 L963.27,388.96 L964.23,387.01 L964.99,385.01 L965.54,383.00 L965.87,380.99 L965.98,378.99 L965.88,377.04 L965.56,375.14 L965.02,373.32 L964.28,371.60 L963.33,369.98 L962.18,368.49Z" fill="#e8cece" stroke="#e9c0c1" stroke-width="1.1"/>
<path d="M1015.96,367.47 L1014.43,366.24 L1012.74,365.16 L1010.92,364.26 L1008.98,363.54 L1006.94,363.00 L1004.82,362.66 L1002.64,362.51 L1000.43,362.57 L998.20,362.82 L995.97,363.26 L993.77,363.90 L991.62,364.72 L989.53,365.71 L987.54,366.88 L985.65,368.20 L983.89,369.66 L982.27,371.25 L980.81,372.95 L979.52,374.76 L978.42,376.64 L977.51,378.58 L976.80,380.57 L976.31,382.58 L976.04,384.59 L975.98,386.60 L976.14,388.56 L976.52,390.47 L977.11,392.32 L977.91,394.07 L978.91,395.71 L980.10,397.24 L981.47,398.63 L983.01,399.86 L984.69,400.94 L986.52,401.84 L988.46,402.56 L990.50,403.10 L992.61,403.44 L994.79,403.59 L997.01,403.53 L999.24,403.28 L1001.46,402.84 L1003.66,402.20 L1005.82,401.38 L1007.90,400.39 L1009.90,399.22 L1011.78,397.90 L1013.55,396.44 L1015.16,394.85 L1016.63,393.15 L1017.91,391.34 L1019.02,389.46 L1019.92,387.52 L1020.63,385.53 L1021.12,383.52 L1021.40,381.51 L1021.46,379.50 L1021.30,377.54 L1020.92,375.63 L1020.33,373.78 L1019.53,372.03 L1018.53,370.39 L1017.33,368.86Z" fill="#eedada" stroke="#eed0d1" stroke-width="1.1"/>
<path d="M1071.67,367.27 L1070.15,366.06 L1068.49,365.01 L1066.69,364.13 L1064.76,363.44 L1062.74,362.94 L1060.63,362.62 L1058.46,362.51 L1056.25,362.59 L1054.02,362.87 L1051.79,363.35 L1049.59,364.01 L1047.42,364.86 L1045.33,365.88 L1043.32,367.07 L1041.41,368.41 L1039.63,369.90 L1037.99,371.51 L1036.50,373.23 L1035.19,375.04 L1034.05,376.94 L1033.11,378.89 L1032.38,380.88 L1031.85,382.89 L1031.54,384.91 L1031.45,386.90 L1031.58,388.86 L1031.92,390.76 L1032.48,392.59 L1033.25,394.33 L1034.22,395.96 L1035.38,397.46 L1036.72,398.83 L1038.23,400.04 L1039.90,401.09 L1041.70,401.97 L1043.63,402.66 L1045.65,403.16 L1047.76,403.48 L1049.93,403.59 L1052.14,403.51 L1054.37,403.23 L1056.60,402.75 L1058.80,402.09 L1060.96,401.24 L1063.06,400.22 L1065.07,399.03 L1066.98,397.69 L1068.76,396.20 L1070.40,394.59 L1071.89,392.87 L1073.20,391.06 L1074.34,389.16 L1075.28,387.21 L1076.01,385.22 L1076.54,383.21 L1076.85,381.19 L1076.94,379.20 L1076.81,377.24 L1076.47,375.34 L1075.91,373.51 L1075.14,371.77 L1074.17,370.14 L1073.01,368.64Z" fill="#ead3d3" stroke="#ebc6c7" stroke-width="1.1"/>
<path d="M1125.59,368.67 L1123.93,367.30 L1122.12,366.09 L1120.19,365.03 L1118.17,364.15 L1116.06,363.45 L1113.89,362.94 L1111.68,362.63 L1109.44,362.51 L1107.22,362.59 L1105.01,362.86 L1102.85,363.33 L1100.76,363.99 L1098.75,364.84 L1096.85,365.86 L1095.07,367.04 L1093.43,368.38 L1091.95,369.86 L1090.63,371.47 L1089.51,373.19 L1088.57,375.00 L1087.84,376.89 L1087.32,378.84 L1087.01,380.83 L1086.93,382.84 L1087.06,384.86 L1087.41,386.86 L1087.97,388.82 L1088.75,390.72 L1089.72,392.55 L1090.89,394.29 L1092.23,395.92 L1093.75,397.43 L1095.42,398.80 L1097.23,400.01 L1099.15,401.07 L1101.18,401.95 L1103.29,402.65 L1105.46,403.16 L1107.67,403.47 L1109.90,403.59 L1112.13,403.51 L1114.33,403.24 L1116.49,402.77 L1118.59,402.11 L1120.59,401.26 L1122.50,400.24 L1124.28,399.06 L1125.92,397.72 L1127.40,396.24 L1128.71,394.63 L1129.84,392.91 L1130.77,391.10 L1131.50,389.21 L1132.02,387.26 L1132.33,385.27 L1132.42,383.26 L1132.29,381.24 L1131.94,379.24 L1131.37,377.28 L1130.60,375.38 L1129.62,373.55 L1128.46,371.81 L1127.11,370.18Z" fill="#fefefb" stroke="#fefdfa" stroke-width="1.1"/>
<path d="M1181.63,368.17 L1180.02,366.85 L1178.26,365.69 L1176.37,364.70 L1174.38,363.88 L1172.30,363.25 L1170.14,362.81 L1167.94,362.56 L1165.72,362.52 L1163.49,362.66 L1161.27,363.01 L1159.09,363.55 L1156.97,364.28 L1154.93,365.18 L1152.99,366.26 L1151.16,367.50 L1149.47,368.89 L1147.93,370.42 L1146.56,372.07 L1145.36,373.82 L1144.36,375.67 L1143.56,377.58 L1142.96,379.55 L1142.58,381.55 L1142.41,383.56 L1142.46,385.57 L1142.74,387.56 L1143.23,389.50 L1143.92,391.38 L1144.83,393.18 L1145.93,394.89 L1147.21,396.47 L1148.67,397.93 L1150.28,399.25 L1152.04,400.41 L1153.93,401.40 L1155.92,402.22 L1158.00,402.85 L1160.16,403.29 L1162.36,403.54 L1164.58,403.58 L1166.81,403.44 L1169.03,403.09 L1171.21,402.55 L1173.33,401.82 L1175.37,400.92 L1177.31,399.84 L1179.14,398.60 L1180.83,397.21 L1182.37,395.68 L1183.74,394.03 L1184.94,392.28 L1185.94,390.43 L1186.74,388.52 L1187.34,386.55 L1187.72,384.55 L1187.89,382.54 L1187.84,380.53 L1187.56,378.54 L1187.07,376.60 L1186.38,374.72 L1185.47,372.92 L1184.37,371.21 L1183.09,369.63Z" fill="#f9f3f3" stroke="#f9eff0" stroke-width="1.1"/>
<path d="M1236.87,368.38 L1235.23,367.04 L1233.45,365.86 L1231.55,364.84 L1229.54,363.99 L1227.45,363.33 L1225.29,362.86 L1223.08,362.59 L1220.86,362.51 L1218.62,362.63 L1216.41,362.94 L1214.24,363.45 L1212.13,364.15 L1210.11,365.03 L1208.18,366.09 L1206.37,367.30 L1204.71,368.67 L1203.19,370.18 L1201.84,371.81 L1200.68,373.55 L1199.70,375.38 L1198.93,377.28 L1198.36,379.24 L1198.01,381.24 L1197.88,383.26 L1197.97,385.27 L1198.28,387.26 L1198.80,389.21 L1199.53,391.10 L1200.46,392.91 L1201.59,394.63 L1202.90,396.24 L1204.38,397.72 L1206.02,399.06 L1207.80,400.24 L1209.71,401.26 L1211.71,402.11 L1213.81,402.77 L1215.97,403.24 L1218.17,403.51 L1220.40,403.59 L1222.63,403.47 L1224.84,403.16 L1227.01,402.65 L1229.12,401.95 L1231.15,401.07 L1233.07,400.01 L1234.88,398.80 L1236.55,397.43 L1238.07,395.92 L1239.41,394.29 L1240.58,392.55 L1241.55,390.72 L1242.33,388.82 L1242.89,386.86 L1243.24,384.86 L1243.37,382.84 L1243.29,380.83 L1242.98,378.84 L1242.46,376.89 L1241.73,375.00 L1240.79,373.19 L1239.67,371.47 L1238.35,369.86Z" fill="#fdfafa" stroke="#fdf9f9" stroke-width="1.1"/>
<path d="M1290.03,370.47 L1288.20,368.94 L1286.26,367.54 L1284.21,366.30 L1282.09,365.21 L1279.91,364.30 L1277.70,363.57 L1275.46,363.02 L1273.24,362.67 L1271.04,362.52 L1268.89,362.56 L1266.81,362.80 L1264.82,363.23 L1262.94,363.86 L1261.19,364.67 L1259.58,365.66 L1258.12,366.81 L1256.84,368.12 L1255.75,369.58 L1254.85,371.16 L1254.16,372.86 L1253.68,374.66 L1253.42,376.54 L1253.37,378.48 L1253.54,380.46 L1253.93,382.47 L1254.53,384.49 L1255.34,386.49 L1256.36,388.46 L1257.56,390.37 L1258.94,392.22 L1260.48,393.98 L1262.18,395.63 L1264.01,397.16 L1265.95,398.56 L1268.00,399.80 L1270.12,400.89 L1272.30,401.80 L1274.51,402.53 L1276.75,403.08 L1278.97,403.43 L1281.17,403.58 L1283.32,403.54 L1285.40,403.30 L1287.39,402.87 L1289.27,402.24 L1291.02,401.43 L1292.64,400.44 L1294.09,399.29 L1295.37,397.98 L1296.46,396.52 L1297.36,394.94 L1298.05,393.24 L1298.53,391.44 L1298.80,389.56 L1298.84,387.62 L1298.67,385.64 L1298.28,383.63 L1297.68,381.61 L1296.87,379.61 L1295.86,377.64 L1294.65,375.73 L1293.28,373.88 L1291.73,372.12Z" fill="#f9eed0" stroke="#f8ebc9" stroke-width="1.1"/>
<path d="M1344.94,370.98 L1343.07,369.41 L1341.10,367.97 L1339.02,366.68 L1336.88,365.54 L1334.69,364.57 L1332.46,363.78 L1330.23,363.18 L1328.01,362.76 L1325.83,362.55 L1323.70,362.52 L1321.65,362.70 L1319.69,363.07 L1317.85,363.64 L1316.13,364.39 L1314.57,365.32 L1313.17,366.43 L1311.95,367.69 L1310.92,369.10 L1310.09,370.64 L1309.46,372.31 L1309.05,374.08 L1308.85,375.93 L1308.88,377.85 L1309.12,379.83 L1309.58,381.83 L1310.25,383.85 L1311.12,385.85 L1312.20,387.83 L1313.45,389.77 L1314.89,391.64 L1316.48,393.43 L1318.22,395.12 L1320.09,396.69 L1322.07,398.13 L1324.14,399.42 L1326.28,400.56 L1328.48,401.53 L1330.70,402.32 L1332.93,402.92 L1335.15,403.34 L1337.34,403.55 L1339.47,403.58 L1341.52,403.40 L1343.48,403.03 L1345.32,402.46 L1347.03,401.71 L1348.59,400.78 L1349.99,399.67 L1351.21,398.41 L1352.24,397.00 L1353.08,395.46 L1353.70,393.79 L1354.12,392.02 L1354.31,390.17 L1354.29,388.25 L1354.05,386.27 L1353.59,384.27 L1352.92,382.25 L1352.04,380.25 L1350.97,378.27 L1349.71,376.33 L1348.28,374.46 L1346.68,372.67Z" fill="#f8eac8" stroke="#f7e7be" stroke-width="1.1"/>
<path d="M1399.31,371.99 L1397.37,370.35 L1395.34,368.82 L1393.22,367.44 L1391.04,366.21 L1388.83,365.14 L1386.60,364.24 L1384.37,363.52 L1382.17,362.99 L1380.02,362.65 L1377.93,362.51 L1375.93,362.57 L1374.04,362.83 L1372.28,363.28 L1370.65,363.92 L1369.19,364.74 L1367.90,365.74 L1366.79,366.91 L1365.87,368.23 L1365.16,369.70 L1364.67,371.29 L1364.38,373.00 L1364.32,374.80 L1364.47,376.69 L1364.85,378.63 L1365.43,380.62 L1366.23,382.63 L1367.22,384.65 L1368.41,386.65 L1369.78,388.61 L1371.31,390.52 L1372.99,392.36 L1374.81,394.11 L1376.75,395.75 L1378.79,397.28 L1380.90,398.66 L1383.08,399.89 L1385.29,400.96 L1387.52,401.86 L1389.75,402.58 L1391.95,403.11 L1394.11,403.45 L1396.19,403.59 L1398.19,403.53 L1400.08,403.27 L1401.85,402.82 L1403.47,402.18 L1404.93,401.36 L1406.23,400.36 L1407.34,399.19 L1408.25,397.87 L1408.96,396.40 L1409.46,394.81 L1409.74,393.10 L1409.80,391.30 L1409.65,389.41 L1409.27,387.47 L1408.69,385.48 L1407.89,383.47 L1406.90,381.45 L1405.71,379.45 L1404.35,377.49 L1402.81,375.58 L1401.13,373.74Z" fill="#f6e4b7" stroke="#f4dfaa" stroke-width="1.1"/>
<text x="1331.6" y="89.7" text-anchor="middle" font-family="'DejaVu Sans', 'Liberation Sans', sans-serif" font-size="14.8" font-weight="bold" fill="#3b2a2a" stroke="#3b2a2a" stroke-width="0.35" letter-spacing="0.1">*</text>
<text x="1387.1" y="89.7" text-anchor="middle" font-family="'DejaVu Sans', 'Liberation Sans', sans-serif" font-size="14.8" font-weight="bold" fill="#3b2a2a" stroke="#3b2a2a" stroke-width="0.35" letter-spacing="0.1">**</text>
<text x="1276.1" y="290.1" text-anchor="middle" font-family="'DejaVu Sans', 'Liberation Sans', sans-serif" font-size="14.8" font-weight="bold" fill="#3b2a2a" stroke="#3b2a2a" stroke-width="0.35" letter-spacing="0.1">**</text>
<text x="1387.1" y="290.1" text-anchor="middle" font-family="'DejaVu Sans', 'Liberation Sans', sans-serif" font-size="14.8" font-weight="bold" fill="#3b2a2a" stroke="#3b2a2a" stroke-width="0.35" letter-spacing="0.1">*</text>
<text x="1387.1" y="390.2" text-anchor="middle" font-family="'DejaVu Sans', 'Liberation Sans', sans-serif" font-size="14.8" font-weight="bold" fill="#3b2a2a" stroke="#3b2a2a" stroke-width="0.35" letter-spacing="0.1">*</text>
<rect x="916.10" y="6.00" width="498.70" height="402.10" fill="none" stroke="#111" stroke-width="2.1"/>
<g font-size="10.3" fill="#1a1a1a" stroke="#1a1a1a" stroke-width="0.4" text-anchor="end">
<text x="907.2" y="35.1">age</text>
<text x="907.2" y="85.2">LEDD</text>
<text x="907.2" y="135.2">HAMD</text>
<text x="907.2" y="185.3">HAMA</text>
<text x="907.2" y="235.5">MMSE</text>
<text x="907.2" y="285.6">Disease of duration</text>
<text x="907.2" y="335.7">UPDRSIII off</text>
<text x="907.2" y="385.8">UPDRSIII on</text>
</g>
<g font-size="10.3" fill="#1a1a1a" stroke="#1a1a1a" stroke-width="0.35" text-anchor="end">
<text transform="translate(951.1,425.3) rotate(-45)">P1 Happy Latency</text>
<text transform="translate(1006.6,425.3) rotate(-45)">P1 Neutral Latency</text>
<text transform="translate(1062.1,425.3) rotate(-45)">P1 Sad Latency</text>
<text transform="translate(1117.6,425.3) rotate(-45)">N170 Happy Latency</text>
<text transform="translate(1173.1,425.3) rotate(-45)">N170 Neutral Latency</text>
<text transform="translate(1228.5,425.3) rotate(-45)">N170 Sad Latency</text>
<text transform="translate(1284.0,425.3) rotate(-45)">EPN Happy Latency</text>
<text transform="translate(1339.5,425.3) rotate(-45)">EPN Neutral Latency</text>
<text transform="translate(1395.0,425.3) rotate(-45)">EPN Sad Latency</text>
</g>
<defs><linearGradient id="cbb" x1="0" y1="0" x2="0" y2="1">
<stop offset="0.000" stop-color="#8b0a0a"/>
<stop offset="0.050" stop-color="#972222"/>
<stop offset="0.100" stop-color="#a23b3b"/>
<stop offset="0.150" stop-color="#ae5454"/>
<stop offset="0.200" stop-color="#b96c6c"/>
<stop offset="0.250" stop-color="#c58484"/>
<stop offset="0.300" stop-color="#d19d9d"/>
<stop offset="0.350" stop-color="#dcb6b6"/>
<stop offset="0.400" stop-color="#e8cece"/>
<stop offset="0.450" stop-color="#f3e6e6"/>
<stop offset="0.500" stop-color="#ffffff"/>
<stop offset="0.550" stop-color="#fcf8eb"/>
<stop offset="0.600" stop-color="#faf1d8"/>
<stop offset="0.650" stop-color="#f8ebc9"/>
<stop offset="0.700" stop-color="#f6e5ba"/>
<stop offset="0.750" stop-color="#f4dfab"/>
<stop offset="0.800" stop-color="#f2d99c"/>
<stop offset="0.850" stop-color="#f0d38e"/>
<stop offset="0.900" stop-color="#eecd80"/>
<stop offset="0.950" stop-color="#ecc873"/>
<stop offset="1.000" stop-color="#eac266"/>
</linearGradient></defs>
<rect x="1422.4" y="7.0" width="22.5" height="400.6" fill="url(#cbb)" stroke="#222" stroke-width="1.1"/>
<line x1="1444.9" y1="7.00" x2="1452.4" y2="7.00" stroke="#222" stroke-width="1.4"/>
<text transform="translate(1456.4,12.00) scale(0.95,1.18)" font-family="'Liberation Serif', 'Times New Roman', serif" font-size="11.5" fill="#333">1. 0</text>
<line x1="1444.9" y1="47.06" x2="1452.4" y2="47.06" stroke="#222" stroke-width="1.4"/>
<text transform="translate(1456.4,52.06) scale(0.95,1.18)" font-family="'Liberation Serif', 'Times New Roman', serif" font-size="11.5" fill="#333">0. 80</text>
<line x1="1444.9" y1="87.12" x2="1452.4" y2="87.12" stroke="#222" stroke-width="1.4"/>
<text transform="translate(1456.4,92.12) scale(0.95,1.18)" font-family="'Liberation Serif', 'Times New Roman', serif" font-size="11.5" fill="#333">0. 60</text>
<line x1="1444.9" y1="127.18" x2="1452.4" y2="127.18" stroke="#222" stroke-width="1.4"/>
<text transform="translate(1456.4,132.18) scale(0.95,1.18)" font-family="'Liberation Serif', 'Times New Roman', serif" font-size="11.5" fill="#333">0. 40</text>
<line x1="1444.9" y1="167.24" x2="1452.4" y2="167.24" stroke="#222" stroke-width="1.4"/>
<text transform="translate(1456.4,172.24) scale(0.95,1.18)" font-family="'Liberation Serif', 'Times New Roman', serif" font-size="11.5" fill="#333">0. 20</text>
<line x1="1444.9" y1="207.30" x2="1452.4" y2="207.30" stroke="#222" stroke-width="1.4"/>
<text transform="translate(1456.4,212.30) scale(0.95,1.18)" font-family="'Liberation Serif', 'Times New Roman', serif" font-size="11.5" fill="#333">0. 0</text>
<line x1="1444.9" y1="247.36" x2="1452.4" y2="247.36" stroke="#222" stroke-width="1.4"/>
<text transform="translate(1456.4,252.36) scale(0.95,1.18)" font-family="'Liberation Serif', 'Times New Roman', serif" font-size="11.5" fill="#333">−0. 20</text>
<line x1="1444.9" y1="287.42" x2="1452.4" y2="287.42" stroke="#222" stroke-width="1.4"/>
<text transform="translate(1456.4,292.42) scale(0.95,1.18)" font-family="'Liberation Serif', 'Times New Roman', serif" font-size="11.5" fill="#333">−0. 40</text>
<line x1="1444.9" y1="327.48" x2="1452.4" y2="327.48" stroke="#222" stroke-width="1.4"/>
<text transform="translate(1456.4,332.48) scale(0.95,1.18)" font-family="'Liberation Serif', 'Times New Roman', serif" font-size="11.5" fill="#333">−0. 60</text>
<line x1="1444.9" y1="367.54" x2="1452.4" y2="367.54" stroke="#222" stroke-width="1.4"/>
<text transform="translate(1456.4,372.54) scale(0.95,1.18)" font-family="'Liberation Serif', 'Times New Roman', serif" font-size="11.5" fill="#333">−0. 80</text>
<line x1="1444.9" y1="407.60" x2="1452.4" y2="407.60" stroke="#222" stroke-width="1.4"/>
<text transform="translate(1456.4,412.60) scale(0.95,1.18)" font-family="'Liberation Serif', 'Times New Roman', serif" font-size="11.5" fill="#333">−1. 0</text>
<text x="763.3" y="22.8" font-size="26.3" fill="#111">(b)</text>
<line x1="161.3" y1="750.9" x2="464.8" y2="685.3" stroke="#1e1e1e" stroke-width="1.6"/>
<g fill="#828282" stroke="#646464" stroke-width="1.1">
<ellipse cx="161.3" cy="723.0" rx="4.2" ry="4.55"/>
<ellipse cx="161.3" cy="724.8" rx="4.2" ry="4.55"/>
<ellipse cx="179.2" cy="644.7" rx="4.2" ry="4.55"/>
<ellipse cx="179.2" cy="739.7" rx="4.2" ry="4.55"/>
<ellipse cx="179.2" cy="782.1" rx="4.2" ry="4.55"/>
<ellipse cx="161.3" cy="756.4" rx="4.2" ry="4.55"/>
<ellipse cx="161.3" cy="785.1" rx="4.2" ry="4.55"/>
<ellipse cx="161.3" cy="789.9" rx="4.2" ry="4.55"/>
<ellipse cx="197.0" cy="757.0" rx="4.2" ry="4.55"/>
<ellipse cx="197.0" cy="764.2" rx="4.2" ry="4.55"/>
<ellipse cx="214.9" cy="725.4" rx="4.2" ry="4.55"/>
<ellipse cx="232.7" cy="747.5" rx="4.2" ry="4.55"/>
<ellipse cx="250.6" cy="741.2" rx="4.2" ry="4.55"/>
<ellipse cx="268.4" cy="723.6" rx="4.2" ry="4.55"/>
<ellipse cx="268.4" cy="740.9" rx="4.2" ry="4.55"/>
<ellipse cx="286.3" cy="740.9" rx="4.2" ry="4.55"/>
<ellipse cx="304.1" cy="749.9" rx="4.2" ry="4.55"/>
<ellipse cx="304.1" cy="761.2" rx="4.2" ry="4.55"/>
<ellipse cx="339.9" cy="716.4" rx="4.2" ry="4.55"/>
<ellipse cx="357.7" cy="632.7" rx="4.2" ry="4.55"/>
<ellipse cx="357.7" cy="671.0" rx="4.2" ry="4.55"/>
<ellipse cx="375.6" cy="706.2" rx="4.2" ry="4.55"/>
<ellipse cx="393.4" cy="607.6" rx="4.2" ry="4.55"/>
<ellipse cx="393.4" cy="690.3" rx="4.2" ry="4.55"/>
<ellipse cx="393.4" cy="728.3" rx="4.2" ry="4.55"/>
<ellipse cx="411.3" cy="712.4" rx="4.2" ry="4.55"/>
<ellipse cx="411.3" cy="714.8" rx="4.2" ry="4.55"/>
<ellipse cx="447.0" cy="718.2" rx="4.2" ry="4.55"/>
<ellipse cx="464.8" cy="684.1" rx="4.2" ry="4.55"/>
<ellipse cx="464.8" cy="705.6" rx="4.2" ry="4.55"/>
</g>
<g stroke="#111" stroke-width="2.4" fill="none" stroke-linecap="butt">
<line x1="125.6" y1="810.8" x2="125.6" y2="569.4"/>
<line x1="115.6" y1="809.6" x2="483.9" y2="809.6"/>
<line x1="125.6" y1="809.6" x2="125.6" y2="819.6"/>
<line x1="214.9" y1="809.6" x2="214.9" y2="819.6"/>
<line x1="304.1" y1="809.6" x2="304.1" y2="819.6"/>
<line x1="393.4" y1="809.6" x2="393.4" y2="819.6"/>
<line x1="482.7" y1="809.6" x2="482.7" y2="819.6"/>
<line x1="115.6" y1="809.6" x2="125.6" y2="809.6"/>
<line x1="115.6" y1="749.9" x2="125.6" y2="749.9"/>
<line x1="115.6" y1="690.1" x2="125.6" y2="690.1"/>
<line x1="115.6" y1="630.4" x2="125.6" y2="630.4"/>
<line x1="115.6" y1="570.6" x2="125.6" y2="570.6"/>
</g>
<g font-size="13.2" font-weight="bold" fill="#111" stroke="#111" stroke-width="0.3">
<text transform="translate(125.6,837.6) scale(0.95,1.2)" text-anchor="middle">0</text>
<text transform="translate(214.9,837.6) scale(0.95,1.2)" text-anchor="middle">5</text>
<text transform="translate(304.1,837.6) scale(0.95,1.2)" text-anchor="middle">10</text>
<text transform="translate(393.4,837.6) scale(0.95,1.2)" text-anchor="middle">15</text>
<text transform="translate(482.7,837.6) scale(0.95,1.2)" text-anchor="middle">20</text>
<text transform="translate(112.9,815.7) scale(1.1,1.26)" text-anchor="end">0</text>
<text transform="translate(112.9,756.0) scale(1.1,1.26)" text-anchor="end">5</text>
<text transform="translate(112.9,696.2) scale(1.1,1.26)" text-anchor="end">10</text>
<text transform="translate(112.9,636.5) scale(1.1,1.26)" text-anchor="end">15</text>
<text transform="translate(112.9,576.7) scale(1.1,1.26)" text-anchor="end">20</text>
</g>
<text transform="translate(84.7,691.4) rotate(-90) scale(1,1.1)" text-anchor="middle" font-size="17.5" font-weight="bold" fill="#111">P1 Amplitude</text>
<text transform="translate(304.1,864.8) scale(1.03,1.08)" text-anchor="middle" font-size="17" font-weight="bold" fill="#111">HAMD</text>
<text transform="translate(304.5,542.9) scale(1,1.06)" text-anchor="middle" font-size="22.6" font-weight="bold" fill="#111">Happy</text>
<text x="7.7" y="544.2" font-size="27" fill="#111">(c)</text>
<line x1="669.4" y1="755.1" x2="974.2" y2="678.3" stroke="#1e1e1e" stroke-width="1.6"/>
<g fill="#828282" stroke="#646464" stroke-width="1.1">
<ellipse cx="669.4" cy="728.1" rx="4.2" ry="4.55"/>
<ellipse cx="669.4" cy="730.3" rx="4.2" ry="4.55"/>
<ellipse cx="669.4" cy="745.1" rx="4.2" ry="4.55"/>
<ellipse cx="669.4" cy="789.9" rx="4.2" ry="4.55"/>
<ellipse cx="669.4" cy="795.2" rx="4.2" ry="4.55"/>
<ellipse cx="687.3" cy="705.5" rx="4.2" ry="4.55"/>
<ellipse cx="687.3" cy="743.6" rx="4.2" ry="4.55"/>
<ellipse cx="687.3" cy="778.8" rx="4.2" ry="4.55"/>
<ellipse cx="705.2" cy="756.4" rx="4.2" ry="4.55"/>
<ellipse cx="723.1" cy="712.3" rx="4.2" ry="4.55"/>
<ellipse cx="741.1" cy="759.2" rx="4.2" ry="4.55"/>
<ellipse cx="759.0" cy="734.3" rx="4.2" ry="4.55"/>
<ellipse cx="776.9" cy="699.5" rx="4.2" ry="4.55"/>
<ellipse cx="776.9" cy="727.8" rx="4.2" ry="4.55"/>
<ellipse cx="794.9" cy="717.6" rx="4.2" ry="4.55"/>
<ellipse cx="812.8" cy="730.3" rx="4.2" ry="4.55"/>
<ellipse cx="812.8" cy="780.2" rx="4.2" ry="4.55"/>
<ellipse cx="848.7" cy="718.7" rx="4.2" ry="4.55"/>
<ellipse cx="866.6" cy="667.5" rx="4.2" ry="4.55"/>
<ellipse cx="866.6" cy="712.2" rx="4.2" ry="4.55"/>
<ellipse cx="884.5" cy="718.8" rx="4.2" ry="4.55"/>
<ellipse cx="902.5" cy="589.4" rx="4.2" ry="4.55"/>
<ellipse cx="902.5" cy="687.6" rx="4.2" ry="4.55"/>
<ellipse cx="902.5" cy="722.4" rx="4.2" ry="4.55"/>
<ellipse cx="920.4" cy="683.5" rx="4.2" ry="4.55"/>
<ellipse cx="920.4" cy="701.5" rx="4.2" ry="4.55"/>
<ellipse cx="956.2" cy="685.7" rx="4.2" ry="4.55"/>
<ellipse cx="974.2" cy="671.5" rx="4.2" ry="4.55"/>
<ellipse cx="974.2" cy="726.9" rx="4.2" ry="4.55"/>
</g>
<g stroke="#111" stroke-width="2.4" fill="none" stroke-linecap="butt">
<line x1="633.5" y1="810.7" x2="633.5" y2="569.7"/>
<line x1="623.5" y1="809.5" x2="993.3" y2="809.5"/>
<line x1="633.5" y1="809.5" x2="633.5" y2="819.5"/>
<line x1="723.1" y1="809.5" x2="723.1" y2="819.5"/>
<line x1="812.8" y1="809.5" x2="812.8" y2="819.5"/>
<line x1="902.5" y1="809.5" x2="902.5" y2="819.5"/>
<line x1="992.1" y1="809.5" x2="992.1" y2="819.5"/>
<line x1="623.5" y1="809.5" x2="633.5" y2="809.5"/>
<line x1="623.5" y1="749.9" x2="633.5" y2="749.9"/>
<line x1="623.5" y1="690.2" x2="633.5" y2="690.2"/>
<line x1="623.5" y1="630.5" x2="633.5" y2="630.5"/>
<line x1="623.5" y1="570.9" x2="633.5" y2="570.9"/>
</g>
<g font-size="13.2" font-weight="bold" fill="#111" stroke="#111" stroke-width="0.3">
<text transform="translate(633.5,837.5) scale(0.95,1.2)" text-anchor="middle">0</text>
<text transform="translate(723.1,837.5) scale(0.95,1.2)" text-anchor="middle">5</text>
<text transform="translate(812.8,837.5) scale(0.95,1.2)" text-anchor="middle">10</text>
<text transform="translate(902.5,837.5) scale(0.95,1.2)" text-anchor="middle">15</text>
<text transform="translate(992.1,837.5) scale(0.95,1.2)" text-anchor="middle">20</text>
<text transform="translate(620.8,815.6) scale(1.1,1.26)" text-anchor="end">0</text>
<text transform="translate(620.8,756.0) scale(1.1,1.26)" text-anchor="end">5</text>
<text transform="translate(620.8,696.3) scale(1.1,1.26)" text-anchor="end">10</text>
<text transform="translate(620.8,636.6) scale(1.1,1.26)" text-anchor="end">15</text>
<text transform="translate(620.8,577.0) scale(1.1,1.26)" text-anchor="end">20</text>
</g>
<text transform="translate(592.6,691.5) rotate(-90) scale(1,1.1)" text-anchor="middle" font-size="17.5" font-weight="bold" fill="#111">P1 Amplitude</text>
<text transform="translate(812.8,864.8) scale(1.03,1.08)" text-anchor="middle" font-size="17" font-weight="bold" fill="#111">HAMD</text>
<text transform="translate(812.7,543.1) scale(1,1.06)" text-anchor="middle" font-size="22.6" font-weight="bold" fill="#111">Neutral</text>
<text x="538.8" y="544.2" font-size="27" fill="#111">(d)</text>
<line x1="1204.9" y1="729.8" x2="1507.9" y2="662.2" stroke="#1e1e1e" stroke-width="1.6"/>
<g fill="#828282" stroke="#646464" stroke-width="1.1">
<ellipse cx="1204.9" cy="707.1" rx="4.2" ry="4.55"/>
<ellipse cx="1204.9" cy="709.2" rx="4.2" ry="4.55"/>
<ellipse cx="1204.9" cy="753.5" rx="4.2" ry="4.55"/>
<ellipse cx="1204.9" cy="773.8" rx="4.2" ry="4.55"/>
<ellipse cx="1222.8" cy="718.1" rx="4.2" ry="4.55"/>
<ellipse cx="1222.8" cy="719.6" rx="4.2" ry="4.55"/>
<ellipse cx="1222.8" cy="746.5" rx="4.2" ry="4.55"/>
<ellipse cx="1240.6" cy="722.7" rx="4.2" ry="4.55"/>
<ellipse cx="1240.6" cy="736.4" rx="4.2" ry="4.55"/>
<ellipse cx="1258.4" cy="690.7" rx="4.2" ry="4.55"/>
<ellipse cx="1276.2" cy="708.2" rx="4.2" ry="4.55"/>
<ellipse cx="1294.0" cy="708.5" rx="4.2" ry="4.55"/>
<ellipse cx="1311.9" cy="705.3" rx="4.2" ry="4.55"/>
<ellipse cx="1311.9" cy="711.6" rx="4.2" ry="4.55"/>
<ellipse cx="1329.7" cy="687.0" rx="4.2" ry="4.55"/>
<ellipse cx="1347.5" cy="720.7" rx="4.2" ry="4.55"/>
<ellipse cx="1347.5" cy="733.5" rx="4.2" ry="4.55"/>
<ellipse cx="1383.1" cy="694.6" rx="4.2" ry="4.55"/>
<ellipse cx="1401.0" cy="658.9" rx="4.2" ry="4.55"/>
<ellipse cx="1401.0" cy="684.4" rx="4.2" ry="4.55"/>
<ellipse cx="1418.8" cy="688.3" rx="4.2" ry="4.55"/>
<ellipse cx="1436.6" cy="613.4" rx="4.2" ry="4.55"/>
<ellipse cx="1436.6" cy="644.6" rx="4.2" ry="4.55"/>
<ellipse cx="1436.6" cy="703.2" rx="4.2" ry="4.55"/>
<ellipse cx="1454.4" cy="669.2" rx="4.2" ry="4.55"/>
<ellipse cx="1454.4" cy="679.4" rx="4.2" ry="4.55"/>
<ellipse cx="1490.1" cy="682.3" rx="4.2" ry="4.55"/>
<ellipse cx="1507.9" cy="675.7" rx="4.2" ry="4.55"/>
<ellipse cx="1507.9" cy="680.8" rx="4.2" ry="4.55"/>
</g>
<g stroke="#111" stroke-width="2.4" fill="none" stroke-linecap="butt">
<line x1="1169.3" y1="818.3" x2="1169.3" y2="578.4"/>
<line x1="1159.3" y1="769.6" x2="1526.9" y2="769.6"/>
<line x1="1258.4" y1="769.6" x2="1258.4" y2="779.6"/>
<line x1="1347.5" y1="769.6" x2="1347.5" y2="779.6"/>
<line x1="1436.6" y1="769.6" x2="1436.6" y2="779.6"/>
<line x1="1525.7" y1="769.6" x2="1525.7" y2="779.6"/>
<line x1="1159.3" y1="817.1" x2="1169.3" y2="817.1"/>
<line x1="1159.3" y1="769.6" x2="1169.3" y2="769.6"/>
<line x1="1159.3" y1="722.1" x2="1169.3" y2="722.1"/>
<line x1="1159.3" y1="674.6" x2="1169.3" y2="674.6"/>
<line x1="1159.3" y1="627.1" x2="1169.3" y2="627.1"/>
<line x1="1159.3" y1="579.6" x2="1169.3" y2="579.6"/>
</g>
<g font-size="13.2" font-weight="bold" fill="#111" stroke="#111" stroke-width="0.3">
<text transform="translate(1258.4,797.6) scale(0.95,1.2)" text-anchor="middle">5</text>
<text transform="translate(1347.5,797.6) scale(0.95,1.2)" text-anchor="middle">10</text>
<text transform="translate(1436.6,797.6) scale(0.95,1.2)" text-anchor="middle">15</text>
<text transform="translate(1525.7,797.6) scale(0.95,1.2)" text-anchor="middle">20</text>
<text transform="translate(1156.6,823.2) scale(1.1,1.26)" text-anchor="end">-5</text>
<text transform="translate(1156.6,775.7) scale(1.1,1.26)" text-anchor="end">0</text>
<text transform="translate(1156.6,728.2) scale(1.1,1.26)" text-anchor="end">5</text>
<text transform="translate(1156.6,680.7) scale(1.1,1.26)" text-anchor="end">10</text>
<text transform="translate(1156.6,633.2) scale(1.1,1.26)" text-anchor="end">15</text>
<text transform="translate(1156.6,585.7) scale(1.1,1.26)" text-anchor="end">20</text>
</g>
<text transform="translate(1128.4,699.6) rotate(-90) scale(1,1.1)" text-anchor="middle" font-size="17.5" font-weight="bold" fill="#111">P1 Amplitude</text>
<text transform="translate(1347.5,824.5) scale(1.03,1.08)" text-anchor="middle" font-size="17" font-weight="bold" fill="#111">HAMD</text>
<text transform="translate(1346.8,551.2) scale(1,1.06)" text-anchor="middle" font-size="22.6" font-weight="bold" fill="#111">Sad</text>
<text x="1075.6" y="541.6" font-size="27" fill="#111">(e)</text>
</svg>
</body></html>
